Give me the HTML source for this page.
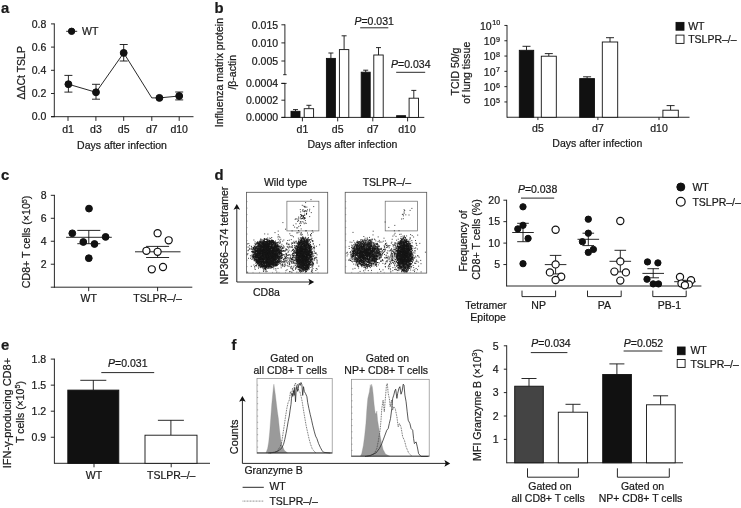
<!DOCTYPE html>
<html><head><meta charset="utf-8"><title>Figure</title>
<style>
html,body{margin:0;padding:0;background:#fff;}
body{width:741px;height:508px;overflow:hidden;}
svg{display:block;font-family:"Liberation Sans",sans-serif;fill:#1a1a1a;}
text{stroke:#1a1a1a;stroke-width:0.22px;}
</style></head><body>
<svg style="will-change:transform" width="741" height="508" viewBox="0 0 741 508">
<rect x="0" y="0" width="741" height="508" fill="#fff" stroke="none"/>
<text x="0.90" y="12.90" text-anchor="start" font-size="14.8" font-weight="bold" >a</text>
<line x1="54.30" y1="23.45" x2="54.30" y2="117.15" stroke="#111" stroke-width="0.9" />
<line x1="51.00" y1="116.70" x2="193.50" y2="116.70" stroke="#111" stroke-width="0.9" />
<line x1="51.00" y1="116.70" x2="54.30" y2="116.70" stroke="#111" stroke-width="0.9" />
<text x="46.30" y="120.30" text-anchor="end" font-size="10.5" >0.0</text>
<line x1="51.00" y1="93.50" x2="54.30" y2="93.50" stroke="#111" stroke-width="0.9" />
<text x="46.30" y="97.10" text-anchor="end" font-size="10.5" >0.2</text>
<line x1="51.00" y1="70.30" x2="54.30" y2="70.30" stroke="#111" stroke-width="0.9" />
<text x="46.30" y="73.90" text-anchor="end" font-size="10.5" >0.4</text>
<line x1="51.00" y1="47.10" x2="54.30" y2="47.10" stroke="#111" stroke-width="0.9" />
<text x="46.30" y="50.70" text-anchor="end" font-size="10.5" >0.6</text>
<line x1="51.00" y1="23.90" x2="54.30" y2="23.90" stroke="#111" stroke-width="0.9" />
<text x="46.30" y="27.50" text-anchor="end" font-size="10.5" >0.8</text>
<line x1="68.00" y1="116.70" x2="68.00" y2="120.90" stroke="#111" stroke-width="0.9" />
<text x="68.00" y="132.50" text-anchor="middle" font-size="10.5" >d1</text>
<line x1="95.90" y1="116.70" x2="95.90" y2="120.90" stroke="#111" stroke-width="0.9" />
<text x="95.90" y="132.50" text-anchor="middle" font-size="10.5" >d3</text>
<line x1="123.70" y1="116.70" x2="123.70" y2="120.90" stroke="#111" stroke-width="0.9" />
<text x="123.70" y="132.50" text-anchor="middle" font-size="10.5" >d5</text>
<line x1="151.80" y1="116.70" x2="151.80" y2="120.90" stroke="#111" stroke-width="0.9" />
<text x="151.80" y="132.50" text-anchor="middle" font-size="10.5" >d7</text>
<line x1="179.20" y1="116.70" x2="179.20" y2="120.90" stroke="#111" stroke-width="0.9" />
<text x="179.20" y="132.50" text-anchor="middle" font-size="10.5" >d10</text>
<polyline fill="none" stroke="#111" stroke-width="0.9" points="68.4,84.2 96.0,92.3 123.7,52.9 151.8,97.9 159.4,97.9 179.2,96.0"/>
<line x1="68.40" y1="75.40" x2="68.40" y2="92.10" stroke="#111" stroke-width="0.9" />
<line x1="64.40" y1="75.40" x2="72.40" y2="75.40" stroke="#111" stroke-width="0.9" />
<line x1="64.40" y1="92.10" x2="72.40" y2="92.10" stroke="#111" stroke-width="0.9" />
<circle cx="68.40" cy="84.20" r="3.45" fill="#111" stroke="#111" stroke-width="1.0"/>
<line x1="96.00" y1="84.30" x2="96.00" y2="99.20" stroke="#111" stroke-width="0.9" />
<line x1="92.00" y1="84.30" x2="100.00" y2="84.30" stroke="#111" stroke-width="0.9" />
<line x1="92.00" y1="99.20" x2="100.00" y2="99.20" stroke="#111" stroke-width="0.9" />
<circle cx="96.00" cy="92.30" r="3.45" fill="#111" stroke="#111" stroke-width="1.0"/>
<line x1="123.70" y1="44.50" x2="123.70" y2="61.00" stroke="#111" stroke-width="0.9" />
<line x1="119.70" y1="44.50" x2="127.70" y2="44.50" stroke="#111" stroke-width="0.9" />
<line x1="119.70" y1="61.00" x2="127.70" y2="61.00" stroke="#111" stroke-width="0.9" />
<circle cx="123.70" cy="52.90" r="3.45" fill="#111" stroke="#111" stroke-width="1.0"/>
<circle cx="159.40" cy="97.90" r="3.45" fill="#111" stroke="#111" stroke-width="1.0"/>
<line x1="179.20" y1="92.00" x2="179.20" y2="99.90" stroke="#111" stroke-width="0.9" />
<line x1="175.20" y1="92.00" x2="183.20" y2="92.00" stroke="#111" stroke-width="0.9" />
<line x1="175.20" y1="99.90" x2="183.20" y2="99.90" stroke="#111" stroke-width="0.9" />
<circle cx="179.20" cy="96.00" r="3.45" fill="#111" stroke="#111" stroke-width="1.0"/>
<line x1="66.20" y1="31.30" x2="77.20" y2="31.30" stroke="#111" stroke-width="0.9" />
<circle cx="71.60" cy="31.30" r="3.20" fill="#111" stroke="#111" stroke-width="1.0"/>
<text x="82.00" y="35.20" text-anchor="start" font-size="10.5" >WT</text>
<text transform="translate(25.40,72.80) rotate(-90)" text-anchor="middle" font-size="10.5">ΔΔCt TSLP</text>
<text x="122.00" y="148.80" text-anchor="middle" font-size="10.5" >Days after infection</text>
<text x="214.60" y="12.80" text-anchor="start" font-size="14.8" font-weight="bold" >b</text>
<line x1="284.90" y1="24.35" x2="284.90" y2="74.70" stroke="#111" stroke-width="0.9" />
<line x1="284.90" y1="83.40" x2="284.90" y2="117.85" stroke="#111" stroke-width="0.9" />
<line x1="281.40" y1="117.40" x2="424.30" y2="117.40" stroke="#111" stroke-width="0.9" />
<line x1="283.20" y1="74.70" x2="286.60" y2="74.70" stroke="#111" stroke-width="0.9" />
<line x1="281.40" y1="83.40" x2="286.60" y2="83.40" stroke="#111" stroke-width="0.9" />
<line x1="281.40" y1="24.80" x2="284.90" y2="24.80" stroke="#111" stroke-width="0.9" />
<text x="278.10" y="28.50" text-anchor="end" font-size="10.5" >0.015</text>
<line x1="281.40" y1="42.90" x2="284.90" y2="42.90" stroke="#111" stroke-width="0.9" />
<text x="278.10" y="46.60" text-anchor="end" font-size="10.5" >0.010</text>
<line x1="281.40" y1="61.00" x2="284.90" y2="61.00" stroke="#111" stroke-width="0.9" />
<text x="278.10" y="64.70" text-anchor="end" font-size="10.5" >0.005</text>
<line x1="281.40" y1="83.40" x2="284.90" y2="83.40" stroke="#111" stroke-width="0.9" />
<text x="278.10" y="87.10" text-anchor="end" font-size="10.5" >0.0004</text>
<line x1="281.40" y1="100.20" x2="284.90" y2="100.20" stroke="#111" stroke-width="0.9" />
<text x="278.10" y="103.90" text-anchor="end" font-size="10.5" >0.0002</text>
<line x1="281.40" y1="117.40" x2="284.90" y2="117.40" stroke="#111" stroke-width="0.9" />
<text x="278.10" y="121.10" text-anchor="end" font-size="10.5" >0.0000</text>
<line x1="295.50" y1="109.60" x2="295.50" y2="111.30" stroke="#111" stroke-width="0.9" />
<line x1="293.00" y1="109.60" x2="298.00" y2="109.60" stroke="#111" stroke-width="0.9" />
<rect x="291.00" y="111.30" width="9.00" height="6.10" fill="#111" stroke="#111" stroke-width="0.9"/>
<line x1="308.90" y1="105.30" x2="308.90" y2="108.70" stroke="#111" stroke-width="0.9" />
<line x1="306.40" y1="105.30" x2="311.40" y2="105.30" stroke="#111" stroke-width="0.9" />
<rect x="304.20" y="108.70" width="9.40" height="8.70" fill="#fff" stroke="#111" stroke-width="0.9"/>
<line x1="302.40" y1="117.40" x2="302.40" y2="121.40" stroke="#111" stroke-width="0.9" />
<text x="302.40" y="132.60" text-anchor="middle" font-size="10.5" >d1</text>
<line x1="330.90" y1="53.00" x2="330.90" y2="58.40" stroke="#111" stroke-width="0.9" />
<line x1="328.40" y1="53.00" x2="333.40" y2="53.00" stroke="#111" stroke-width="0.9" />
<rect x="326.40" y="58.40" width="9.00" height="59.00" fill="#111" stroke="#111" stroke-width="0.9"/>
<line x1="344.10" y1="35.80" x2="344.10" y2="49.60" stroke="#111" stroke-width="0.9" />
<line x1="341.60" y1="35.80" x2="346.60" y2="35.80" stroke="#111" stroke-width="0.9" />
<rect x="339.40" y="49.60" width="9.40" height="67.80" fill="#fff" stroke="#111" stroke-width="0.9"/>
<line x1="337.70" y1="117.40" x2="337.70" y2="121.40" stroke="#111" stroke-width="0.9" />
<text x="337.70" y="132.60" text-anchor="middle" font-size="10.5" >d5</text>
<line x1="365.70" y1="70.20" x2="365.70" y2="72.20" stroke="#111" stroke-width="0.9" />
<line x1="363.20" y1="70.20" x2="368.20" y2="70.20" stroke="#111" stroke-width="0.9" />
<rect x="361.20" y="72.20" width="9.00" height="45.20" fill="#111" stroke="#111" stroke-width="0.9"/>
<line x1="378.50" y1="47.60" x2="378.50" y2="55.00" stroke="#111" stroke-width="0.9" />
<line x1="376.00" y1="47.60" x2="381.00" y2="47.60" stroke="#111" stroke-width="0.9" />
<rect x="373.80" y="55.00" width="9.40" height="62.40" fill="#fff" stroke="#111" stroke-width="0.9"/>
<line x1="372.80" y1="117.40" x2="372.80" y2="121.40" stroke="#111" stroke-width="0.9" />
<text x="372.80" y="132.60" text-anchor="middle" font-size="10.5" >d7</text>
<rect x="396.60" y="115.70" width="9.00" height="1.70" fill="#111" stroke="#111" stroke-width="0.9"/>
<line x1="413.80" y1="90.40" x2="413.80" y2="98.20" stroke="#111" stroke-width="0.9" />
<line x1="411.30" y1="90.40" x2="416.30" y2="90.40" stroke="#111" stroke-width="0.9" />
<rect x="409.10" y="98.20" width="9.40" height="19.20" fill="#fff" stroke="#111" stroke-width="0.9"/>
<line x1="407.60" y1="117.40" x2="407.60" y2="121.40" stroke="#111" stroke-width="0.9" />
<text x="407.00" y="132.60" text-anchor="middle" font-size="10.5" >d10</text>
<text x="374.20" y="25.40" text-anchor="middle" font-size="10.5"><tspan font-style="italic">P</tspan>=0.031</text>
<line x1="360.20" y1="27.80" x2="388.30" y2="27.80" stroke="#111" stroke-width="0.9" />
<text x="410.80" y="67.60" text-anchor="middle" font-size="10.5"><tspan font-style="italic">P</tspan>=0.034</text>
<line x1="396.20" y1="72.30" x2="425.20" y2="72.30" stroke="#111" stroke-width="0.9" />
<text transform="translate(223.00,72.60) rotate(-90)" text-anchor="middle" font-size="10.5">Influenza matrix protein</text>
<text transform="translate(235.80,72.30) rotate(-90)" text-anchor="middle" font-size="10.5">/β-actin</text>
<text x="352.40" y="147.80" text-anchor="middle" font-size="10.5" >Days after infection</text>
<line x1="507.00" y1="25.00" x2="507.00" y2="117.70" stroke="#111" stroke-width="0.9" />
<line x1="507.00" y1="117.25" x2="689.50" y2="117.25" stroke="#111" stroke-width="0.9" />
<line x1="504.40" y1="101.95" x2="507.00" y2="101.95" stroke="#111" stroke-width="0.9" />
<text x="495.50" y="106.25" text-anchor="end" font-size="10.5">10</text><text x="500.00" y="103.05" text-anchor="end" font-size="7.2">5</text>
<line x1="504.40" y1="86.65" x2="507.00" y2="86.65" stroke="#111" stroke-width="0.9" />
<text x="495.50" y="90.95" text-anchor="end" font-size="10.5">10</text><text x="500.00" y="87.75" text-anchor="end" font-size="7.2">6</text>
<line x1="504.40" y1="71.35" x2="507.00" y2="71.35" stroke="#111" stroke-width="0.9" />
<text x="495.50" y="75.65" text-anchor="end" font-size="10.5">10</text><text x="500.00" y="72.45" text-anchor="end" font-size="7.2">7</text>
<line x1="504.40" y1="56.05" x2="507.00" y2="56.05" stroke="#111" stroke-width="0.9" />
<text x="495.50" y="60.35" text-anchor="end" font-size="10.5">10</text><text x="500.00" y="57.15" text-anchor="end" font-size="7.2">8</text>
<line x1="504.40" y1="40.75" x2="507.00" y2="40.75" stroke="#111" stroke-width="0.9" />
<text x="495.50" y="45.05" text-anchor="end" font-size="10.5">10</text><text x="500.00" y="41.85" text-anchor="end" font-size="7.2">9</text>
<line x1="504.40" y1="25.45" x2="507.00" y2="25.45" stroke="#111" stroke-width="0.9" />
<text x="491.70" y="29.75" text-anchor="end" font-size="10.5">10</text><text x="500.20" y="25.15" text-anchor="end" font-size="7.2">10</text>
<line x1="526.50" y1="46.30" x2="526.50" y2="50.30" stroke="#111" stroke-width="0.9" />
<line x1="522.50" y1="46.30" x2="530.50" y2="46.30" stroke="#111" stroke-width="0.9" />
<rect x="519.30" y="50.30" width="14.40" height="66.95" fill="#111" stroke="#111" stroke-width="0.9"/>
<line x1="548.80" y1="53.60" x2="548.80" y2="56.20" stroke="#111" stroke-width="0.9" />
<line x1="544.80" y1="53.60" x2="552.80" y2="53.60" stroke="#111" stroke-width="0.9" />
<rect x="541.30" y="56.20" width="15.00" height="61.05" fill="#fff" stroke="#111" stroke-width="0.9"/>
<line x1="587.10" y1="76.80" x2="587.10" y2="78.60" stroke="#111" stroke-width="0.9" />
<line x1="583.10" y1="76.80" x2="591.10" y2="76.80" stroke="#111" stroke-width="0.9" />
<rect x="579.70" y="78.60" width="14.80" height="38.65" fill="#111" stroke="#111" stroke-width="0.9"/>
<line x1="610.00" y1="37.70" x2="610.00" y2="42.00" stroke="#111" stroke-width="0.9" />
<line x1="606.00" y1="37.70" x2="614.00" y2="37.70" stroke="#111" stroke-width="0.9" />
<rect x="602.30" y="42.00" width="15.40" height="75.25" fill="#fff" stroke="#111" stroke-width="0.9"/>
<line x1="670.60" y1="105.60" x2="670.60" y2="110.20" stroke="#111" stroke-width="0.9" />
<line x1="666.60" y1="105.60" x2="674.60" y2="105.60" stroke="#111" stroke-width="0.9" />
<rect x="662.90" y="110.20" width="15.40" height="7.05" fill="#fff" stroke="#111" stroke-width="0.9"/>
<line x1="537.90" y1="117.25" x2="537.90" y2="120.05" stroke="#111" stroke-width="0.9" />
<text x="537.90" y="132.30" text-anchor="middle" font-size="10.5" >d5</text>
<line x1="597.90" y1="117.25" x2="597.90" y2="120.05" stroke="#111" stroke-width="0.9" />
<text x="597.90" y="132.30" text-anchor="middle" font-size="10.5" >d7</text>
<line x1="659.00" y1="117.25" x2="659.00" y2="120.05" stroke="#111" stroke-width="0.9" />
<text x="659.00" y="132.30" text-anchor="middle" font-size="10.5" >d10</text>
<text x="597.30" y="147.30" text-anchor="middle" font-size="10.5" >Days after infection</text>
<text transform="translate(459.20,71.60) rotate(-90)" text-anchor="middle" font-size="10.5">TCID 50/g</text>
<text transform="translate(470.40,72.70) rotate(-90)" text-anchor="middle" font-size="10.5">of lung tissue</text>
<rect x="676.00" y="22.40" width="8.00" height="7.80" fill="#111" stroke="#111" stroke-width="0.9"/>
<text x="688.20" y="30.40" text-anchor="start" font-size="10.5" >WT</text>
<rect x="676.00" y="35.10" width="8.00" height="8.30" fill="#fff" stroke="#111" stroke-width="0.9"/>
<text x="688.20" y="43.40" text-anchor="start" font-size="10.5" >TSLPR–/–</text>
<text x="0.90" y="180.00" text-anchor="start" font-size="14.8" font-weight="bold" >c</text>
<line x1="54.40" y1="194.87" x2="54.40" y2="287.65" stroke="#111" stroke-width="0.9" />
<line x1="50.80" y1="287.20" x2="192.30" y2="287.20" stroke="#111" stroke-width="0.9" />
<line x1="50.80" y1="264.23" x2="54.40" y2="264.23" stroke="#111" stroke-width="0.9" />
<text x="46.60" y="267.93" text-anchor="end" font-size="10.5" >2</text>
<line x1="50.80" y1="241.26" x2="54.40" y2="241.26" stroke="#111" stroke-width="0.9" />
<text x="46.60" y="244.96" text-anchor="end" font-size="10.5" >4</text>
<line x1="50.80" y1="218.29" x2="54.40" y2="218.29" stroke="#111" stroke-width="0.9" />
<text x="46.60" y="221.99" text-anchor="end" font-size="10.5" >6</text>
<line x1="50.80" y1="195.32" x2="54.40" y2="195.32" stroke="#111" stroke-width="0.9" />
<text x="46.60" y="199.02" text-anchor="end" font-size="10.5" >8</text>
<line x1="88.70" y1="287.20" x2="88.70" y2="291.20" stroke="#111" stroke-width="0.9" />
<text x="88.70" y="302.10" text-anchor="middle" font-size="10.5" >WT</text>
<line x1="157.60" y1="287.20" x2="157.60" y2="291.20" stroke="#111" stroke-width="0.9" />
<text x="157.60" y="302.10" text-anchor="middle" font-size="10.5" >TSLPR–/–</text>
<line x1="66.10" y1="237.30" x2="111.80" y2="237.30" stroke="#111" stroke-width="0.9" />
<line x1="88.80" y1="230.40" x2="88.80" y2="243.70" stroke="#111" stroke-width="0.9" />
<line x1="77.30" y1="230.40" x2="100.30" y2="230.40" stroke="#111" stroke-width="0.9" />
<line x1="77.30" y1="243.70" x2="100.30" y2="243.70" stroke="#111" stroke-width="0.9" />
<circle cx="89.00" cy="208.60" r="3.40" fill="#111" stroke="#111" stroke-width="1.0"/>
<circle cx="72.30" cy="233.30" r="3.40" fill="#111" stroke="#111" stroke-width="1.0"/>
<circle cx="105.60" cy="236.90" r="3.40" fill="#111" stroke="#111" stroke-width="1.0"/>
<circle cx="83.30" cy="242.00" r="3.40" fill="#111" stroke="#111" stroke-width="1.0"/>
<circle cx="94.50" cy="244.00" r="3.40" fill="#111" stroke="#111" stroke-width="1.0"/>
<circle cx="88.80" cy="258.20" r="3.40" fill="#111" stroke="#111" stroke-width="1.0"/>
<line x1="135.00" y1="251.80" x2="180.50" y2="251.80" stroke="#111" stroke-width="0.9" />
<line x1="157.60" y1="246.40" x2="157.60" y2="257.50" stroke="#111" stroke-width="0.9" />
<line x1="146.10" y1="246.40" x2="169.10" y2="246.40" stroke="#111" stroke-width="0.9" />
<line x1="146.10" y1="257.50" x2="169.10" y2="257.50" stroke="#111" stroke-width="0.9" />
<circle cx="157.60" cy="233.20" r="3.55" fill="#fff" stroke="#111" stroke-width="1.2"/>
<circle cx="168.70" cy="240.30" r="3.55" fill="#fff" stroke="#111" stroke-width="1.2"/>
<circle cx="146.40" cy="250.80" r="3.55" fill="#fff" stroke="#111" stroke-width="1.2"/>
<circle cx="157.60" cy="251.80" r="3.55" fill="#fff" stroke="#111" stroke-width="1.2"/>
<circle cx="163.00" cy="267.00" r="3.55" fill="#fff" stroke="#111" stroke-width="1.2"/>
<circle cx="151.80" cy="269.30" r="3.55" fill="#fff" stroke="#111" stroke-width="1.2"/>
<text transform="translate(30.4,241.9) rotate(-90)" text-anchor="middle" font-size="10.6">CD8+ T cells (×10<tspan font-size="7.2" dy="-3.6">5</tspan><tspan dy="3.6">)</tspan></text>
<text x="214.60" y="179.50" text-anchor="start" font-size="14.8" font-weight="bold" >d</text>
<text x="285.50" y="186.40" text-anchor="middle" font-size="10.5" >Wild type</text>
<text x="386.90" y="186.40" text-anchor="middle" font-size="10.5" >TSLPR–/–</text>
<text transform="translate(227.60,235.40) rotate(-90)" text-anchor="middle" font-size="10.5">NP366–374 tetramer</text>
<line x1="236.80" y1="282.00" x2="236.80" y2="208.00" stroke="#111" stroke-width="0.9" />
<path d="M233.5,209.8L236.8,204.0L240.1,209.8L236.8,208.5Z" fill="#111"/>
<line x1="236.80" y1="282.00" x2="310.20" y2="282.00" stroke="#111" stroke-width="0.9" />
<path d="M308.4,278.7L314.2,282.0L308.4,285.3L309.7,282.0Z" fill="#111"/>
<text x="253.00" y="295.60" text-anchor="start" font-size="10.5" >CD8a</text>
<rect x="246.50" y="192.30" width="81.20" height="80.80" fill="#fff" stroke="#555" stroke-width="0.8"/>
<clipPath id="cp246"><rect x="246.9" y="192.70000000000002" width="80.4" height="80.0"/></clipPath>
<g clip-path="url(#cp246)">
</g>
<rect x="286.90" y="201.20" width="32.00" height="29.70" fill="none" stroke="#666" stroke-width="0.7"/>
<path d="M274.7 257.6h0M259.4 262.3h0M263.9 255.2h0M270.2 255.9h0M268.6 263.1h0M277.3 250.5h0M275.5 256.4h0M263.3 268.1h0M269.3 248.8h0M261.5 250.8h0M276.7 257.9h0M268.0 257.4h0M257.6 248.4h0M264.0 263.1h0M255.9 248.4h0M273.9 247.1h0M275.5 261.6h0M267.5 242.9h0M264.3 249.3h0M255.9 248.5h0M256.5 246.9h0M255.4 257.1h0M259.7 242.0h0M266.0 250.7h0M264.2 266.5h0M262.7 246.4h0M268.5 255.2h0M267.4 250.5h0M270.5 250.3h0M262.9 255.2h0M274.7 245.2h0M261.2 257.3h0M272.7 261.7h0M267.6 259.0h0M266.5 259.9h0M266.2 254.3h0M264.4 247.4h0M260.1 247.7h0M269.5 240.8h0M271.2 240.7h0M261.3 247.5h0M270.3 255.4h0M273.4 256.1h0M267.1 254.1h0M270.1 250.8h0M273.7 262.8h0M271.9 258.6h0M280.9 253.3h0M274.5 259.4h0M266.2 262.1h0M279.4 250.0h0M273.3 262.1h0M278.4 252.4h0M262.6 241.4h0M268.0 247.0h0M268.9 243.5h0M275.3 253.1h0M272.2 240.0h0M254.3 252.5h0M274.9 255.3h0M266.2 251.7h0M253.1 258.6h0M256.1 266.1h0M268.0 260.3h0M272.3 250.1h0M252.7 255.7h0M260.8 244.2h0M269.6 241.2h0M269.8 242.7h0M269.6 246.2h0M279.4 249.7h0M273.1 264.9h0M268.9 248.7h0M269.9 248.5h0M254.1 249.9h0M271.8 254.3h0M279.1 248.6h0M273.0 247.8h0M263.5 266.3h0M260.7 250.1h0M272.9 250.2h0M258.7 256.1h0M277.1 248.3h0M257.6 252.0h0M271.6 263.9h0M267.3 253.1h0M262.2 252.1h0M258.8 253.0h0M257.1 250.0h0M265.9 260.5h0M267.7 242.9h0M254.4 258.5h0M263.5 244.6h0M257.7 252.0h0M274.8 246.3h0M266.2 266.9h0M274.9 263.0h0M262.6 255.5h0M265.1 250.6h0M277.3 246.2h0M270.4 258.1h0M278.6 251.5h0M259.9 254.5h0M273.8 242.1h0M264.2 258.2h0M264.3 259.8h0M254.6 258.7h0M266.1 255.6h0M277.8 252.9h0M279.4 251.7h0M267.8 249.5h0M272.2 259.3h0M266.4 264.1h0M271.4 251.5h0M276.9 257.6h0M256.8 259.0h0M268.3 250.0h0M269.4 250.9h0M264.9 257.1h0M275.8 249.6h0M267.6 261.6h0M269.7 258.1h0M265.9 256.9h0M263.7 266.5h0M277.3 255.1h0M274.5 254.6h0M255.6 255.7h0M277.6 262.1h0M273.0 243.9h0M257.8 253.5h0M273.2 243.1h0M259.2 245.1h0M273.1 260.3h0M266.8 250.1h0M271.0 247.9h0M260.5 242.1h0M259.7 255.8h0M261.3 255.9h0M258.6 251.4h0M273.5 252.5h0M261.2 259.2h0M257.2 253.7h0M266.4 260.1h0M263.6 256.4h0M267.3 256.9h0M256.2 251.9h0M275.3 246.1h0M263.4 260.8h0M257.6 242.2h0M268.7 251.1h0M271.6 242.8h0M262.2 253.2h0M272.0 244.4h0M274.4 248.1h0M278.3 256.1h0M263.9 257.6h0M263.6 250.5h0M262.7 244.7h0M266.9 242.7h0M257.1 251.7h0M266.8 266.6h0M266.6 257.9h0M279.4 252.0h0M258.7 261.4h0M260.1 247.8h0M275.8 258.5h0M265.2 258.9h0M279.1 254.8h0M265.8 250.7h0M263.7 266.4h0M273.8 260.1h0M271.3 266.7h0M253.2 257.5h0M279.5 251.4h0M275.9 250.8h0M261.0 250.6h0M269.9 257.0h0M254.5 253.2h0M277.5 246.1h0M276.2 255.3h0M266.8 254.6h0M264.0 258.3h0M267.0 246.0h0M276.4 262.6h0M263.7 266.4h0M261.4 258.3h0M255.1 259.6h0M273.8 256.0h0M271.3 252.1h0M266.3 260.5h0M277.0 251.1h0M272.4 240.8h0M254.5 250.0h0M277.3 257.2h0M260.5 245.7h0M274.5 256.3h0M258.9 265.8h0M266.4 245.8h0M262.6 266.9h0M257.7 261.1h0M272.0 250.6h0M269.0 264.0h0M276.4 265.0h0M272.2 257.2h0M266.5 262.5h0M275.4 246.8h0M255.7 252.2h0M262.2 261.5h0M269.4 256.3h0M258.7 245.2h0M267.1 267.1h0M258.0 257.0h0M282.0 255.9h0M266.4 251.8h0M279.0 253.9h0M275.1 249.9h0M267.1 268.3h0M269.2 257.1h0M265.3 244.7h0M267.9 244.6h0M268.9 244.8h0M273.0 250.7h0M266.9 265.0h0M263.3 242.9h0M262.5 251.4h0M268.5 262.9h0M255.6 256.7h0M258.4 243.0h0M267.2 266.3h0M263.1 240.6h0M263.1 246.4h0M266.6 263.1h0M278.9 256.5h0M259.9 257.7h0M266.2 241.8h0M270.2 264.7h0M268.6 266.8h0M267.5 246.4h0M270.2 261.5h0M261.3 257.1h0M257.5 261.3h0M273.4 252.9h0M262.7 257.3h0M277.1 245.0h0M260.1 266.4h0M272.6 251.5h0M257.1 263.2h0M262.6 261.5h0M263.3 258.8h0M276.9 263.5h0M273.2 241.3h0M254.4 259.5h0M269.5 252.5h0M262.8 258.6h0M272.5 240.6h0M279.2 257.0h0M266.9 256.9h0M277.5 246.2h0M261.0 248.6h0M265.2 245.5h0M267.3 246.0h0M257.9 243.8h0M252.6 256.1h0M280.4 250.0h0M258.2 254.3h0M273.1 267.3h0M268.8 241.6h0M262.6 262.1h0M273.4 257.3h0M267.1 247.0h0M260.2 251.6h0M275.1 252.9h0M279.2 260.9h0M262.6 253.9h0M257.2 259.5h0M261.8 243.9h0M276.5 262.8h0M263.8 265.1h0M270.0 263.0h0M267.2 261.5h0M264.2 259.1h0M275.3 253.5h0M261.1 245.6h0M279.9 263.5h0M275.9 248.6h0M266.3 256.2h0M262.4 251.3h0M255.6 265.6h0M269.2 241.8h0M278.1 262.5h0M259.9 261.5h0M268.5 258.8h0M268.9 260.0h0M266.3 255.1h0M270.5 265.2h0M254.1 250.0h0M263.4 252.7h0M277.0 260.3h0M265.8 259.3h0M274.0 251.8h0M260.6 257.6h0M279.8 253.6h0M269.6 262.3h0M268.0 253.2h0M274.1 247.6h0M271.7 261.4h0M268.3 253.1h0M264.1 251.1h0M265.3 261.9h0M276.1 249.3h0M270.9 253.1h0M271.5 258.4h0M281.2 258.8h0M256.7 262.5h0M273.4 263.9h0M269.0 264.9h0M271.0 262.7h0M262.3 257.3h0M267.2 263.7h0M276.9 246.5h0M269.4 254.5h0M276.1 262.1h0M263.6 263.0h0M259.3 249.6h0M258.8 257.2h0M265.5 252.6h0M268.9 244.2h0M271.7 263.6h0M257.9 258.1h0M262.9 255.5h0M276.8 259.4h0M269.2 241.7h0M259.0 261.5h0M276.4 264.5h0M272.9 240.5h0M273.2 253.2h0M272.9 263.8h0M277.9 248.9h0M268.8 256.7h0M264.7 268.4h0M278.9 247.4h0M266.4 260.7h0M271.1 262.9h0M272.4 251.7h0M269.6 242.2h0M262.4 253.0h0M257.4 250.5h0M276.0 245.8h0M263.0 257.0h0M265.8 266.3h0M268.2 241.0h0M271.0 261.9h0M266.7 267.7h0M278.8 252.7h0M277.5 254.0h0M268.5 255.9h0M275.1 247.8h0M267.8 259.1h0M259.9 262.9h0M264.1 257.5h0M268.7 259.7h0M256.5 255.5h0M270.3 258.3h0M264.2 250.7h0M265.8 267.1h0M266.1 252.8h0M257.7 257.3h0M265.4 239.2h0M259.9 252.5h0M267.7 262.7h0M263.7 252.8h0M275.5 264.4h0M263.3 249.4h0M272.5 264.5h0M273.0 249.0h0M264.2 241.5h0M265.8 254.2h0M256.6 257.1h0M273.9 255.6h0M267.0 245.5h0M265.7 266.3h0M258.3 257.5h0M259.6 244.8h0M269.8 267.2h0M268.2 267.8h0M278.6 249.8h0M261.6 263.7h0M273.7 249.6h0M277.7 252.5h0M271.6 246.7h0M265.0 241.7h0M263.4 263.1h0M272.4 250.6h0M272.2 254.8h0M270.1 257.7h0M269.3 254.5h0M266.1 243.2h0M264.2 252.1h0M274.0 248.2h0M269.1 251.6h0M270.9 267.2h0M271.6 254.9h0M273.2 241.9h0M264.7 263.6h0M268.4 258.6h0M259.3 257.8h0M266.6 251.9h0M263.1 262.1h0M258.3 246.1h0M264.9 255.2h0M264.3 244.9h0M269.0 263.2h0M274.1 266.7h0M267.2 254.4h0M254.5 254.6h0M269.9 244.5h0M269.8 249.1h0M273.8 251.4h0M259.2 254.0h0M263.5 250.0h0M268.0 249.9h0M260.9 261.6h0M273.7 257.9h0M281.6 256.2h0M260.6 253.9h0M274.6 247.2h0M267.2 247.8h0M259.3 244.0h0M271.5 247.2h0M266.4 242.1h0M262.5 251.5h0M261.8 255.1h0M262.7 266.4h0M274.0 243.6h0M264.3 258.9h0M272.7 262.9h0M265.8 245.3h0M272.3 252.6h0M268.0 250.3h0M254.1 259.4h0M268.7 259.7h0M275.4 255.7h0M257.7 253.9h0M257.3 256.1h0M266.7 249.0h0M255.4 259.3h0M268.4 264.4h0M275.1 246.4h0M261.9 243.3h0M257.7 256.6h0M260.2 257.6h0M264.2 242.2h0M256.2 257.0h0M256.8 260.4h0M260.1 244.0h0M257.6 261.7h0M257.2 251.2h0M268.1 248.4h0M255.2 248.0h0M264.9 243.9h0M257.9 252.7h0M274.6 251.4h0M267.5 247.7h0M271.6 253.5h0M259.7 259.1h0M265.5 254.7h0M266.1 262.7h0M266.7 247.7h0M271.1 241.7h0M269.1 262.3h0M263.5 250.0h0M259.3 250.8h0M262.3 248.4h0M272.1 242.5h0M273.7 260.5h0M258.3 265.0h0M266.7 266.7h0M270.9 263.0h0M267.0 254.6h0M259.8 254.8h0M261.4 260.3h0M274.6 244.2h0M267.8 250.4h0M269.2 250.0h0M277.9 250.5h0M267.0 265.3h0M267.8 249.3h0M272.0 261.0h0M277.6 245.4h0M269.1 243.7h0M273.8 243.1h0M265.0 248.6h0M274.6 247.1h0M266.1 263.4h0M273.8 256.5h0M273.4 262.0h0M272.8 247.2h0M267.6 252.9h0M271.7 246.7h0M259.8 257.9h0M256.9 242.5h0M265.1 252.3h0M279.4 252.5h0M257.2 254.8h0M256.3 243.3h0M272.5 247.5h0M268.0 246.3h0M260.9 256.5h0M264.9 261.4h0M256.9 260.8h0M276.8 252.4h0M270.3 241.9h0M260.2 249.9h0M269.6 242.3h0M264.4 253.1h0M266.2 256.4h0M266.1 253.2h0M270.3 241.0h0M258.3 245.2h0M258.0 247.7h0M255.4 257.0h0M278.1 262.0h0M272.9 250.4h0M258.9 262.5h0M266.3 266.9h0M260.8 257.2h0M273.6 251.0h0M263.8 252.5h0M264.2 252.5h0M252.9 258.8h0M268.4 253.3h0M252.1 256.2h0M269.3 263.4h0M272.9 254.5h0M267.9 253.7h0M269.8 251.0h0M267.3 259.6h0M271.7 265.1h0M269.0 251.4h0M276.2 259.2h0M277.0 249.4h0M273.4 252.5h0M259.9 244.1h0M278.3 260.0h0M272.1 248.0h0M275.8 257.3h0M263.5 246.9h0M268.5 249.0h0M260.1 257.8h0M268.8 246.2h0M263.3 267.3h0M270.1 253.4h0M257.3 246.4h0M273.4 242.6h0M275.1 247.1h0M263.3 245.4h0M264.4 265.7h0M267.0 254.4h0M273.1 248.7h0M268.3 251.6h0M265.0 267.2h0M271.2 242.7h0M277.8 260.2h0M270.0 244.3h0M267.6 260.1h0M263.0 245.9h0M267.1 244.2h0M254.0 257.2h0M267.5 258.2h0M274.5 248.3h0M256.7 247.5h0M269.2 259.5h0M261.6 251.6h0M258.7 253.0h0M262.1 258.8h0M263.7 250.3h0M259.5 264.8h0M278.1 255.3h0M264.0 254.2h0M266.2 264.3h0M268.1 243.7h0M280.6 250.8h0M270.2 260.6h0M270.9 255.2h0M277.6 250.3h0M278.7 258.8h0M277.3 251.2h0M260.2 251.0h0M257.1 261.7h0M271.9 261.6h0M281.3 257.4h0M262.7 259.6h0M281.5 258.3h0M264.1 242.9h0M274.2 263.0h0M278.4 249.4h0M267.6 242.8h0M264.7 258.4h0M270.8 260.5h0M271.6 259.6h0M271.5 266.1h0M269.4 252.7h0M272.9 249.0h0M262.3 255.5h0M263.5 250.3h0M262.2 261.3h0M274.1 262.7h0M273.4 256.2h0M274.9 245.7h0M260.9 257.6h0M264.2 258.6h0M260.3 254.3h0M275.2 252.8h0M269.6 251.9h0M264.3 265.3h0M269.3 261.3h0M276.8 249.0h0M265.9 258.1h0M262.9 268.2h0M281.6 255.4h0M279.5 254.0h0M253.8 251.7h0M268.0 258.9h0M274.4 262.5h0M269.0 259.6h0M270.0 255.7h0M269.8 263.7h0M264.1 243.3h0M278.2 258.7h0M257.1 260.3h0M260.0 265.5h0M276.0 243.8h0M255.4 255.6h0M265.6 267.1h0M270.3 259.3h0M260.3 249.4h0M266.1 253.8h0M265.9 249.2h0M263.8 241.1h0M267.1 245.7h0M263.0 254.0h0M258.4 252.3h0M269.1 266.1h0M272.0 257.6h0M272.9 257.9h0M270.9 264.7h0M265.3 253.7h0M275.9 260.5h0M276.4 263.0h0M257.3 253.9h0M272.2 259.8h0M274.4 245.2h0M269.5 258.0h0M278.2 249.3h0M259.4 252.7h0M275.9 250.5h0M260.8 264.2h0M276.8 252.8h0M275.3 242.3h0M264.0 253.6h0M254.1 260.7h0M259.7 262.1h0M255.9 253.6h0M268.4 255.5h0M257.3 243.3h0M274.8 247.1h0M265.5 268.5h0M265.2 265.6h0M267.0 265.2h0M258.1 257.8h0M258.8 243.2h0M262.6 251.0h0M254.3 256.6h0M273.1 262.1h0M262.7 256.8h0M267.3 261.8h0M264.2 251.6h0M261.0 245.7h0M261.1 252.1h0M257.0 255.8h0M259.1 253.3h0M259.0 249.2h0M267.1 255.3h0M255.1 254.5h0M268.1 246.0h0M272.1 256.2h0M257.2 262.1h0M266.1 244.6h0M266.7 249.1h0M263.5 259.5h0M271.7 247.5h0M255.5 252.6h0M255.0 255.8h0M264.2 243.5h0M282.1 254.3h0M255.1 246.9h0M257.4 259.3h0M275.6 245.2h0M257.0 256.6h0M263.6 266.1h0M263.4 261.2h0M274.2 244.1h0M263.8 262.8h0M262.1 251.4h0M261.4 264.9h0M274.5 241.9h0M279.0 246.4h0M268.5 254.4h0M268.3 245.4h0M277.5 253.8h0M260.1 259.6h0M260.1 249.3h0M257.7 252.4h0M264.0 256.9h0M272.9 248.4h0M253.6 255.0h0M262.8 260.2h0M270.4 246.3h0M269.4 249.2h0M276.4 261.6h0M279.7 253.1h0M256.9 259.3h0M261.5 253.7h0M269.8 259.9h0M277.6 253.5h0M277.4 256.7h0M263.6 245.4h0M266.7 254.7h0M270.9 264.8h0M258.1 250.9h0M273.9 253.8h0M258.6 259.1h0M271.2 257.2h0M269.4 258.2h0M270.7 243.9h0M270.2 254.1h0M259.9 263.1h0M266.3 260.3h0M264.2 257.8h0M260.3 259.7h0M270.5 253.0h0M260.6 248.0h0M272.1 247.4h0M273.7 249.0h0M279.0 250.9h0M277.5 250.5h0M268.1 260.0h0M273.0 248.0h0M271.6 262.7h0M270.1 261.2h0M277.2 262.8h0M258.4 261.3h0M271.3 245.7h0M267.3 262.3h0M273.0 255.2h0M260.3 264.0h0M266.3 259.3h0M275.7 262.8h0M272.5 262.3h0M265.7 246.7h0M275.7 251.2h0M268.4 263.6h0M266.3 264.1h0M254.5 246.3h0M269.0 262.2h0M277.5 264.0h0M268.3 244.6h0M262.2 246.8h0M275.9 259.2h0M270.8 248.8h0M259.7 250.9h0M258.7 253.9h0M268.2 261.9h0M265.9 248.9h0M268.0 247.6h0M276.4 242.8h0M264.8 249.3h0M260.0 263.2h0M267.1 262.3h0M260.0 263.1h0M276.8 248.0h0M264.1 241.8h0M268.0 256.7h0M261.2 259.2h0M268.2 256.3h0M254.0 247.8h0M262.2 243.1h0M276.1 254.0h0M279.6 257.3h0M257.4 246.3h0M267.8 251.0h0M272.8 250.5h0M256.3 262.2h0M273.2 242.6h0M259.2 257.9h0M261.6 240.0h0M254.7 257.6h0M266.0 251.1h0M272.3 259.3h0M278.8 257.2h0M255.4 250.5h0M258.5 244.0h0M260.4 261.9h0M269.8 262.7h0M262.9 246.5h0M267.4 261.4h0M262.0 260.6h0M273.2 248.5h0M269.0 249.4h0M267.7 243.8h0M261.6 255.2h0M272.5 244.2h0M268.3 258.4h0M266.3 257.5h0M271.7 257.8h0M259.7 255.3h0M275.7 254.5h0M267.0 239.6h0M263.4 252.4h0M263.4 254.2h0M276.7 254.4h0M257.8 242.3h0M266.9 266.2h0M271.3 259.0h0M266.3 256.2h0M263.6 250.0h0M269.9 240.8h0M266.4 241.4h0M263.3 261.6h0M257.7 250.8h0M275.6 256.1h0M260.0 246.7h0M278.5 249.8h0M258.7 253.9h0M271.8 256.5h0M273.7 264.8h0M276.5 256.3h0M270.4 262.5h0M275.6 243.1h0M255.7 259.5h0M260.7 257.3h0M260.0 256.7h0M273.4 264.5h0M260.9 256.2h0M275.9 259.1h0M258.8 255.9h0M282.7 251.4h0M257.7 245.3h0M256.0 245.0h0M259.7 250.5h0M263.3 265.4h0M273.3 248.4h0M264.7 254.7h0M264.5 250.1h0M259.1 252.4h0M258.9 260.0h0M262.1 252.4h0M270.6 249.8h0M266.9 261.5h0M257.1 250.5h0M260.5 253.4h0M276.4 259.0h0M273.4 246.6h0M264.6 243.4h0M264.4 239.7h0M269.5 249.4h0M258.0 250.2h0M276.6 264.9h0M257.8 263.3h0M265.5 252.9h0M261.4 256.7h0M256.2 243.7h0M274.6 246.0h0M266.8 248.6h0M270.8 246.6h0M263.9 257.0h0M280.2 257.5h0M275.6 260.0h0M276.5 249.2h0M266.7 265.0h0M262.3 251.3h0M272.0 254.6h0M262.5 252.3h0M264.2 247.3h0M257.6 251.6h0M271.8 241.6h0M275.7 265.8h0M274.1 246.8h0M272.5 241.9h0M257.8 261.2h0M258.7 260.4h0M255.5 244.4h0M270.0 251.6h0M278.0 257.0h0M262.1 251.4h0M261.3 261.3h0M268.0 254.0h0M276.3 253.1h0M266.5 257.1h0M258.9 253.9h0M273.4 252.2h0M280.3 256.7h0M268.7 243.3h0M260.7 246.9h0M272.8 248.0h0M260.4 239.9h0M259.1 253.5h0M261.2 261.7h0M261.6 262.6h0M275.2 253.3h0M267.9 263.2h0M272.8 260.4h0M265.8 254.3h0M263.8 263.3h0M264.8 259.6h0M255.2 250.0h0M256.2 247.8h0M269.0 258.0h0M268.8 242.6h0M273.3 247.2h0M266.5 256.9h0M274.2 254.9h0M268.1 259.4h0M270.1 263.4h0M270.9 264.9h0M277.8 251.4h0M275.8 245.3h0M272.8 260.5h0M263.7 250.0h0M270.1 266.5h0M260.3 258.4h0M261.6 262.6h0M264.7 251.6h0M258.7 254.2h0M277.9 254.8h0M253.3 248.1h0M264.5 238.7h0M274.0 258.5h0M272.1 257.1h0M254.4 260.4h0M261.8 246.1h0M261.9 262.9h0M268.0 242.0h0M261.9 266.8h0M264.6 267.1h0M276.5 250.3h0M263.8 249.3h0M258.8 263.3h0M279.2 261.5h0M268.8 255.9h0M268.3 256.7h0M257.9 264.0h0M272.1 251.2h0M273.3 255.0h0M254.3 254.0h0M259.2 265.3h0M276.7 247.3h0M266.5 249.2h0M269.3 251.3h0M264.0 252.6h0M259.6 246.4h0M266.9 259.9h0M269.0 260.4h0M259.1 244.1h0M259.6 250.5h0M270.7 249.7h0M272.8 242.4h0M262.8 261.2h0M262.8 244.7h0M256.8 257.0h0M275.4 246.5h0M268.5 245.9h0M281.1 253.4h0M275.8 255.2h0M271.1 251.4h0M266.5 248.5h0M271.0 256.4h0M275.0 249.5h0M280.7 256.7h0M268.5 248.3h0M268.5 266.5h0M274.5 259.6h0M268.6 252.4h0M262.1 254.3h0M265.0 249.4h0M266.6 248.4h0M256.4 254.1h0M258.7 265.3h0M266.1 246.4h0M270.2 260.2h0M259.5 253.5h0M258.4 250.8h0M261.5 246.1h0M256.9 250.8h0M264.2 240.7h0M263.3 261.8h0M259.5 260.3h0M272.6 260.8h0M281.1 247.0h0M261.5 249.3h0M273.5 259.6h0M269.9 240.7h0M260.2 267.2h0M255.7 250.4h0M266.8 246.0h0M253.9 253.1h0M259.1 245.6h0M258.2 262.2h0M258.6 246.8h0M261.6 264.9h0M258.9 247.1h0M273.0 250.1h0M257.5 255.3h0M270.8 258.5h0M254.8 251.8h0M267.9 266.3h0M263.1 249.2h0M276.3 246.7h0M274.0 241.7h0M276.4 262.9h0M263.5 258.2h0M253.9 252.2h0M277.2 253.7h0M255.3 257.7h0M273.0 262.0h0M260.2 261.4h0M261.5 262.5h0M276.4 254.9h0M269.7 259.4h0M265.2 265.5h0M273.8 258.3h0M275.2 243.9h0M262.9 250.2h0M275.9 256.4h0M264.6 262.1h0M261.1 246.1h0M256.3 248.2h0M272.2 267.3h0M260.1 242.2h0M273.8 257.1h0M255.5 254.1h0M267.6 239.7h0M265.0 254.4h0M256.4 260.1h0M256.6 254.5h0M271.3 245.5h0M278.2 256.8h0M256.8 250.4h0M269.3 266.0h0M268.6 250.5h0M262.4 251.9h0M265.5 250.7h0M262.8 243.2h0M259.0 249.3h0M276.2 265.7h0M260.1 253.1h0M266.9 255.1h0M266.8 261.7h0M256.5 259.6h0M266.0 256.8h0M266.4 267.6h0M272.1 255.6h0M257.3 254.6h0M259.3 262.4h0M254.4 249.3h0M265.5 257.3h0M262.8 262.3h0M269.2 246.5h0M260.8 249.9h0M274.6 250.7h0M258.2 257.8h0M277.6 257.2h0M273.1 266.8h0M253.8 248.6h0M261.9 244.1h0M268.9 261.3h0M270.9 267.6h0M271.3 256.8h0M259.6 242.7h0M272.8 250.0h0M263.0 242.8h0M268.5 251.4h0M263.7 260.9h0M273.7 263.4h0M274.3 264.1h0M281.3 252.1h0M260.9 246.6h0M260.5 252.0h0M263.6 255.5h0M276.1 261.7h0M281.6 253.5h0M251.7 251.4h0M259.9 254.1h0M279.7 262.2h0M256.8 251.3h0M269.5 256.8h0M268.2 262.0h0M279.1 256.4h0M278.1 249.9h0M277.8 257.4h0M266.6 246.3h0M268.4 248.0h0M274.0 258.6h0M269.6 243.4h0M256.3 253.0h0M264.3 250.4h0M263.6 257.3h0M272.7 263.3h0M270.4 248.8h0M254.2 255.5h0M271.6 258.0h0M256.4 251.5h0M262.5 252.9h0M260.2 261.4h0M271.2 258.2h0M272.0 248.8h0M276.5 250.4h0M269.5 244.5h0M267.0 243.6h0M266.5 259.1h0M266.4 256.1h0M279.3 261.0h0M269.3 243.4h0M279.3 258.9h0M272.5 255.3h0M263.5 245.0h0M255.5 256.7h0M282.3 254.9h0M277.9 260.5h0M266.3 246.7h0M274.8 263.2h0M268.3 260.4h0M269.7 244.0h0M257.6 254.1h0M257.9 243.5h0M262.9 249.8h0M264.3 241.2h0M271.2 260.7h0M275.7 263.6h0M277.5 249.6h0M271.3 241.4h0M258.5 257.5h0M263.0 266.4h0M255.5 251.6h0M270.7 238.6h0M271.3 247.1h0M267.6 260.8h0M276.1 248.1h0M269.4 242.8h0M262.2 243.4h0M279.2 261.2h0M272.5 244.9h0M268.9 247.0h0M266.1 254.0h0M265.2 254.9h0M255.4 257.0h0M271.7 247.1h0M263.9 265.3h0M263.1 255.4h0M271.6 241.9h0M269.2 249.6h0M266.2 259.7h0M277.3 245.5h0M276.1 246.8h0M259.9 253.6h0M272.2 266.8h0M280.6 253.9h0M273.1 251.7h0M261.1 261.6h0M263.0 252.5h0M278.0 248.7h0M260.3 242.5h0M270.5 253.0h0M262.8 247.2h0M262.3 244.6h0M252.6 254.1h0M271.5 246.4h0M256.1 249.8h0M265.7 244.6h0M277.0 256.1h0M274.1 248.2h0M261.7 250.7h0M266.8 242.5h0M264.8 265.2h0M256.4 259.6h0M257.9 241.7h0M279.0 251.1h0M263.0 243.7h0M270.6 247.0h0M259.1 265.0h0M269.3 257.6h0M272.7 264.3h0M260.7 259.5h0M280.9 250.6h0M268.9 259.2h0M258.2 257.4h0M263.5 256.9h0M265.4 268.7h0M270.6 248.1h0M268.9 243.4h0M258.6 255.5h0M261.4 243.7h0M277.6 248.0h0M264.3 264.5h0M277.8 256.7h0M253.6 248.0h0M267.4 262.7h0M263.5 252.8h0M271.2 242.9h0M265.5 257.9h0M262.5 242.2h0M257.4 261.3h0M256.3 262.4h0M260.1 263.3h0M260.5 253.0h0M275.8 247.7h0M262.6 256.5h0M273.2 245.7h0M257.4 249.2h0M271.0 248.1h0M260.9 242.7h0M255.1 253.9h0M273.4 240.7h0M274.6 246.7h0M263.2 250.7h0M273.0 256.6h0M269.6 264.8h0M272.3 257.4h0M258.5 264.0h0M277.4 258.9h0M258.1 244.6h0M266.2 259.1h0M268.1 251.0h0M268.4 251.4h0M264.4 257.9h0M258.7 250.2h0M270.6 248.3h0M255.2 251.1h0M264.5 253.8h0M275.4 257.4h0M258.0 260.3h0M259.3 249.2h0M269.7 246.5h0M261.6 263.6h0M277.2 265.1h0M262.9 245.0h0M271.1 264.1h0M265.1 262.8h0M261.3 256.2h0M265.4 248.5h0M265.1 248.0h0M266.8 238.7h0M264.1 239.0h0M267.9 257.1h0M265.8 252.6h0M263.0 259.0h0M265.4 258.3h0M268.1 256.0h0M257.9 256.5h0M270.3 256.4h0M272.6 253.6h0M270.4 242.2h0M274.7 260.1h0M256.8 253.4h0M272.5 250.4h0M278.5 249.9h0M257.8 262.0h0M274.3 242.8h0M262.3 251.1h0M275.8 254.4h0M279.7 257.4h0M255.1 251.3h0M269.7 251.6h0M260.0 245.7h0M262.2 258.2h0M262.5 251.0h0M262.5 251.3h0M263.7 242.2h0M276.9 257.3h0M258.7 259.8h0M260.2 244.8h0M256.0 255.8h0M272.4 256.1h0M273.5 253.4h0M269.7 248.6h0M266.4 241.8h0M268.1 250.8h0M270.0 254.8h0M263.6 247.5h0M258.4 243.8h0M280.5 255.4h0M277.3 261.6h0M271.9 241.1h0M261.6 253.5h0M271.1 251.5h0M267.3 253.5h0M259.0 246.5h0M270.1 244.5h0M265.9 258.0h0M276.2 254.3h0M272.3 241.0h0M274.1 260.6h0M276.0 261.3h0M252.5 249.6h0M272.5 246.4h0M278.3 262.1h0M271.9 260.4h0M279.4 252.2h0M276.7 262.2h0M257.4 247.1h0M259.8 247.9h0M277.1 248.1h0M273.7 243.1h0M276.8 255.8h0M275.9 245.5h0M272.2 252.0h0M264.1 262.6h0M263.4 260.8h0M265.0 251.1h0M268.1 239.4h0M264.8 268.3h0M261.0 257.5h0M268.8 252.9h0M268.2 244.6h0M253.4 251.2h0M268.9 250.2h0M259.7 252.2h0M274.0 264.9h0M276.0 250.2h0M274.1 249.7h0M269.9 265.6h0M273.3 249.8h0M268.6 253.8h0M260.8 256.4h0M267.2 242.9h0M266.7 260.0h0M266.9 256.2h0M258.8 243.7h0M263.5 244.4h0M273.6 256.6h0M269.5 256.9h0M262.2 254.1h0M268.7 240.6h0M271.6 257.2h0M260.4 256.2h0M277.7 261.1h0M279.3 256.3h0M269.2 268.1h0M264.6 267.1h0M267.5 255.0h0M254.7 246.5h0M272.4 265.2h0M262.3 258.1h0M255.3 248.5h0M271.1 248.5h0M272.0 252.7h0M269.0 245.8h0M262.5 258.9h0M270.1 243.7h0M261.2 259.2h0M269.4 266.0h0M260.9 260.7h0M276.1 256.8h0M273.1 243.9h0M272.6 258.8h0M264.7 244.5h0M269.1 258.0h0M260.3 256.5h0M261.9 254.9h0M253.7 249.2h0M263.4 252.4h0M281.6 250.5h0M252.1 251.6h0M270.7 260.7h0M265.7 267.0h0M253.3 257.3h0M261.6 265.7h0M263.5 248.3h0M257.1 255.0h0M274.0 254.4h0M255.9 256.0h0M255.1 251.1h0M263.4 249.0h0M268.8 248.9h0M257.8 263.9h0M271.7 264.1h0M272.1 256.7h0M272.8 255.2h0M266.9 244.3h0M277.5 249.8h0M275.5 251.1h0M260.3 254.9h0M278.0 253.3h0M269.3 264.4h0M253.3 257.7h0M275.5 251.8h0M263.3 247.4h0M265.4 255.5h0M262.5 250.4h0M260.1 255.9h0M267.6 264.3h0M271.6 252.7h0M261.9 251.1h0M280.4 258.9h0M260.1 256.0h0M274.6 247.6h0M265.5 266.7h0M257.2 260.2h0M270.3 254.3h0M265.2 261.1h0M252.5 251.2h0M271.3 242.6h0M267.4 264.8h0M257.2 248.1h0M272.2 267.6h0M269.8 251.9h0M266.6 265.0h0M261.9 259.5h0M266.4 243.9h0M256.3 255.8h0M255.5 255.7h0M264.1 242.9h0M269.8 242.0h0M259.7 257.3h0M280.8 250.6h0M268.6 268.1h0M268.2 242.9h0M267.9 259.3h0M271.3 258.8h0M258.9 258.3h0M264.1 252.4h0M264.8 246.6h0M276.7 255.0h0M273.7 264.5h0M272.0 245.6h0M259.7 245.8h0M268.3 241.6h0M266.7 261.5h0M275.0 246.1h0M270.2 263.1h0M266.8 255.4h0M270.7 254.0h0M267.7 259.7h0M265.2 247.0h0M280.4 248.1h0M275.4 265.0h0M260.4 257.6h0M266.5 263.5h0M269.9 255.8h0M263.2 243.2h0M262.9 260.1h0M270.3 261.9h0M274.6 264.7h0M258.2 261.5h0M270.9 242.5h0M262.7 251.4h0M268.5 248.2h0M271.9 257.1h0M270.9 264.1h0M275.3 260.5h0M256.9 259.1h0M265.2 243.2h0M266.4 256.3h0M263.1 244.0h0M262.6 264.5h0M266.2 264.9h0M269.7 248.9h0M280.2 250.4h0M264.8 241.9h0M264.2 251.7h0M269.7 257.6h0M277.1 244.2h0M257.2 253.5h0M260.1 261.9h0M275.2 260.2h0M264.2 256.3h0M268.7 263.5h0M258.1 255.2h0M255.6 257.8h0M278.6 248.9h0M259.2 245.0h0M274.7 255.7h0M252.8 257.0h0M263.6 264.1h0M263.6 255.3h0M264.2 256.1h0M265.9 258.2h0M275.2 263.1h0M262.3 253.0h0M273.4 265.3h0M263.9 258.9h0M267.2 258.4h0M266.1 239.5h0M278.5 246.1h0M264.4 264.2h0M265.0 244.8h0M279.2 250.7h0M268.9 249.5h0M258.9 255.5h0M275.9 265.8h0M266.6 241.2h0M270.3 261.8h0M258.2 249.5h0M267.1 252.7h0M261.0 265.1h0M271.8 243.6h0M262.8 259.4h0M274.1 259.7h0M262.2 248.5h0M267.4 241.3h0M274.9 253.4h0M267.3 242.8h0M257.7 262.5h0M276.7 264.6h0M261.6 261.7h0M275.5 242.1h0M266.5 239.2h0M259.3 243.1h0M263.8 254.8h0M268.6 246.5h0M260.0 264.7h0M272.5 257.9h0M268.3 262.9h0M270.5 255.5h0M256.7 261.1h0M280.2 250.0h0M260.1 255.2h0M265.8 242.3h0M273.7 259.1h0M271.8 245.2h0M273.9 247.6h0M270.1 265.0h0M264.5 247.0h0M272.0 251.0h0M266.5 251.5h0M274.4 258.7h0M260.2 262.3h0M266.8 248.1h0M280.1 253.3h0M259.0 261.2h0M263.0 265.6h0M266.1 246.1h0M264.3 249.1h0M272.0 252.5h0M272.0 265.0h0M254.8 249.9h0M278.6 248.0h0M273.0 254.8h0M278.0 250.7h0M275.3 250.2h0M270.7 243.3h0M258.9 248.0h0M259.9 253.3h0M275.8 259.6h0M267.0 252.9h0M266.7 261.4h0M275.8 247.9h0M261.0 250.4h0M264.0 242.4h0M270.4 248.5h0M251.9 259.5h0M271.0 255.8h0M255.0 256.9h0M277.9 253.7h0M269.6 261.6h0M262.5 256.7h0M269.2 264.5h0M268.5 257.9h0M259.5 254.8h0M276.3 252.3h0M270.5 263.9h0M273.5 262.1h0M273.4 252.6h0M261.2 261.3h0M260.3 259.2h0M271.0 249.4h0M265.3 241.8h0M261.2 247.8h0M263.2 265.8h0M261.2 244.6h0M258.6 263.2h0M270.3 241.6h0M276.9 250.4h0M259.0 259.5h0M269.1 247.5h0M265.9 256.2h0M274.2 248.4h0M258.8 252.2h0M260.6 264.9h0M260.6 248.8h0M257.5 261.9h0M274.9 249.2h0M271.5 244.7h0M264.8 248.3h0M267.7 251.9h0M267.8 259.4h0M266.4 250.6h0M281.5 249.0h0M276.7 249.0h0M270.2 262.4h0M277.7 260.9h0M267.3 241.6h0M277.5 257.7h0M271.9 254.6h0M273.1 263.7h0M262.5 250.2h0M279.4 252.3h0M259.9 259.7h0M274.3 253.7h0M273.6 266.6h0M266.5 247.7h0M263.4 253.2h0M270.2 241.8h0M256.5 257.1h0M257.0 261.4h0M275.4 243.8h0M272.9 265.3h0M263.9 246.0h0M266.0 253.8h0M267.3 253.0h0M265.8 245.4h0M275.0 251.9h0M260.8 267.7h0M266.0 262.0h0M273.1 241.5h0M262.4 242.8h0M260.8 248.8h0M270.3 249.8h0M275.4 258.6h0M267.7 238.0h0M271.6 250.9h0M258.3 258.1h0M279.2 263.0h0M273.1 259.1h0M266.5 265.4h0M259.5 243.8h0M267.9 257.6h0M265.0 265.1h0M277.1 253.8h0M259.4 250.3h0M275.4 244.3h0M274.8 251.4h0M273.6 262.2h0M279.0 258.1h0M275.4 262.8h0M259.2 261.5h0M259.9 254.9h0M269.4 250.6h0M252.7 256.7h0M265.4 241.9h0M272.7 260.4h0M276.1 262.4h0M269.9 258.7h0M253.5 256.1h0M269.3 266.1h0M254.9 243.7h0M253.1 251.0h0M256.1 257.9h0M264.9 249.4h0M268.3 265.0h0M276.3 249.1h0M265.1 249.7h0M273.6 261.5h0M257.0 254.3h0M267.5 247.2h0M273.1 263.7h0M278.5 252.6h0M261.7 250.9h0M262.0 265.6h0M267.7 256.3h0M262.5 252.0h0M260.9 240.0h0M257.9 251.4h0M260.9 242.9h0M274.9 252.4h0M273.6 252.8h0M268.1 257.7h0M274.5 260.7h0M277.9 248.5h0M261.5 242.7h0M256.0 259.3h0M261.6 266.6h0M276.5 247.3h0M271.9 244.3h0M267.8 252.5h0M271.3 252.0h0M263.5 260.8h0M256.2 261.1h0M280.4 252.3h0M266.9 249.0h0M262.9 247.4h0M281.7 253.3h0M273.9 264.8h0M256.5 250.4h0M272.6 260.7h0M270.2 258.2h0M255.9 253.7h0M257.5 250.1h0M275.4 257.1h0M267.8 262.9h0M267.7 266.2h0M262.1 254.6h0M268.4 261.9h0M273.6 242.9h0M260.8 249.2h0M272.5 256.4h0M264.6 250.7h0M263.6 262.7h0M273.0 262.6h0M263.6 260.6h0M273.7 265.2h0M269.0 255.8h0M258.0 245.0h0M263.7 253.8h0M265.1 245.1h0M272.4 263.3h0M275.7 259.5h0M281.1 254.2h0M272.5 257.2h0M279.1 253.4h0M268.4 261.8h0M263.2 244.7h0M257.9 251.4h0M279.7 247.0h0M268.4 257.7h0M255.4 254.2h0M271.8 242.9h0M274.3 262.7h0M263.5 243.9h0M278.6 252.2h0M269.2 255.8h0M273.5 256.2h0M263.4 244.0h0M265.1 246.3h0M275.1 254.1h0M266.4 249.8h0M275.9 244.8h0M275.7 261.5h0M275.4 256.2h0M272.9 248.0h0M270.0 241.3h0M254.0 246.0h0M255.7 249.0h0M261.7 253.3h0M257.6 253.3h0M269.0 265.2h0M261.1 257.2h0M271.6 264.4h0M264.1 244.3h0M252.8 252.4h0M261.6 259.3h0M261.0 258.1h0M265.5 241.7h0M261.3 255.7h0M267.2 245.7h0M270.4 266.3h0M263.9 247.7h0M263.5 244.6h0M274.8 255.5h0M252.9 251.7h0M268.7 266.9h0M273.2 258.9h0M258.4 263.0h0M260.3 254.4h0M276.1 244.1h0M259.5 257.9h0M271.6 260.8h0M273.6 250.4h0M276.4 246.3h0M270.7 263.6h0M276.9 247.0h0M259.3 259.6h0M258.6 260.8h0M275.9 254.5h0M263.3 246.1h0M270.9 263.4h0M266.5 255.7h0M270.5 249.4h0M254.8 247.8h0M275.7 255.9h0M259.5 253.4h0M268.1 258.3h0M273.1 249.7h0M272.0 253.5h0M260.8 250.2h0M275.1 255.8h0M269.1 241.3h0M276.2 253.2h0M264.8 251.7h0M274.1 243.2h0M274.4 259.5h0M267.1 246.1h0M257.5 256.2h0M273.5 254.0h0M262.8 255.8h0M264.4 264.0h0M271.5 261.8h0M257.1 254.3h0M273.4 247.8h0M262.8 260.8h0M276.0 259.1h0M257.8 263.7h0M264.9 257.9h0M271.2 247.8h0M262.6 259.1h0M272.2 262.2h0M257.8 260.0h0M268.6 247.8h0M266.0 244.1h0M267.4 256.1h0M253.8 254.1h0M269.8 262.0h0M266.7 259.3h0M273.7 261.6h0M262.5 264.4h0M274.6 262.3h0M263.6 262.7h0M256.1 250.7h0M269.0 264.9h0M271.1 246.6h0M256.9 257.3h0M272.7 242.4h0M279.2 256.4h0M281.4 251.4h0M272.3 264.4h0M252.2 252.0h0M267.9 252.3h0M256.1 251.7h0M259.7 265.5h0M265.6 256.1h0M269.9 256.6h0M265.4 259.6h0M272.9 247.7h0M255.0 258.6h0M271.5 242.7h0M269.0 267.9h0M263.4 250.9h0M274.8 263.6h0M257.1 256.7h0M273.3 252.2h0M267.1 261.3h0M259.0 259.9h0M262.3 259.0h0M254.9 253.8h0M268.7 252.3h0M268.8 260.9h0M260.1 258.4h0M272.2 261.3h0M269.8 242.1h0M265.9 247.7h0M265.6 262.2h0M256.1 255.1h0M259.3 257.0h0M267.2 253.3h0M261.0 249.5h0M274.2 261.1h0M269.7 242.4h0M272.4 241.7h0M270.2 261.7h0M263.8 255.8h0M274.0 246.2h0M272.5 261.2h0M261.3 254.8h0M257.6 257.6h0M276.2 249.6h0M273.1 255.4h0M269.3 264.8h0M262.8 265.0h0M259.7 244.2h0M257.5 255.1h0M268.9 256.6h0M266.0 244.6h0M271.7 255.4h0M272.3 256.9h0M267.0 261.5h0M259.1 255.8h0M273.7 259.7h0M272.9 254.2h0M268.7 245.3h0M270.9 268.5h0M269.5 252.8h0M263.9 261.3h0M263.1 255.4h0M268.1 245.0h0M256.8 260.6h0M255.7 261.2h0M257.6 249.2h0M260.6 251.5h0M277.3 244.4h0M281.5 255.1h0M257.1 255.8h0M265.6 258.2h0M259.6 244.7h0M261.0 244.9h0M265.4 252.8h0M272.9 259.9h0M263.1 264.3h0M271.3 242.9h0M271.4 252.1h0M266.6 251.8h0M258.1 253.8h0M274.1 260.6h0M259.9 260.2h0M268.5 264.9h0M273.6 242.5h0M267.3 244.2h0M259.8 256.3h0M270.9 266.6h0M272.4 261.5h0M258.5 258.2h0M253.6 248.6h0M275.6 255.7h0M258.4 248.8h0M277.7 258.3h0M263.9 240.1h0M265.5 255.3h0M269.9 257.9h0M272.9 257.1h0M269.9 257.2h0M254.8 260.8h0M273.9 256.0h0M278.5 261.9h0M275.2 244.5h0M271.4 255.7h0M265.2 264.1h0M270.6 262.4h0M264.2 262.5h0M261.9 247.6h0M267.6 258.1h0M262.6 253.7h0M258.5 259.0h0M265.2 266.0h0M282.7 248.1h0M269.4 248.4h0M259.8 244.4h0M251.9 248.2h0M266.8 258.0h0M270.7 263.8h0M261.9 245.9h0M262.6 254.6h0M271.1 264.3h0M256.5 262.4h0M266.5 245.6h0M256.8 261.0h0M276.7 250.8h0M269.4 240.4h0M267.7 265.7h0M264.2 241.7h0M265.4 268.5h0M256.3 255.5h0M270.9 248.0h0M260.0 241.5h0M268.5 259.8h0M274.2 259.2h0M270.2 249.5h0M271.5 247.7h0M274.7 254.5h0M259.6 260.7h0M268.7 253.9h0M268.8 266.7h0M265.1 246.8h0M256.1 253.6h0M262.3 258.7h0M279.9 242.9h0M265.8 249.1h0M262.8 242.2h0M256.6 251.3h0M261.4 258.0h0M268.1 248.0h0M258.8 248.1h0M260.5 266.3h0M258.5 262.7h0M270.9 252.1h0M260.4 243.3h0M253.4 257.2h0M262.3 264.1h0M267.0 258.0h0M275.3 247.4h0M264.3 258.5h0M281.8 253.6h0M271.5 262.4h0M272.7 264.8h0M263.2 254.4h0M275.8 251.3h0M258.5 248.9h0M264.9 259.6h0M258.0 253.6h0M260.2 248.6h0M281.4 255.0h0M271.4 255.5h0M276.6 251.9h0M257.0 248.0h0M266.1 265.4h0M277.3 258.3h0M258.9 259.3h0M266.4 249.2h0M257.0 246.8h0M279.9 252.8h0M259.7 241.8h0M273.9 250.2h0M255.0 247.7h0M264.6 261.9h0M255.7 250.8h0M255.1 248.7h0M277.3 255.8h0M258.8 251.1h0M253.7 255.7h0M256.2 251.6h0M261.8 264.7h0M279.3 258.7h0M271.4 240.7h0M261.8 258.6h0M261.8 249.9h0M260.7 250.2h0M267.3 268.1h0M260.8 259.2h0M259.1 250.9h0M277.9 249.3h0M268.8 253.2h0M270.4 248.7h0M273.8 256.8h0M271.3 260.2h0M262.6 251.5h0M268.8 248.7h0M271.8 244.1h0M273.9 251.2h0M275.6 244.6h0M277.6 261.2h0M273.3 243.1h0M261.1 264.8h0M261.4 241.5h0M273.6 244.8h0M256.8 251.1h0M270.5 249.7h0M260.7 242.1h0M268.0 248.5h0M264.6 265.8h0M254.4 256.5h0M259.4 264.4h0M274.2 265.4h0M265.1 250.6h0M267.1 257.8h0M255.4 257.7h0M265.7 255.9h0M268.5 247.0h0M264.2 245.4h0M266.0 258.5h0M269.8 266.1h0M261.9 248.0h0M258.7 261.6h0M253.5 248.0h0M266.5 266.5h0M267.9 246.3h0M261.6 256.3h0M273.9 243.0h0M257.4 263.3h0M271.0 251.8h0M263.3 263.5h0M257.2 255.9h0M279.2 245.8h0M274.0 262.1h0M258.1 243.2h0M277.4 255.5h0M273.2 240.7h0M267.1 245.1h0M259.2 258.7h0M272.6 257.3h0M269.2 265.8h0M273.1 248.9h0M257.3 243.3h0M258.3 252.9h0M256.6 257.4h0M255.5 260.3h0M272.7 251.7h0M267.0 263.8h0M259.2 254.2h0M269.8 263.8h0M268.8 256.6h0M267.7 262.4h0M257.2 257.6h0M276.3 258.0h0M262.7 243.3h0M263.8 263.1h0M263.8 252.8h0M255.5 254.8h0M266.8 251.3h0M268.2 264.7h0M269.8 259.9h0M260.5 263.0h0M256.1 246.5h0M270.8 263.6h0M260.0 240.9h0M261.9 262.5h0M270.7 248.5h0M267.3 252.6h0M263.0 265.8h0M265.9 247.4h0M267.5 246.2h0M258.5 261.9h0M278.1 254.6h0M255.8 263.2h0M262.0 265.4h0M267.2 247.4h0M275.7 255.9h0M279.7 253.9h0M263.0 247.2h0M265.7 242.4h0M270.0 264.2h0M270.0 262.6h0M263.0 259.9h0M263.4 252.0h0M266.2 247.5h0M271.0 256.6h0M260.2 253.3h0M265.2 262.0h0M263.4 243.9h0M277.2 251.1h0M266.1 255.6h0M273.6 249.0h0M268.2 251.9h0M265.7 262.9h0M271.9 258.3h0M267.0 262.7h0M256.5 257.6h0M265.9 247.3h0M274.1 249.9h0M261.5 263.9h0M270.8 250.6h0M276.7 245.7h0M266.1 251.2h0M263.5 258.6h0M262.1 245.7h0M272.8 253.3h0M265.6 248.4h0M268.7 256.2h0M271.9 263.3h0M275.9 243.5h0M268.1 259.1h0M261.7 262.4h0M275.9 251.5h0M270.0 263.0h0M276.4 250.3h0M267.0 248.7h0M274.9 259.6h0M264.4 238.9h0M263.5 246.1h0M275.3 250.3h0M269.8 245.9h0M257.4 251.1h0M264.9 254.0h0M263.2 255.8h0M279.0 249.8h0M264.8 238.9h0M278.7 255.0h0M271.9 242.8h0M274.6 255.3h0M275.9 264.1h0M266.1 239.6h0M263.3 247.8h0M275.4 262.8h0M259.0 258.3h0M270.4 253.9h0M266.4 248.7h0M266.1 251.3h0M257.5 253.2h0M275.6 263.1h0M267.9 266.3h0M261.0 246.1h0M255.5 253.0h0M269.9 266.7h0M268.3 255.1h0M276.5 256.0h0M263.3 243.3h0M267.7 241.8h0M259.7 251.3h0M268.7 243.8h0M268.8 248.9h0M278.6 264.4h0M266.8 246.8h0M269.3 241.9h0M261.9 247.2h0M257.9 248.3h0M273.9 261.1h0M259.7 257.8h0M260.3 259.3h0M260.8 260.3h0M264.5 240.1h0M258.5 256.7h0M277.4 254.9h0M279.9 248.8h0M273.6 256.4h0M274.0 242.4h0M269.0 247.3h0M258.7 260.9h0M271.5 248.4h0M263.6 251.7h0M275.5 264.7h0M266.6 250.8h0M263.2 254.5h0M277.9 249.1h0M256.4 259.6h0M273.8 250.7h0M260.1 264.3h0M261.9 263.7h0M265.2 244.6h0M274.3 251.3h0M277.1 262.2h0M259.9 247.0h0M275.0 261.7h0M272.1 263.3h0M260.2 253.3h0M261.6 250.7h0M266.4 261.3h0M274.5 249.1h0M268.3 259.5h0M260.3 259.0h0M257.9 260.7h0M277.8 246.5h0M276.7 252.6h0M262.9 244.9h0M273.6 248.2h0M264.2 245.6h0M271.0 262.0h0M263.6 246.6h0M256.2 258.6h0M266.8 257.6h0M263.8 259.9h0M265.4 260.0h0M268.7 247.3h0M276.9 245.3h0M273.0 263.8h0M259.8 252.6h0M267.6 265.7h0M267.3 240.6h0M266.6 263.8h0M277.3 263.1h0M264.0 263.6h0M268.6 258.7h0M261.1 241.2h0M266.0 261.1h0M263.7 251.2h0M270.2 261.5h0M272.1 262.3h0M260.9 244.9h0M275.3 260.8h0M267.4 260.6h0M265.7 245.0h0M253.6 256.6h0M265.8 256.5h0M262.8 250.8h0M267.8 250.3h0M262.9 267.0h0M265.6 250.8h0M261.7 242.4h0M263.3 256.1h0M263.4 248.7h0M270.0 257.0h0M263.8 256.0h0M259.8 259.8h0M259.7 251.6h0M268.0 251.0h0M258.5 268.2h0M278.3 242.0h0M267.9 245.3h0M269.3 245.0h0M271.3 257.5h0M279.7 262.1h0M263.6 260.3h0M263.6 253.1h0M263.3 241.9h0M271.5 240.1h0M265.3 257.5h0M267.8 243.2h0M262.2 258.5h0M275.2 264.8h0M253.5 257.0h0M263.4 259.1h0M254.5 252.9h0M272.3 249.5h0M264.3 247.2h0M275.3 244.9h0M260.2 251.6h0M264.6 268.3h0M269.0 248.2h0M271.3 256.2h0M269.1 253.5h0M270.4 245.9h0M258.1 251.0h0M258.8 258.7h0M281.4 262.3h0M270.3 256.2h0M261.9 245.0h0M271.1 243.8h0M269.2 252.9h0M272.6 254.2h0M267.8 249.9h0M254.2 251.6h0M272.2 261.0h0M277.2 247.1h0M260.0 258.7h0M263.6 271.4h0M269.3 243.5h0M262.9 264.6h0M253.4 254.9h0M256.7 264.8h0M263.7 246.9h0M254.3 249.0h0M248.0 250.7h0M283.2 254.6h0M265.0 246.0h0M269.5 250.7h0M260.7 263.3h0M270.3 247.8h0M278.0 253.5h0M270.7 254.9h0M275.8 258.1h0M264.4 258.8h0M264.1 254.8h0M279.2 246.7h0M259.3 251.2h0M263.3 262.8h0M255.2 269.5h0M278.8 250.8h0M268.4 251.4h0M272.0 258.4h0M272.6 259.1h0M281.4 252.7h0M272.2 252.6h0M267.3 255.4h0M266.6 256.3h0M260.7 252.9h0M262.5 245.9h0M261.7 250.5h0M265.9 243.2h0M265.1 246.2h0M260.9 255.2h0M275.2 255.9h0M263.4 250.9h0M277.0 242.8h0M275.5 243.7h0M262.3 254.2h0M265.4 265.3h0M270.7 253.6h0M274.1 254.2h0M261.0 261.6h0M278.1 262.6h0M258.3 266.9h0M263.9 259.1h0M275.9 270.1h0M255.0 246.9h0M275.8 257.3h0M264.7 233.9h0M270.3 252.6h0M247.6 272.2h0M248.4 250.1h0M267.0 255.5h0M272.6 252.1h0M260.3 251.4h0M251.4 246.3h0M281.7 249.2h0M266.4 266.9h0M274.8 254.7h0M272.5 252.1h0M260.3 260.7h0M268.0 264.9h0M265.0 251.3h0M269.6 252.6h0M264.7 247.8h0M268.9 256.1h0M280.6 253.7h0M253.9 257.1h0M284.0 250.9h0M261.0 252.8h0M265.6 243.6h0M271.3 247.9h0M253.2 249.0h0M271.7 267.1h0M276.3 255.2h0M263.2 252.1h0M274.2 250.4h0M270.1 260.5h0M260.2 249.9h0M270.3 254.0h0M266.1 250.3h0M266.5 266.6h0M277.1 242.9h0M267.4 254.5h0M267.3 244.4h0M266.0 254.9h0M261.9 256.0h0M248.8 243.6h0M267.8 256.6h0M265.8 250.8h0M268.4 261.3h0M273.7 253.4h0M263.5 261.2h0M271.0 260.0h0M264.9 248.0h0M268.4 249.6h0M275.6 259.8h0M250.7 258.5h0M276.9 261.0h0M263.5 248.0h0M274.2 260.8h0M267.4 246.0h0M255.6 255.7h0M260.8 249.2h0M270.3 261.1h0M251.6 249.3h0M276.7 253.6h0M264.4 258.3h0M258.5 245.5h0M267.2 264.6h0M274.6 253.9h0M274.5 251.1h0M258.2 242.4h0M269.0 260.1h0M269.8 253.6h0M264.0 261.4h0M266.7 244.0h0M277.2 249.5h0M269.9 253.9h0M274.9 255.6h0M276.2 255.3h0M263.6 250.4h0M271.9 248.2h0M273.9 252.3h0M260.1 247.9h0M265.9 266.0h0M272.8 254.0h0M260.2 267.0h0M264.9 253.9h0M263.8 263.0h0M268.3 250.8h0M268.4 247.1h0M259.1 252.8h0M281.8 246.3h0M265.9 243.1h0M268.3 255.4h0M272.5 244.8h0M262.5 249.5h0M265.2 269.6h0M265.5 253.6h0M263.2 259.4h0M286.1 261.9h0M278.4 246.5h0M274.9 254.1h0M276.3 261.2h0M271.9 242.4h0M268.0 250.5h0M270.3 254.2h0M274.8 242.9h0M261.5 253.4h0M269.4 251.1h0M266.8 254.3h0M274.8 253.1h0M268.8 241.4h0M247.5 243.9h0M269.7 238.1h0M270.1 253.2h0M267.0 248.9h0M263.9 259.6h0M269.7 253.7h0M263.3 255.4h0M275.9 253.8h0M264.3 245.8h0M267.7 247.6h0M256.3 259.9h0M262.3 239.9h0M261.6 266.6h0M266.2 244.8h0M258.8 258.8h0M270.0 255.4h0M265.5 257.2h0M278.5 257.3h0M265.8 244.3h0M270.3 264.7h0M271.8 245.3h0M268.4 262.8h0M262.3 257.3h0M276.0 265.2h0M255.1 241.9h0M269.8 258.7h0M264.4 253.8h0M263.9 262.2h0M250.4 255.7h0M257.4 249.2h0M255.5 247.6h0M266.8 254.1h0M280.4 252.4h0M269.6 256.3h0M268.9 264.0h0M268.0 254.9h0M266.2 253.9h0M266.6 260.8h0M267.1 254.4h0M266.6 259.1h0M263.5 260.4h0M262.7 258.7h0M281.4 255.5h0M266.3 245.8h0M272.5 254.0h0M273.8 249.4h0M270.9 266.4h0M270.0 251.6h0M257.2 253.8h0M271.9 258.0h0M258.6 246.8h0M259.7 246.9h0M264.9 255.7h0M281.4 255.3h0M277.9 242.5h0M278.6 259.4h0M270.3 259.6h0M271.6 267.1h0M273.0 241.9h0M253.9 265.0h0M266.4 263.0h0M264.4 249.4h0M264.4 256.1h0M268.4 249.6h0M271.0 258.2h0M260.1 246.2h0M252.3 251.8h0M267.1 249.1h0M262.5 253.0h0M267.2 257.8h0M273.2 256.9h0M275.4 247.2h0M271.6 256.5h0M259.2 249.2h0M270.3 254.4h0M257.6 250.1h0M278.5 259.7h0M267.6 263.2h0M260.2 252.7h0M274.2 251.6h0M258.6 258.0h0M279.0 236.4h0M268.2 245.3h0M264.8 244.1h0M286.5 249.2h0M267.3 249.0h0M259.6 250.8h0M268.6 266.0h0M269.2 264.7h0M259.0 254.4h0M263.7 243.1h0M295.0 252.2h0M268.8 248.7h0M262.7 246.7h0M274.7 251.1h0M265.9 255.2h0M257.8 255.5h0M265.7 257.0h0M264.1 254.2h0M270.9 260.6h0M261.8 260.6h0M259.6 252.6h0M268.0 254.9h0M248.2 247.1h0M265.6 260.3h0M261.7 264.4h0M253.5 254.4h0M271.1 254.0h0M269.0 260.4h0M260.9 258.0h0M275.0 252.3h0M249.6 245.7h0M260.6 246.6h0M270.2 248.3h0M285.6 257.8h0M257.2 251.9h0M278.5 258.6h0M259.3 261.1h0M263.4 269.2h0M262.9 258.0h0M271.2 250.8h0M265.8 261.9h0M270.7 253.5h0M270.3 266.0h0M274.0 257.2h0M269.5 243.1h0M268.0 250.5h0M272.5 249.7h0M270.4 246.6h0M273.7 248.9h0M266.8 257.9h0M264.6 253.9h0M275.0 266.1h0M253.4 247.7h0M272.1 260.4h0M263.4 254.6h0M265.6 269.6h0M265.5 245.7h0M255.3 245.1h0M276.8 251.2h0M281.6 258.3h0M269.9 258.4h0M272.9 260.3h0M259.7 250.0h0M262.9 254.6h0M265.1 245.4h0M261.8 266.3h0M282.9 248.0h0M269.9 253.6h0M260.6 258.8h0M266.5 265.4h0M270.4 251.8h0M273.4 249.0h0M273.6 258.6h0M253.7 252.5h0M269.4 259.1h0M268.2 253.8h0M264.4 251.9h0M267.0 246.6h0M271.8 251.7h0M270.9 250.4h0M270.1 254.8h0M273.7 257.1h0M274.0 252.8h0M266.6 252.1h0M257.6 253.0h0M275.2 259.2h0M260.6 256.0h0M272.6 244.5h0M269.6 256.2h0M272.6 255.7h0M253.9 240.0h0M281.9 251.2h0M276.6 262.6h0M267.7 246.0h0M277.3 253.6h0M270.9 257.2h0M274.2 260.9h0M256.3 244.2h0M268.1 254.0h0M272.8 253.0h0M265.6 267.9h0M277.3 261.9h0M274.8 248.5h0M266.4 253.4h0M258.8 247.9h0M268.2 245.5h0M271.1 257.2h0M265.2 251.6h0M271.5 257.2h0M269.7 245.5h0M254.8 268.0h0M262.1 251.4h0M253.3 248.4h0M261.5 259.4h0M263.9 250.5h0M261.2 250.9h0M255.2 255.7h0M276.0 255.0h0M263.0 262.6h0M270.7 246.8h0M262.7 249.7h0M266.7 262.3h0M261.7 252.9h0M267.8 245.7h0M263.4 258.1h0M275.5 241.0h0M272.3 251.9h0M276.7 258.2h0M281.8 256.0h0M264.0 248.2h0M256.3 257.7h0M270.9 259.5h0M269.6 243.6h0M264.0 252.2h0M268.2 259.2h0M277.7 255.9h0M251.5 246.9h0M251.0 248.6h0M258.0 255.5h0M265.3 261.6h0M275.1 250.8h0M274.1 254.0h0M270.4 263.2h0M258.4 253.4h0M278.6 248.7h0M268.6 254.8h0M263.9 244.9h0M261.8 247.2h0M275.1 255.6h0M272.3 245.7h0M270.8 254.9h0M274.9 248.9h0M273.1 263.3h0M280.5 247.5h0M258.6 243.8h0M274.2 258.0h0M269.6 248.0h0M276.4 264.9h0M266.7 253.1h0M275.9 257.4h0M277.1 251.1h0M269.6 251.6h0M262.7 251.9h0M264.9 257.4h0M264.7 254.4h0M260.9 245.5h0M277.7 247.2h0M280.6 260.3h0M249.8 249.5h0M263.9 254.0h0M265.7 249.8h0M276.4 253.0h0M274.2 249.2h0M261.8 263.0h0M264.9 246.4h0M265.7 261.1h0M265.8 249.0h0M271.8 260.6h0M265.5 251.7h0M265.6 265.9h0M265.9 256.7h0M251.7 255.1h0M267.4 251.7h0M263.9 244.6h0M255.8 255.0h0M262.2 253.3h0M265.7 250.4h0M261.5 266.6h0M258.7 250.4h0M264.8 246.0h0M259.8 259.8h0M274.0 254.8h0M291.3 259.6h0M276.3 248.3h0M275.1 265.4h0M264.2 266.3h0M261.0 246.1h0M266.7 248.4h0M271.8 246.3h0M267.6 240.5h0M266.8 261.1h0M265.0 256.0h0M275.2 246.4h0M257.5 254.5h0M269.1 252.1h0M259.7 262.2h0M258.3 252.1h0M266.7 258.9h0M263.7 248.3h0M282.1 248.1h0M273.0 252.9h0M263.4 253.6h0M265.1 256.0h0M247.9 253.7h0M267.6 247.3h0M264.1 269.9h0M280.9 258.3h0M268.8 251.8h0M277.4 250.8h0M260.9 258.6h0M259.8 248.5h0M277.9 242.9h0M266.5 254.7h0M269.0 244.0h0M265.3 251.6h0M281.4 260.8h0M261.4 259.9h0M271.9 253.1h0M265.2 252.0h0M255.5 249.6h0M274.1 263.8h0M280.9 251.3h0M271.7 237.5h0M265.0 245.3h0M273.2 242.6h0M259.2 246.4h0M270.0 259.6h0M260.1 266.2h0M268.2 248.2h0M269.7 253.8h0M273.3 256.3h0M283.5 261.9h0M262.2 259.3h0M272.7 247.1h0M261.4 248.4h0M248.5 258.3h0M265.4 262.3h0M262.8 254.4h0M272.5 260.5h0M269.4 246.8h0M283.6 259.8h0M277.3 265.0h0M277.6 256.7h0M270.6 258.2h0M255.8 259.5h0M259.7 256.8h0M259.5 258.8h0M263.4 270.9h0M268.5 257.4h0M260.3 251.9h0M266.6 251.9h0M263.8 247.9h0M272.8 251.3h0M260.9 256.4h0M261.0 252.7h0M263.2 247.6h0M265.4 248.3h0M257.7 256.3h0M264.8 243.9h0M264.1 255.2h0M270.3 256.5h0M269.0 258.0h0M263.4 248.5h0M271.6 251.1h0M267.1 258.3h0M274.1 262.2h0M261.9 251.4h0M271.2 244.1h0M257.6 258.1h0M262.5 247.6h0M273.1 257.5h0M273.9 251.7h0M264.9 251.6h0M269.3 240.1h0M261.9 258.7h0M261.2 253.5h0M268.0 257.5h0M263.5 246.2h0M285.7 249.0h0M279.9 241.9h0M267.9 252.6h0M281.2 267.8h0M274.4 247.0h0M261.1 248.8h0M263.2 255.7h0M261.2 252.2h0M278.1 263.7h0M253.1 247.4h0M264.3 262.7h0M264.6 266.9h0M269.8 263.7h0M260.7 251.8h0M274.7 257.8h0M253.1 252.0h0M268.4 258.2h0M262.3 265.7h0M268.2 263.8h0M270.1 254.5h0M264.7 246.0h0M273.5 259.1h0M274.0 251.4h0M259.6 251.3h0M264.7 253.8h0M274.4 247.7h0M263.4 258.6h0M273.8 268.9h0M271.0 248.2h0M259.3 248.5h0M267.6 255.6h0M266.6 249.7h0M265.7 253.4h0M271.5 254.5h0M261.0 246.0h0M278.1 253.3h0M265.8 253.7h0M275.5 251.8h0M268.4 252.3h0M271.4 247.1h0M268.6 260.9h0M275.9 258.1h0M269.3 264.6h0M272.4 263.4h0M258.1 246.5h0M273.1 252.1h0M263.9 247.5h0M278.2 245.8h0M267.9 244.5h0M265.8 269.1h0M285.2 250.6h0M259.6 265.0h0M260.7 241.8h0M269.7 246.6h0M256.3 261.5h0M261.7 246.7h0M268.4 252.6h0M275.5 254.6h0M279.0 261.6h0M280.4 261.5h0M267.6 257.6h0M267.3 243.4h0M258.3 258.9h0M249.5 248.3h0M257.5 253.5h0M259.4 255.6h0M265.6 250.7h0M260.8 238.9h0M267.7 245.2h0M264.9 256.4h0M274.9 258.7h0M278.1 244.3h0M272.1 264.5h0M270.1 246.4h0M270.1 250.4h0M262.3 261.1h0M265.8 246.3h0M262.1 267.2h0M260.8 258.5h0M268.4 261.8h0M265.0 247.5h0M262.4 246.9h0M286.4 255.2h0M264.7 262.4h0M272.0 252.7h0M271.7 255.8h0M275.5 265.1h0M264.8 253.7h0M265.8 262.2h0M270.0 259.2h0M273.8 249.6h0M268.1 263.3h0M274.0 259.4h0M265.0 251.5h0M260.8 252.1h0M266.7 244.2h0M275.8 248.7h0M269.0 258.0h0M263.0 241.7h0M274.3 256.7h0M265.3 261.6h0M273.8 247.5h0M266.5 242.0h0M265.2 263.5h0M260.9 259.5h0M255.9 251.9h0M274.1 265.5h0M270.5 259.0h0M279.9 237.4h0M254.5 266.7h0M285.4 258.0h0M267.6 255.7h0M267.3 249.8h0M267.0 253.1h0M272.1 258.5h0M274.4 257.9h0M259.9 263.3h0M247.3 254.7h0M269.6 250.3h0M281.0 246.5h0M258.5 250.5h0M270.2 259.3h0M267.9 258.4h0M261.9 249.8h0M268.1 244.8h0M268.5 251.3h0M272.2 247.1h0M263.2 250.1h0M264.4 247.2h0M265.2 244.8h0M271.1 258.5h0M267.0 252.6h0M260.5 247.4h0M265.5 247.8h0M258.4 255.0h0M267.0 251.2h0M261.1 253.6h0M262.0 251.0h0M268.5 258.8h0M272.7 249.8h0M276.0 246.1h0M265.9 262.7h0M284.6 254.8h0M264.5 251.4h0M258.2 252.9h0M264.0 248.8h0M276.0 248.7h0M279.6 259.6h0M271.8 249.9h0M263.4 240.4h0M269.1 252.1h0M270.0 249.4h0M270.7 243.8h0M251.0 257.1h0M275.0 232.6h0M276.6 251.6h0M265.9 243.5h0M259.8 258.7h0M261.7 253.7h0M266.0 267.4h0M273.7 245.0h0M263.6 246.2h0M256.9 249.3h0M275.2 254.2h0M272.1 253.0h0M264.0 254.5h0M266.6 266.9h0M280.3 256.5h0M271.5 240.4h0M266.2 270.1h0M261.2 259.4h0M276.1 251.2h0M265.5 250.8h0M273.0 254.1h0M278.2 261.9h0M267.0 271.5h0M264.8 249.8h0M265.4 248.0h0M264.0 253.4h0M273.6 243.2h0M256.8 248.7h0M264.9 257.0h0M261.3 264.1h0M263.2 252.4h0M267.5 261.8h0M269.3 254.1h0M263.1 255.1h0M270.1 251.5h0M266.9 241.4h0M263.2 261.9h0M277.5 253.4h0M251.3 266.3h0M265.8 271.3h0M264.1 260.7h0M262.6 263.2h0M275.6 246.7h0M265.5 245.7h0M269.1 251.2h0M256.1 246.8h0M268.9 243.6h0M275.0 257.0h0M265.8 263.4h0M260.3 258.6h0M257.2 251.7h0M271.8 250.3h0M266.2 258.3h0M278.2 262.7h0M270.4 252.1h0M256.5 265.6h0M280.8 239.3h0M273.5 253.6h0M272.3 256.1h0M265.7 253.9h0M266.8 261.8h0M265.2 250.2h0M271.9 258.3h0M270.3 255.8h0M277.9 261.5h0M308.3 240.2h0M301.7 268.2h0M310.6 250.7h0M306.9 251.0h0M299.5 243.1h0M302.2 249.5h0M305.2 268.4h0M298.3 242.6h0M308.5 246.1h0M297.0 253.7h0M298.6 252.7h0M299.6 254.1h0M306.4 248.9h0M305.4 268.7h0M298.8 257.7h0M301.7 244.6h0M301.0 242.9h0M303.5 260.7h0M302.6 263.4h0M302.9 237.3h0M306.1 263.0h0M308.6 252.2h0M301.5 265.2h0M304.6 249.7h0M303.0 245.0h0M310.5 246.6h0M310.8 255.7h0M301.7 261.7h0M301.9 249.5h0M303.8 265.7h0M307.1 243.4h0M308.7 244.9h0M306.2 262.1h0M298.8 240.0h0M298.3 261.0h0M308.5 268.2h0M303.6 239.8h0M303.7 238.5h0M300.6 252.8h0M304.6 259.5h0M302.9 262.6h0M307.6 267.8h0M305.8 258.2h0M296.4 250.6h0M309.3 263.5h0M296.9 254.4h0M305.4 269.4h0M301.5 239.4h0M300.7 256.4h0M304.1 246.8h0M309.9 258.7h0M301.7 243.1h0M303.2 256.3h0M300.9 246.7h0M304.5 240.0h0M308.6 257.2h0M299.4 262.1h0M302.3 262.5h0M307.8 242.4h0M301.1 254.5h0M307.1 267.7h0M298.2 245.5h0M298.1 249.4h0M307.6 248.1h0M303.8 241.4h0M306.3 254.9h0M308.5 261.6h0M302.8 241.6h0M304.4 241.6h0M309.4 247.2h0M302.0 251.5h0M308.7 260.4h0M307.8 259.6h0M305.0 245.2h0M302.0 260.4h0M305.6 260.3h0M306.7 252.3h0M309.6 251.2h0M299.3 260.3h0M304.5 256.8h0M296.4 252.5h0M309.5 257.4h0M305.8 257.9h0M300.2 262.6h0M311.0 262.9h0M309.4 251.9h0M299.1 267.3h0M301.5 238.2h0M297.7 252.9h0M298.9 250.6h0M302.2 257.3h0M303.8 241.9h0M302.0 240.6h0M301.3 250.4h0M303.1 256.7h0M310.7 256.9h0M311.8 249.3h0M307.3 242.9h0M310.0 258.0h0M299.4 242.6h0M296.8 252.8h0M301.3 242.7h0M303.6 260.7h0M310.0 251.7h0M297.9 257.5h0M306.2 257.7h0M300.8 262.2h0M295.9 248.1h0M296.0 260.5h0M300.4 252.0h0M300.8 247.9h0M299.8 259.6h0M299.2 267.0h0M310.8 250.7h0M305.0 243.9h0M304.1 243.7h0M297.2 250.6h0M301.2 256.4h0M302.1 258.1h0M300.5 257.9h0M304.1 258.8h0M309.1 249.2h0M302.8 255.2h0M308.2 255.7h0M308.0 254.7h0M306.2 247.1h0M296.5 255.1h0M308.5 264.3h0M299.8 257.5h0M310.7 248.1h0M303.8 244.8h0M306.5 265.4h0M296.1 257.3h0M308.8 267.9h0M307.4 251.2h0M303.8 257.1h0M301.7 246.6h0M310.7 252.6h0M305.2 270.9h0M303.8 261.0h0M302.3 268.4h0M305.5 253.1h0M309.1 253.4h0M303.6 262.8h0M300.6 254.2h0M297.5 252.5h0M307.5 257.6h0M306.6 262.4h0M300.9 244.2h0M296.6 246.7h0M300.1 267.5h0M305.9 252.5h0M302.5 250.9h0M298.3 245.8h0M309.4 261.5h0M297.5 259.2h0M303.5 260.5h0M298.4 244.7h0M297.0 259.5h0M300.7 262.9h0M302.0 240.1h0M307.2 255.4h0M310.2 254.6h0M301.0 266.8h0M309.6 247.2h0M302.9 265.4h0M302.5 263.9h0M302.4 252.1h0M307.7 244.3h0M304.4 256.5h0M303.8 257.0h0M309.2 255.3h0M305.3 256.5h0M297.6 254.3h0M309.4 250.3h0M308.7 248.7h0M306.1 252.2h0M310.1 252.1h0M305.0 241.9h0M301.8 254.0h0M299.1 247.4h0M299.1 264.0h0M296.9 252.6h0M306.4 245.6h0M301.4 248.1h0M307.0 254.1h0M309.1 257.0h0M299.7 250.9h0M301.2 256.4h0M303.7 257.8h0M299.3 255.9h0M300.1 251.7h0M299.7 246.7h0M302.5 251.1h0M300.4 264.4h0M304.4 267.3h0M296.9 260.1h0M298.4 255.2h0M300.3 247.6h0M303.4 259.3h0M297.2 247.6h0M308.5 251.5h0M307.5 270.0h0M302.6 266.3h0M310.2 257.3h0M302.8 260.1h0M303.3 249.4h0M311.5 252.6h0M299.9 248.3h0M309.0 245.0h0M302.7 248.6h0M310.8 261.8h0M305.6 240.8h0M308.2 255.2h0M298.8 266.8h0M305.4 246.2h0M311.1 254.6h0M298.7 259.0h0M299.6 256.7h0M299.2 262.0h0M303.9 243.5h0M306.1 245.2h0M297.5 266.3h0M303.1 254.8h0M301.6 266.6h0M311.2 256.6h0M301.5 246.0h0M307.7 260.6h0M297.1 249.2h0M297.3 255.5h0M303.3 245.1h0M304.5 245.4h0M307.4 249.2h0M304.9 240.2h0M300.1 249.1h0M302.2 254.1h0M295.9 246.9h0M302.3 237.6h0M308.6 264.5h0M308.4 245.2h0M297.0 253.7h0M298.6 255.7h0M309.5 253.2h0M306.9 269.0h0M297.9 249.8h0M301.4 269.6h0M297.9 255.5h0M310.6 254.7h0M298.9 253.4h0M306.8 243.3h0M299.0 263.2h0M307.5 240.8h0M301.3 262.8h0M306.7 246.0h0M301.7 253.3h0M301.8 267.5h0M296.5 255.1h0M303.7 262.3h0M299.4 243.8h0M306.8 255.2h0M299.4 252.5h0M303.4 264.2h0M303.7 241.9h0M308.9 257.2h0M301.2 242.4h0M308.4 248.4h0M303.0 255.9h0M309.5 245.6h0M298.0 262.5h0M306.6 243.9h0M303.7 261.3h0M304.8 256.9h0M305.2 261.2h0M300.9 261.2h0M307.1 265.0h0M302.1 253.2h0M300.4 242.5h0M305.5 253.1h0M310.1 259.9h0M302.2 259.2h0M298.4 241.8h0M298.2 254.2h0M306.7 244.4h0M300.1 260.1h0M297.4 261.0h0M304.9 265.0h0M299.0 256.4h0M300.2 251.0h0M306.5 269.4h0M300.8 242.3h0M302.0 261.9h0M309.2 243.1h0M305.6 268.1h0M309.0 251.4h0M305.0 251.0h0M299.3 255.7h0M304.2 251.5h0M303.5 242.2h0M307.5 257.6h0M302.2 237.5h0M298.6 251.2h0M308.9 265.1h0M304.3 250.1h0M308.3 253.9h0M297.7 247.3h0M306.1 243.9h0M297.0 254.6h0M299.0 249.2h0M304.3 256.8h0M297.5 250.1h0M309.4 247.7h0M302.9 258.0h0M306.7 256.1h0M305.0 260.2h0M308.9 255.9h0M303.6 267.4h0M301.7 258.1h0M300.5 256.6h0M302.3 260.9h0M305.4 254.2h0M301.6 255.5h0M307.6 266.2h0M308.1 241.9h0M299.0 254.3h0M310.4 257.9h0M306.0 261.0h0M310.9 252.5h0M297.4 261.0h0M306.0 253.4h0M308.9 253.1h0M307.9 259.6h0M297.7 246.3h0M308.0 254.0h0M308.8 251.0h0M302.8 240.5h0M310.5 257.1h0M309.1 262.8h0M301.9 253.9h0M306.4 254.8h0M298.1 260.8h0M305.6 250.1h0M300.2 269.7h0M303.0 253.1h0M306.1 242.7h0M309.6 250.6h0M308.8 262.3h0M306.5 252.5h0M299.8 255.7h0M308.3 247.1h0M297.8 249.2h0M295.7 250.0h0M304.0 258.1h0M299.8 266.9h0M306.0 245.0h0M296.7 251.6h0M310.0 248.2h0M310.4 259.2h0M302.1 249.8h0M305.5 261.4h0M310.2 254.8h0M296.6 257.6h0M310.2 249.4h0M301.7 240.8h0M306.2 264.0h0M308.2 261.9h0M305.3 269.7h0M298.6 241.3h0M301.1 249.3h0M298.2 256.7h0M298.6 245.1h0M307.0 257.5h0M297.6 253.9h0M306.6 245.5h0M302.3 265.8h0M306.3 244.9h0M305.9 268.8h0M299.1 253.7h0M296.7 254.4h0M311.3 259.5h0M302.4 249.6h0M306.4 257.1h0M297.3 264.0h0M300.8 265.3h0M303.3 245.2h0M297.1 258.5h0M306.9 268.5h0M307.4 256.2h0M298.5 257.7h0M299.0 247.9h0M303.8 245.9h0M304.3 241.6h0M297.5 249.5h0M301.1 240.9h0M303.0 269.6h0M297.8 247.8h0M310.5 242.1h0M298.2 247.8h0M297.3 263.0h0M308.3 267.7h0M302.8 262.3h0M302.5 257.0h0M297.3 251.0h0M310.5 256.9h0M305.6 249.4h0M302.4 249.9h0M307.0 242.0h0M311.9 253.7h0M302.5 269.0h0M306.8 259.7h0M300.2 241.6h0M299.0 261.7h0M297.3 260.2h0M310.4 256.7h0M306.3 269.7h0M310.4 256.1h0M299.4 248.4h0M305.1 252.2h0M303.4 269.4h0M302.7 264.2h0M298.8 254.8h0M300.4 254.8h0M302.6 258.4h0M298.2 250.4h0M305.8 264.9h0M310.7 265.1h0M297.7 251.3h0M301.8 263.5h0M304.2 258.4h0M298.7 263.9h0M302.2 246.9h0M300.3 265.8h0M309.0 247.6h0M300.3 246.2h0M302.2 246.4h0M303.0 245.9h0M309.6 247.3h0M303.5 267.1h0M296.7 256.0h0M303.6 243.3h0M307.6 247.3h0M309.1 255.2h0M299.1 252.9h0M302.1 253.1h0M300.8 260.7h0M301.1 245.3h0M309.4 261.7h0M302.1 271.8h0M298.8 255.6h0M298.0 243.0h0M301.1 262.1h0M298.0 256.5h0M302.5 258.1h0M299.5 244.3h0M302.7 252.2h0M307.9 243.5h0M299.6 253.3h0M301.3 262.5h0M301.1 240.4h0M298.8 266.8h0M298.4 267.3h0M302.9 269.2h0M298.3 267.9h0M297.0 250.2h0M301.2 240.4h0M307.8 265.4h0M299.4 243.8h0M297.8 252.8h0M308.7 254.5h0M301.6 242.1h0M307.7 252.5h0M296.6 254.9h0M304.9 252.9h0M305.9 241.8h0M302.8 256.3h0M300.8 250.1h0M297.7 263.0h0M300.7 256.3h0M308.9 257.1h0M306.5 256.8h0M299.3 256.6h0M299.8 245.2h0M310.9 265.2h0M304.7 264.3h0M304.2 252.2h0M304.9 246.7h0M302.8 253.8h0M297.7 261.4h0M297.3 252.1h0M305.3 263.3h0M306.9 243.2h0M304.4 240.6h0M300.9 254.8h0M309.7 256.4h0M306.9 266.9h0M307.7 262.3h0M303.6 238.9h0M298.2 266.3h0M301.4 240.3h0M298.4 257.4h0M307.4 266.1h0M307.9 266.4h0M301.1 251.4h0M303.1 247.4h0M301.0 241.6h0M306.4 258.3h0M297.2 250.8h0M307.4 240.1h0M302.4 265.2h0M302.4 252.1h0M298.9 257.9h0M310.6 250.4h0M309.3 245.9h0M296.3 255.7h0M299.5 262.7h0M305.3 269.3h0M306.1 245.6h0M300.6 259.3h0M303.8 265.7h0M308.2 269.8h0M302.6 255.9h0M309.1 254.1h0M303.3 267.9h0M303.7 243.7h0M305.5 263.8h0M308.5 263.5h0M304.3 265.1h0M308.4 245.4h0M299.5 258.0h0M299.3 242.3h0M300.3 247.4h0M302.9 243.8h0M301.9 244.2h0M301.4 264.6h0M303.8 252.9h0M308.2 259.3h0M303.1 249.2h0M305.3 254.3h0M298.1 262.8h0M299.8 257.0h0M310.7 254.2h0M297.8 255.5h0M298.5 261.0h0M295.9 248.6h0M301.4 252.9h0M303.5 271.1h0M302.2 270.6h0M306.9 244.2h0M303.9 266.8h0M305.4 262.3h0M303.9 259.2h0M302.9 243.4h0M299.4 249.2h0M303.9 260.8h0M307.5 264.6h0M300.6 243.2h0M303.3 247.8h0M304.1 243.2h0M305.1 269.6h0M311.1 247.2h0M299.5 268.1h0M305.8 260.7h0M303.2 246.2h0M303.5 252.9h0M300.0 256.1h0M300.9 261.6h0M307.6 251.3h0M299.8 260.1h0M307.0 241.3h0M310.7 260.1h0M302.1 250.3h0M304.7 266.0h0M297.9 262.0h0M304.6 249.1h0M297.7 260.3h0M301.9 244.3h0M299.1 251.0h0M304.1 245.0h0M306.8 264.4h0M307.8 268.4h0M304.8 242.2h0M304.4 252.2h0M299.3 258.9h0M303.2 259.9h0M308.0 239.2h0M307.7 240.5h0M303.9 264.9h0M303.9 257.1h0M301.1 248.9h0M300.8 258.4h0M301.6 252.8h0M299.4 251.4h0M303.8 264.3h0M297.6 247.3h0M300.3 256.6h0M298.2 251.8h0M305.0 257.6h0M299.3 248.7h0M308.7 245.6h0M308.0 245.7h0M297.6 246.7h0M307.2 266.7h0M302.5 244.1h0M310.7 249.6h0M308.1 256.1h0M304.2 264.3h0M303.5 252.5h0M306.1 260.8h0M304.4 244.1h0M306.0 261.5h0M301.0 243.6h0M309.8 258.8h0M300.4 264.5h0M302.8 263.9h0M297.2 248.7h0M302.3 263.8h0M302.7 248.3h0M298.5 247.4h0M299.3 251.9h0M306.4 242.5h0M309.9 263.1h0M302.5 261.3h0M310.6 264.4h0M311.7 251.9h0M309.6 247.4h0M302.9 266.3h0M309.4 248.1h0M300.8 251.9h0M296.3 262.0h0M307.5 246.9h0M307.0 249.6h0M310.3 255.1h0M304.9 250.1h0M311.2 248.3h0M300.3 263.0h0M301.9 271.2h0M304.6 259.4h0M302.1 263.1h0M306.5 249.1h0M299.2 251.8h0M302.4 254.0h0M302.6 254.4h0M305.7 248.3h0M311.8 251.9h0M299.9 252.7h0M304.4 265.7h0M298.9 252.1h0M297.8 265.7h0M309.8 263.9h0M301.4 264.3h0M309.0 251.5h0M299.5 242.6h0M301.0 242.5h0M300.2 264.9h0M307.0 260.1h0M301.9 267.2h0M299.3 260.4h0M298.1 263.6h0M305.9 243.9h0M305.8 265.2h0M306.7 259.1h0M299.7 250.8h0M303.8 249.3h0M305.1 244.9h0M308.1 263.9h0M299.8 263.8h0M307.8 256.9h0M311.0 247.8h0M302.1 257.1h0M308.5 253.4h0M307.0 259.1h0M300.9 249.4h0M309.7 264.2h0M300.2 260.5h0M305.5 256.4h0M300.1 254.9h0M310.6 255.2h0M303.4 247.0h0M297.5 260.8h0M307.5 251.1h0M299.1 249.2h0M300.7 244.5h0M309.8 254.9h0M305.0 248.4h0M301.7 266.7h0M300.9 257.7h0M299.6 256.1h0M302.1 241.7h0M303.7 262.9h0M302.6 256.5h0M298.9 247.0h0M305.3 253.3h0M297.3 259.8h0M304.1 245.9h0M308.3 260.8h0M300.5 259.9h0M298.8 263.7h0M303.4 252.4h0M303.1 260.5h0M307.9 250.2h0M303.2 267.1h0M303.5 252.6h0M308.4 244.9h0M297.8 247.9h0M304.8 265.7h0M303.0 259.4h0M307.1 247.6h0M306.0 251.6h0M310.0 250.4h0M301.0 262.7h0M311.2 251.9h0M299.2 239.9h0M297.3 261.3h0M298.9 267.5h0M306.8 266.1h0M307.1 250.4h0M307.2 239.5h0M298.6 259.2h0M307.1 262.6h0M301.7 248.4h0M304.0 263.6h0M305.1 239.2h0M300.9 255.5h0M296.5 256.7h0M309.3 255.8h0M300.1 257.7h0M298.6 253.1h0M304.4 244.2h0M304.4 243.4h0M310.3 252.0h0M305.0 254.0h0M308.1 261.6h0M308.1 260.9h0M302.8 268.5h0M299.0 242.7h0M305.1 246.4h0M304.3 242.8h0M297.0 258.3h0M298.3 249.9h0M305.3 247.3h0M300.3 238.0h0M300.7 246.4h0M303.6 237.6h0M304.6 244.9h0M299.6 261.9h0M303.4 258.1h0M304.1 240.6h0M300.9 243.6h0M309.3 252.5h0M300.2 247.5h0M300.6 246.1h0M300.5 256.6h0M305.5 271.7h0M299.3 248.4h0M299.5 262.9h0M302.3 262.3h0M301.6 258.9h0M299.1 261.9h0M302.3 239.0h0M306.6 263.8h0M300.2 245.9h0M301.8 251.9h0M301.4 246.5h0M309.4 261.5h0M301.0 249.5h0M310.6 246.3h0M298.4 252.1h0M302.6 242.1h0M298.4 259.8h0M302.0 267.8h0M300.4 253.9h0M300.8 243.9h0M308.7 253.8h0M302.4 247.0h0M299.8 261.1h0M306.7 247.6h0M299.4 251.0h0M298.1 252.6h0M310.9 245.3h0M306.4 240.4h0M302.7 249.8h0M306.5 258.6h0M296.7 253.5h0M304.6 267.5h0M298.9 264.0h0M302.0 265.5h0M305.3 263.5h0M306.2 241.7h0M307.5 267.2h0M299.5 271.2h0M299.5 244.0h0M302.5 254.3h0M305.8 238.0h0M310.1 246.1h0M303.8 254.2h0M305.6 257.0h0M305.2 242.1h0M300.1 253.6h0M303.3 257.4h0M296.6 259.8h0M306.5 239.5h0M308.1 259.0h0M300.6 247.6h0M305.0 261.6h0M305.3 257.1h0M302.5 251.2h0M299.1 254.1h0M300.6 248.5h0M303.8 254.9h0M300.5 257.5h0M301.2 248.5h0M296.3 259.6h0M300.9 263.1h0M306.8 257.4h0M300.8 267.7h0M297.7 255.3h0M299.1 258.3h0M304.2 255.6h0M301.1 244.9h0M305.2 254.2h0M299.4 249.5h0M303.7 241.1h0M303.0 239.6h0M296.9 254.2h0M303.9 251.5h0M304.9 259.3h0M298.3 244.2h0M308.0 245.6h0M302.4 257.7h0M306.7 251.5h0M303.3 262.6h0M298.6 266.2h0M307.3 265.5h0M309.8 261.4h0M309.2 241.1h0M304.3 252.4h0M305.2 245.2h0M298.6 261.5h0M305.7 249.4h0M301.0 242.1h0M303.5 266.0h0M303.6 267.5h0M309.0 253.9h0M309.3 269.1h0M306.1 260.7h0M299.2 265.5h0M301.0 240.5h0M305.9 254.4h0M305.9 251.6h0M298.4 255.8h0M297.4 250.0h0M308.0 265.2h0M298.5 247.0h0M306.4 241.3h0M300.8 261.5h0M310.4 256.4h0M298.3 261.8h0M305.7 248.4h0M310.7 251.8h0M310.4 254.6h0M303.6 255.5h0M301.4 250.5h0M305.1 251.6h0M298.6 253.3h0M298.9 254.9h0M305.8 257.6h0M306.9 244.4h0M309.3 261.8h0M306.9 255.4h0M307.9 263.5h0M308.5 268.1h0M298.0 248.0h0M305.4 247.0h0M308.2 266.8h0M306.0 266.1h0M301.4 264.5h0M302.2 256.1h0M304.4 240.9h0M309.4 251.0h0M308.4 267.5h0M302.9 247.9h0M300.5 267.0h0M302.1 249.9h0M301.7 258.0h0M299.5 245.0h0M301.7 240.5h0M297.7 244.1h0M299.1 244.0h0M305.1 255.5h0M305.4 269.2h0M306.3 246.3h0M305.5 269.4h0M303.7 269.9h0M297.6 262.6h0M305.9 250.6h0M304.8 255.6h0M307.5 254.4h0M308.9 247.8h0M302.5 238.6h0M299.6 248.5h0M306.9 269.7h0M308.0 242.1h0M300.7 260.1h0M307.3 244.1h0M309.2 248.6h0M306.6 249.5h0M306.7 245.0h0M297.8 253.5h0M310.8 249.6h0M304.6 252.2h0M304.0 247.6h0M305.9 259.6h0M302.6 269.8h0M303.3 271.0h0M299.9 270.0h0M298.6 243.0h0M303.4 238.6h0M304.3 258.9h0M300.2 242.6h0M308.4 259.0h0M307.5 257.6h0M306.9 254.4h0M304.9 247.2h0M307.7 265.2h0M309.4 248.5h0M303.5 267.2h0M300.5 270.4h0M304.7 246.7h0M301.3 268.7h0M303.8 251.8h0M306.8 253.0h0M301.3 239.6h0M306.4 250.3h0M305.1 267.3h0M310.5 256.3h0M306.1 261.1h0M296.8 259.6h0M306.6 271.2h0M304.8 246.4h0M300.3 247.7h0M303.1 246.9h0M305.4 248.1h0M305.1 260.8h0M303.0 247.4h0M304.3 268.1h0M298.9 247.6h0M304.8 246.8h0M304.3 261.7h0M298.3 263.3h0M304.5 251.4h0M308.2 243.9h0M298.3 247.2h0M306.3 263.7h0M300.7 260.2h0M299.7 251.5h0M307.2 242.2h0M300.3 250.5h0M304.7 262.4h0M304.4 255.2h0M310.6 262.3h0M304.4 253.3h0M299.3 253.2h0M306.6 263.5h0M306.2 256.3h0M300.7 254.0h0M303.4 262.7h0M301.4 257.8h0M306.5 240.2h0M300.1 266.1h0M301.3 271.0h0M299.9 257.6h0M297.1 253.7h0M299.6 266.6h0M306.1 258.5h0M296.1 249.1h0M304.7 268.3h0M297.1 262.7h0M308.6 254.8h0M299.7 259.4h0M297.0 257.0h0M303.5 264.4h0M301.6 267.9h0M304.3 249.0h0M306.7 267.6h0M306.2 245.9h0M306.7 266.7h0M304.7 252.0h0M303.4 252.9h0M308.4 243.9h0M309.1 266.0h0M307.5 261.1h0M310.3 260.3h0M303.9 270.2h0M308.2 266.2h0M302.4 267.6h0M307.6 264.1h0M299.4 261.6h0M307.3 262.5h0M299.1 244.1h0M305.7 267.2h0M296.9 252.0h0M308.9 253.7h0M305.5 244.2h0M304.0 260.5h0M300.4 260.3h0M306.7 264.6h0M296.5 261.5h0M308.9 246.3h0M302.6 241.5h0M303.4 243.6h0M300.1 265.7h0M307.3 248.5h0M299.7 260.1h0M307.3 269.5h0M299.8 259.7h0M301.1 263.4h0M309.0 259.0h0M309.3 250.8h0M296.9 255.6h0M304.4 252.8h0M306.9 262.3h0M308.0 264.5h0M298.6 249.6h0M307.0 242.5h0M300.0 259.7h0M307.9 259.4h0M306.6 263.4h0M302.7 255.7h0M303.8 255.3h0M298.1 251.7h0M301.1 240.8h0M305.0 244.6h0M301.8 268.1h0M303.7 260.9h0M297.2 252.0h0M307.1 251.5h0M304.0 263.3h0M301.1 258.2h0M301.6 247.7h0M305.5 262.0h0M305.3 257.2h0M303.2 255.1h0M298.3 244.9h0M302.0 262.7h0M304.8 258.4h0M306.1 258.8h0M305.7 268.2h0M303.4 243.5h0M297.8 259.3h0M301.0 261.3h0M307.5 259.6h0M305.7 248.8h0M303.8 269.4h0M300.5 250.2h0M296.6 258.3h0M309.0 249.5h0M304.7 268.2h0M301.8 253.9h0M310.9 250.8h0M305.4 262.8h0M307.7 254.8h0M306.9 241.4h0M309.7 245.4h0M308.0 250.9h0M308.3 244.7h0M301.1 252.4h0M306.1 241.3h0M299.1 258.9h0M305.5 245.1h0M300.2 240.0h0M307.1 245.2h0M304.9 247.8h0M310.4 255.6h0M304.1 249.2h0M308.1 260.0h0M303.0 266.8h0M304.2 264.2h0M297.6 250.9h0M302.9 263.5h0M307.7 267.5h0M306.5 259.3h0M306.3 251.7h0M307.7 266.0h0M299.3 250.2h0M306.4 265.9h0M300.1 249.3h0M302.4 263.4h0M311.0 250.6h0M309.7 259.0h0M302.4 256.5h0M301.0 243.7h0M299.9 256.6h0M302.1 246.9h0M305.0 240.9h0M303.7 268.5h0M300.2 266.5h0M301.5 271.1h0M303.9 243.9h0M305.6 247.1h0M302.7 258.8h0M306.1 248.7h0M299.9 263.4h0M307.7 257.6h0M309.5 249.4h0M301.6 256.7h0M305.7 269.8h0M303.6 250.1h0M301.7 241.3h0M306.7 268.3h0M306.0 257.2h0M301.9 249.1h0M306.3 258.6h0M298.4 251.9h0M310.6 262.2h0M306.6 265.7h0M301.3 245.7h0M305.5 267.1h0M307.2 243.0h0M305.1 264.2h0M305.8 268.1h0M305.2 265.8h0M298.6 260.3h0M305.5 261.5h0M297.6 250.0h0M307.7 244.6h0M310.2 247.0h0M308.4 246.0h0M305.7 259.7h0M302.0 259.2h0M299.6 259.1h0M299.5 260.7h0M303.5 265.3h0M305.7 241.4h0M305.9 266.8h0M307.7 254.9h0M298.2 255.5h0M299.8 259.7h0M302.3 267.0h0M304.5 264.9h0M311.7 256.3h0M298.2 258.0h0M302.7 255.3h0M308.1 258.3h0M300.2 249.6h0M300.0 253.4h0M299.0 243.4h0M301.0 240.3h0M306.4 241.4h0M297.3 256.1h0M298.2 269.5h0M305.5 242.7h0M306.7 264.3h0M305.1 255.0h0M307.2 253.0h0M301.3 256.9h0M309.3 250.2h0M306.2 248.9h0M299.9 256.4h0M296.8 246.9h0M297.5 249.3h0M306.8 255.5h0M296.8 232.9h0M305.9 249.0h0M309.1 251.2h0M296.9 248.9h0M295.8 241.8h0M307.3 249.9h0M307.2 249.7h0M302.5 249.8h0M300.8 248.8h0M311.4 254.3h0M293.6 270.4h0M310.1 265.1h0M303.1 253.4h0M301.2 256.0h0M306.1 254.8h0M299.4 245.9h0M312.3 270.3h0M297.2 249.0h0M303.4 260.2h0M303.1 257.0h0M305.5 265.3h0M296.9 264.9h0M305.9 259.8h0M295.9 252.7h0M302.3 260.7h0M307.2 261.1h0M297.0 266.3h0M304.0 263.4h0M303.6 248.4h0M317.2 260.8h0M307.6 250.6h0M302.5 265.0h0M306.0 270.8h0M309.9 245.0h0M295.7 265.4h0M306.8 252.5h0M302.1 249.8h0M312.9 253.3h0M296.5 263.1h0M303.2 258.1h0M301.7 254.5h0M293.9 259.7h0M300.1 251.4h0M305.3 266.5h0M292.5 253.6h0M306.5 264.1h0M298.9 257.7h0M305.7 263.3h0M300.4 253.2h0M301.0 265.2h0M309.3 250.8h0M302.9 256.8h0M299.0 253.8h0M308.1 261.9h0M300.1 249.0h0M303.0 241.6h0M305.2 255.9h0M296.7 252.8h0M300.2 252.4h0M299.1 267.2h0M298.6 261.8h0M304.7 267.9h0M303.3 254.9h0M304.0 237.9h0M316.1 253.0h0M302.0 244.7h0M302.9 269.4h0M299.7 258.9h0M309.0 263.4h0M301.5 239.2h0M305.7 260.0h0M301.9 251.0h0M312.7 240.7h0M300.9 249.4h0M295.5 248.7h0M299.5 266.1h0M294.6 242.6h0M305.0 241.0h0M293.2 249.3h0M297.3 246.2h0M302.8 259.0h0M300.3 252.4h0M307.3 253.5h0M307.4 249.6h0M306.1 266.3h0M301.9 251.9h0M302.8 259.1h0M297.3 255.3h0M300.6 267.7h0M294.6 260.7h0M302.0 248.2h0M304.3 252.8h0M303.8 257.0h0M309.8 251.3h0M312.3 230.8h0M313.1 265.8h0M311.7 256.7h0M305.1 245.9h0M310.5 244.6h0M299.5 254.9h0M304.8 258.0h0M297.6 251.9h0M306.1 265.5h0M307.6 258.6h0M302.3 250.1h0M300.9 254.1h0M306.3 250.4h0M314.3 246.0h0M307.8 253.1h0M302.9 251.5h0M311.6 252.3h0M306.5 256.0h0M307.5 260.2h0M312.2 248.4h0M299.3 270.0h0M310.2 255.6h0M302.1 257.2h0M310.4 248.1h0M311.1 254.4h0M301.7 251.4h0M292.7 257.8h0M296.8 250.0h0M299.0 257.0h0M307.3 255.3h0M304.6 258.6h0M311.9 260.1h0M311.7 254.4h0M305.4 249.2h0M306.7 247.3h0M306.0 249.3h0M301.8 265.8h0M304.4 262.0h0M302.4 238.4h0M311.2 253.3h0M300.2 263.3h0M297.7 248.3h0M309.5 248.8h0M309.5 252.2h0M302.5 255.6h0M301.0 264.4h0M309.3 255.5h0M306.8 259.7h0M312.3 240.9h0M308.9 263.0h0M302.0 255.1h0M301.8 265.9h0M297.7 260.3h0M310.3 260.0h0M301.1 250.9h0M292.6 245.8h0M309.3 246.6h0M295.1 252.8h0M295.9 259.0h0M299.1 263.4h0M303.0 242.4h0M299.6 249.2h0M299.2 265.9h0M298.4 258.2h0M300.6 260.2h0M296.2 241.1h0M306.3 267.6h0M296.4 252.2h0M301.0 246.7h0M308.6 255.4h0M296.4 253.0h0M310.5 248.7h0M300.9 247.6h0M304.5 250.0h0M308.2 247.6h0M296.1 259.0h0M287.2 246.6h0M305.1 257.1h0M300.6 251.0h0M299.4 253.4h0M301.2 259.8h0M303.7 259.9h0M312.1 252.5h0M302.1 258.3h0M314.5 251.8h0M312.4 265.5h0M289.4 246.2h0M298.5 258.5h0M310.5 255.4h0M299.0 269.5h0M301.0 233.5h0M299.3 250.8h0M303.4 261.7h0M307.2 259.6h0M299.7 270.8h0M309.8 255.3h0M300.7 254.5h0M302.5 248.8h0M303.6 249.1h0M307.0 249.2h0M306.2 257.8h0M304.5 259.6h0M300.0 261.5h0M303.7 251.1h0M312.7 264.7h0M302.2 260.0h0M307.2 269.0h0M308.9 253.5h0M302.3 244.6h0M305.0 262.6h0M301.6 260.8h0M304.3 250.8h0M297.3 264.8h0M316.8 259.8h0M298.0 245.8h0M304.9 260.7h0M311.5 233.5h0M313.2 256.4h0M304.3 258.4h0M301.8 252.4h0M309.1 239.5h0M303.0 259.9h0M295.1 253.5h0M311.6 258.3h0M307.3 261.2h0M304.8 258.1h0M299.4 253.1h0M313.2 244.0h0M302.8 243.7h0M300.9 248.1h0M297.3 257.1h0M298.7 259.6h0M313.0 232.2h0M302.8 236.3h0M303.0 258.3h0M304.7 265.7h0M304.5 239.6h0M311.5 246.5h0M303.2 257.8h0M299.1 255.7h0M311.4 239.9h0M295.0 250.9h0M302.8 243.5h0M291.7 263.1h0M305.7 243.1h0M306.6 254.4h0M304.5 243.0h0M302.5 259.2h0M294.5 245.6h0M307.1 254.3h0M298.0 251.3h0M302.4 258.9h0M310.6 235.3h0M297.6 254.9h0M308.8 258.5h0M289.3 240.2h0M310.7 260.2h0M317.0 262.1h0M306.1 268.6h0M301.4 250.0h0M298.4 257.1h0M306.0 263.3h0M311.2 260.5h0M310.1 252.7h0M298.7 261.5h0M309.0 266.9h0M302.8 250.7h0M301.8 258.1h0M303.4 253.2h0M305.0 252.3h0M305.4 249.5h0M295.6 252.1h0M313.5 247.6h0M308.4 267.0h0M300.9 257.2h0M291.8 260.0h0M311.7 256.6h0M293.3 249.7h0M299.8 255.9h0M305.2 251.2h0M302.1 247.5h0M306.7 256.7h0M305.5 250.4h0M306.3 252.2h0M305.2 253.5h0M300.2 245.0h0M294.0 242.6h0M295.1 247.5h0M302.6 244.4h0M289.1 244.3h0M310.1 244.4h0M303.1 249.2h0M307.7 241.8h0M305.3 256.9h0M306.6 258.7h0M304.5 238.8h0M302.0 246.3h0M306.5 252.8h0M304.5 264.8h0M303.1 270.1h0M308.0 241.4h0M300.6 265.9h0M301.1 265.7h0M300.8 253.8h0M309.1 240.6h0M304.1 250.7h0M304.6 270.4h0M306.3 242.6h0M308.7 250.8h0M304.6 265.3h0M302.1 263.5h0M304.6 246.7h0M302.1 242.5h0M309.9 256.3h0M308.7 244.7h0M308.1 244.0h0M305.2 254.7h0M300.6 257.6h0M303.9 247.0h0M299.8 243.0h0M310.8 256.2h0M301.8 261.1h0M299.2 244.3h0M305.6 269.2h0M305.3 256.2h0M312.8 240.8h0M319.6 244.8h0M303.3 242.6h0M297.4 252.7h0M316.4 246.3h0M300.5 257.3h0M298.4 252.5h0M308.0 235.0h0M302.1 252.1h0M301.0 253.7h0M294.3 250.8h0M301.0 245.5h0M307.9 246.9h0M311.1 259.4h0M299.4 260.3h0M300.7 260.0h0M308.5 265.3h0M298.2 253.7h0M303.7 243.7h0M305.9 261.1h0M296.5 249.8h0M297.9 243.2h0M298.1 267.3h0M300.2 251.2h0M308.8 264.1h0M311.0 235.9h0M307.6 238.8h0M300.4 251.0h0M302.8 265.5h0M302.8 254.3h0M306.4 258.8h0M306.3 239.0h0M306.3 257.7h0M306.8 254.3h0M305.8 242.9h0M309.6 243.7h0M311.0 264.0h0M303.4 252.1h0M307.7 252.0h0M297.5 257.3h0M297.3 250.6h0M313.0 262.2h0M301.4 254.2h0M300.3 254.7h0M296.2 261.0h0M303.8 249.2h0M301.4 250.4h0M300.7 250.3h0M310.5 261.0h0M305.9 258.1h0M297.8 232.8h0M311.6 261.3h0M304.8 257.4h0M304.7 255.0h0M302.3 234.4h0M306.7 255.2h0M308.8 257.6h0M302.2 260.3h0M304.7 250.8h0M301.7 250.9h0M302.1 250.7h0M303.1 265.0h0M293.4 225.3h0M301.2 253.4h0M299.8 242.4h0M299.3 250.1h0M304.5 251.7h0M297.5 251.4h0M311.6 246.7h0M304.0 264.0h0M299.5 249.6h0M318.8 266.1h0M301.0 256.3h0M304.2 256.1h0M306.1 252.1h0M292.2 246.0h0M304.5 242.3h0M302.0 268.5h0M304.9 248.8h0M304.4 264.4h0M294.8 243.4h0M300.3 250.8h0M303.2 249.5h0M304.3 255.6h0M297.6 249.1h0M297.3 257.4h0M305.1 260.8h0M299.1 249.9h0M292.2 254.9h0M295.3 258.0h0M309.3 258.9h0M307.0 256.9h0M305.6 263.4h0M302.3 262.4h0M308.2 258.7h0M305.1 243.3h0M309.4 246.7h0M300.3 247.0h0M306.6 246.0h0M306.1 259.9h0M304.2 251.7h0M306.8 266.8h0M301.3 245.2h0M300.6 246.8h0M302.5 253.4h0M291.7 268.1h0M299.5 250.9h0M293.5 236.8h0M298.4 256.9h0M308.1 238.3h0M304.9 268.6h0M302.2 263.2h0M305.3 246.4h0M308.9 249.2h0M305.5 251.1h0M302.6 256.2h0M310.6 239.4h0M297.9 255.7h0M308.8 253.1h0M302.7 259.6h0M311.9 246.5h0M295.4 252.2h0M307.7 242.8h0M309.5 263.4h0M307.8 247.1h0M297.0 260.8h0M305.1 261.1h0M296.7 227.9h0M309.5 263.9h0M302.3 254.7h0M306.0 261.6h0M302.7 250.1h0M298.6 264.1h0M304.2 223.7h0M305.5 249.6h0M297.1 250.1h0M297.1 250.7h0M300.9 259.5h0M298.4 238.2h0M300.6 242.3h0M307.5 252.9h0M295.0 246.8h0M303.6 254.4h0M294.1 253.6h0M305.2 263.8h0M309.4 253.7h0M296.9 251.4h0M307.1 246.4h0M310.2 246.1h0M297.9 262.3h0M303.2 257.7h0M302.1 255.1h0M300.7 272.0h0M307.1 253.7h0M306.1 262.4h0M301.0 256.4h0M304.8 249.6h0M299.7 253.0h0M302.1 251.1h0M293.6 255.5h0M307.1 255.4h0M312.6 262.6h0M301.8 248.7h0M306.3 251.4h0M295.3 255.9h0M302.2 252.7h0M306.9 256.6h0M314.2 248.1h0M303.2 257.6h0M301.4 250.1h0M312.8 241.6h0M305.5 238.8h0M305.5 237.3h0M297.6 265.1h0M311.7 256.0h0M289.6 264.0h0M305.0 244.7h0M301.9 242.8h0M303.2 254.0h0M304.3 262.0h0M300.4 234.8h0M297.6 243.4h0M301.8 250.8h0M303.5 267.2h0M303.8 245.0h0M302.1 246.8h0M302.4 260.0h0M297.8 261.2h0M313.0 268.6h0M312.1 255.6h0M303.4 256.9h0M301.8 246.3h0M306.9 242.1h0M296.6 259.8h0M301.8 247.2h0M306.3 267.7h0M302.2 253.6h0M306.6 263.3h0M309.1 260.9h0M300.3 259.6h0M303.7 239.4h0M310.1 260.0h0M310.8 254.2h0M307.5 254.2h0M304.5 263.0h0M304.0 260.3h0M303.5 265.9h0M307.1 239.8h0M312.3 258.8h0M301.1 249.2h0M314.0 255.6h0M306.3 260.2h0M300.6 270.6h0M314.6 247.8h0M309.6 240.1h0M302.0 255.4h0M304.0 260.0h0M305.8 258.2h0M303.0 257.5h0M304.0 266.0h0M304.2 253.5h0M302.8 243.2h0M314.4 258.5h0M304.4 250.6h0M310.3 251.8h0M301.3 249.9h0M311.7 257.6h0M302.9 249.0h0M310.3 257.4h0M302.0 262.9h0M308.2 245.9h0M309.6 264.6h0M302.5 242.8h0M309.4 251.7h0M302.7 252.2h0M302.3 262.3h0M298.1 259.6h0M309.7 264.3h0M307.4 257.2h0M302.7 253.7h0M299.2 269.9h0M303.1 245.7h0M308.0 268.4h0M305.2 252.0h0M298.0 260.6h0M302.5 248.9h0M306.8 243.2h0M307.5 233.0h0M300.6 242.0h0M302.5 262.0h0M297.0 267.0h0M300.2 250.5h0M308.8 248.3h0M311.2 253.0h0M303.2 246.2h0M309.6 254.2h0M301.3 246.3h0M300.5 254.0h0M300.1 261.9h0M303.6 249.3h0M306.1 267.6h0M293.1 258.0h0M309.3 256.0h0M308.0 241.1h0M299.9 263.8h0M303.3 255.4h0M307.0 258.1h0M306.1 250.4h0M302.2 266.5h0M301.2 242.0h0M302.0 262.8h0M312.9 256.2h0M300.6 260.2h0M305.3 265.4h0M306.4 261.5h0M306.4 258.6h0M299.1 253.4h0M311.9 266.7h0M308.7 258.3h0M303.2 257.9h0M302.1 264.5h0M302.2 248.0h0M295.6 268.7h0M300.0 247.2h0M305.8 270.8h0M307.2 251.9h0M306.7 247.5h0M302.5 255.1h0M303.9 261.8h0M306.5 271.6h0M308.0 252.3h0M305.1 247.3h0M300.7 251.8h0M309.0 248.7h0M295.9 245.8h0M297.7 253.2h0M302.3 244.4h0M299.8 251.1h0M305.8 260.3h0M310.5 252.5h0M307.0 255.5h0M298.3 249.2h0M314.9 253.4h0M312.2 262.2h0M312.3 253.1h0M308.6 252.1h0M298.3 244.4h0M306.1 240.5h0M305.7 247.1h0M305.7 242.6h0M308.2 252.8h0M296.2 242.0h0M304.2 240.3h0M305.5 259.1h0M300.6 267.2h0M311.2 257.6h0M306.2 259.0h0M302.6 266.5h0M301.2 232.5h0M304.0 258.7h0M308.0 245.0h0M310.9 247.5h0M307.1 261.3h0M304.8 264.9h0M306.4 251.1h0M317.0 254.8h0M295.7 267.4h0M311.7 249.7h0M298.9 264.8h0M304.2 246.3h0M301.5 255.4h0M308.8 268.7h0M300.8 268.5h0M296.3 261.2h0M303.2 258.7h0M301.7 248.5h0M305.3 264.9h0M292.8 255.3h0M301.9 245.3h0M297.1 259.4h0M306.7 260.6h0M293.9 241.3h0M300.8 251.0h0M312.8 251.4h0M304.5 263.7h0M312.3 258.1h0M305.6 272.0h0M301.9 238.9h0M300.1 252.0h0M310.5 257.6h0M310.0 255.7h0M304.1 249.7h0M297.7 259.3h0M305.7 259.9h0M301.2 251.1h0M305.8 260.2h0M313.9 247.1h0M308.9 262.7h0M302.6 256.0h0M303.6 268.4h0M316.7 257.7h0M302.6 263.3h0M306.4 253.2h0M307.7 262.6h0M301.9 262.4h0M292.6 243.4h0M302.4 256.2h0M296.6 268.0h0M302.0 256.2h0M303.7 261.5h0M301.0 261.4h0M299.7 241.6h0M306.5 256.3h0M308.4 237.5h0M304.5 249.1h0M303.0 251.3h0M302.0 248.9h0M309.1 239.5h0M295.5 257.9h0M314.0 248.0h0M299.4 244.4h0M298.8 266.0h0M307.3 262.8h0M305.7 256.9h0M301.0 246.2h0M302.1 266.1h0M300.4 255.2h0M312.5 254.2h0M307.1 249.8h0M313.4 243.8h0M306.7 252.7h0M304.9 258.1h0M310.5 262.6h0M309.2 258.1h0M298.6 266.8h0M311.7 259.1h0M307.9 252.7h0M296.7 263.6h0M300.3 271.9h0M307.4 254.6h0M300.8 255.8h0M298.8 251.5h0M312.0 252.2h0M313.2 254.0h0M306.0 246.6h0M302.4 250.8h0M296.9 272.1h0M306.9 254.1h0M298.4 255.1h0M298.6 246.2h0M295.2 259.8h0M301.2 228.9h0M296.8 253.6h0M304.2 248.1h0M312.8 259.6h0M300.7 240.1h0M304.8 248.8h0M309.1 245.5h0M309.9 250.7h0M304.9 252.4h0M307.0 265.1h0M301.2 246.7h0M313.4 263.4h0M313.5 263.4h0M304.6 269.4h0M300.5 251.0h0M301.9 261.0h0M299.6 253.2h0M299.6 252.7h0M309.5 264.8h0M300.3 258.9h0M301.5 235.0h0M297.9 265.9h0M303.3 257.2h0M310.2 255.1h0M300.7 249.4h0M299.1 259.8h0M301.5 259.4h0M296.3 251.0h0M314.3 258.1h0M303.4 265.5h0M305.3 268.6h0M298.0 261.7h0M298.5 260.9h0M316.3 268.5h0M299.5 258.6h0M306.2 248.4h0M305.1 245.3h0M308.8 263.0h0M303.0 261.0h0M315.9 253.4h0M294.4 257.8h0M301.6 247.8h0M308.4 263.8h0M306.9 269.5h0M300.7 251.1h0M306.0 230.5h0M290.0 257.9h0M302.8 255.3h0M299.0 256.9h0M309.2 249.1h0M306.7 253.4h0M303.0 255.9h0M311.5 259.5h0M307.3 256.2h0M293.0 263.3h0M303.7 255.7h0M301.3 241.0h0M311.4 271.3h0M311.8 238.3h0M306.6 244.2h0M302.9 250.2h0M300.7 247.9h0M301.4 261.8h0M312.0 263.2h0M303.8 253.5h0M302.6 254.6h0M300.7 253.2h0M308.1 252.8h0M299.7 253.7h0M304.3 254.1h0M302.5 261.2h0M303.6 245.7h0M306.7 248.4h0M307.7 262.2h0M306.3 257.6h0M297.0 253.0h0M304.4 260.6h0M298.1 253.4h0M296.0 256.4h0M304.2 255.9h0M312.2 261.4h0M302.8 249.6h0M301.5 261.9h0M308.4 250.3h0M303.2 250.9h0M307.3 256.5h0M300.1 246.9h0M310.4 242.2h0M294.6 227.1h0M314.1 250.0h0M308.1 259.9h0M308.1 265.0h0M301.4 254.7h0M308.8 259.8h0M299.9 248.0h0M296.4 257.2h0M301.1 240.8h0M301.0 257.7h0M304.7 252.8h0M304.6 260.7h0M297.7 247.5h0M308.8 261.4h0M296.6 248.3h0M311.2 261.6h0M303.1 264.0h0M310.8 267.5h0M296.7 243.2h0M301.2 254.4h0M302.0 257.0h0M311.4 264.7h0M308.9 254.8h0M312.2 258.9h0M305.0 254.7h0M303.7 262.9h0M315.4 253.1h0M297.8 264.0h0M305.0 246.3h0M308.7 254.9h0M299.0 232.1h0M298.7 258.3h0M298.5 263.6h0M315.1 257.7h0M305.0 254.1h0M308.2 255.1h0M309.1 267.6h0M308.2 246.2h0M307.2 252.5h0M305.4 263.5h0M300.4 256.7h0M311.3 247.3h0M302.8 261.3h0M302.6 264.0h0M298.6 241.4h0M305.7 253.6h0M305.4 263.5h0M309.2 251.7h0M282.7 241.2h0M277.5 257.9h0M288.1 244.7h0M293.1 255.7h0M295.9 253.3h0M294.8 247.6h0M269.7 249.9h0M292.4 259.1h0M269.4 257.2h0M292.1 268.8h0M293.1 259.9h0M272.1 258.9h0M268.7 253.8h0M282.9 248.6h0M277.1 255.0h0M291.3 251.1h0M288.8 261.4h0M286.0 270.6h0M283.4 250.5h0M269.3 264.2h0M292.2 254.6h0M288.9 255.0h0M293.9 255.9h0M288.2 255.4h0M278.3 239.2h0M291.0 246.6h0M289.7 260.9h0M302.9 250.4h0M287.5 263.2h0M280.2 251.6h0M290.1 271.7h0M295.8 263.3h0M277.6 261.0h0M296.3 246.4h0M286.3 254.6h0M291.9 242.8h0M292.4 256.0h0M283.8 240.0h0M267.7 251.9h0M291.9 259.2h0M292.8 243.1h0M288.0 266.2h0M272.4 261.0h0M279.7 260.2h0M287.0 243.7h0M276.8 265.7h0M285.2 265.4h0M289.2 262.8h0M282.6 257.7h0M282.8 262.9h0M281.0 264.4h0M300.1 246.8h0M284.6 260.1h0M302.0 264.7h0M286.9 242.9h0M293.6 251.6h0M287.9 259.1h0M273.6 264.1h0M294.3 260.4h0M291.5 258.7h0M273.7 252.2h0M293.4 253.5h0M286.4 258.8h0M286.9 258.0h0M290.5 256.0h0M276.3 254.0h0M294.6 250.9h0M290.3 258.3h0M278.3 234.7h0M286.0 250.2h0M280.6 263.1h0M279.3 258.7h0M287.2 257.5h0M303.9 241.1h0M294.7 254.9h0M283.7 251.0h0M286.5 256.4h0M278.0 268.4h0M279.5 255.0h0M274.8 257.2h0M289.3 264.2h0M294.9 252.2h0M300.4 255.2h0M299.9 269.0h0M282.5 247.9h0M290.9 266.9h0M289.7 264.3h0M291.4 262.7h0M297.9 253.8h0M273.5 255.1h0M279.1 247.0h0M284.6 261.4h0M269.7 244.6h0M293.2 249.3h0M282.7 266.2h0M296.1 258.7h0M290.9 235.5h0M291.1 258.9h0M273.8 257.4h0M290.2 255.1h0M293.2 262.7h0M286.6 254.1h0M275.6 264.6h0M281.0 258.4h0M299.7 261.9h0M274.8 255.4h0M279.8 243.6h0M279.0 260.4h0M289.1 254.5h0M287.7 247.2h0M279.3 254.8h0M293.2 253.6h0M284.6 258.5h0M299.1 246.5h0M290.8 257.4h0M285.5 257.9h0M268.5 256.2h0M284.0 246.7h0M293.6 255.1h0M283.1 261.7h0M277.9 250.6h0M293.4 262.6h0M304.0 252.6h0M273.2 244.8h0M275.5 256.8h0M284.0 250.9h0M277.2 250.8h0M282.9 265.0h0M291.6 266.3h0M293.4 261.7h0M296.5 259.4h0M299.8 264.5h0M302.2 257.6h0M283.6 259.9h0M282.7 250.8h0M290.0 247.6h0M284.7 266.6h0M287.2 262.2h0M291.8 258.9h0M287.0 260.6h0M277.5 260.4h0M276.6 250.3h0M280.9 245.9h0M268.6 258.9h0M290.5 261.0h0M305.7 257.3h0M292.7 250.4h0M292.4 247.4h0M303.6 248.8h0M282.4 261.6h0M266.6 266.1h0M277.6 257.5h0M294.8 257.2h0M294.4 252.2h0M291.3 239.6h0M299.5 251.0h0M278.4 256.1h0M301.1 250.7h0M285.9 253.3h0M277.8 246.2h0M291.3 261.3h0M279.4 257.7h0M290.0 258.9h0M284.6 256.3h0M288.5 248.0h0M284.8 262.0h0M281.1 265.9h0M283.9 247.7h0M283.4 245.8h0M291.5 244.0h0M286.2 254.2h0M283.3 259.2h0M288.6 251.8h0M293.3 252.6h0M294.0 266.1h0M289.4 263.0h0M274.2 260.2h0M272.8 254.7h0M292.2 235.8h0M279.1 250.2h0M277.7 256.2h0M291.7 247.3h0M280.5 242.0h0M279.8 240.2h0M272.7 259.5h0M293.8 249.9h0M289.1 250.2h0M295.5 269.2h0M264.2 249.5h0M280.3 252.4h0M299.9 267.8h0M285.9 260.8h0M271.9 253.8h0M283.5 254.9h0M288.7 244.2h0M276.8 272.1h0M270.6 256.5h0M292.5 259.7h0M286.5 243.9h0M281.9 244.3h0M303.4 258.7h0M292.5 257.5h0M282.6 264.9h0M293.8 260.8h0M291.2 261.6h0M283.5 259.3h0M286.7 254.1h0M291.8 272.1h0M268.0 266.8h0M282.2 265.1h0M277.0 254.6h0M295.1 255.5h0M289.1 246.9h0M275.8 268.6h0M287.4 255.4h0M273.7 248.2h0M276.9 255.6h0M285.0 251.4h0M280.1 256.8h0M296.4 245.4h0M273.4 264.5h0M273.3 252.9h0M287.1 269.7h0M267.9 234.1h0M285.3 264.1h0M287.3 249.9h0M287.7 240.5h0M293.3 267.2h0M284.2 262.2h0M289.6 271.7h0M293.6 256.7h0M292.5 250.3h0M285.9 260.7h0M304.4 258.3h0M284.6 264.2h0M309.9 262.7h0M289.5 260.0h0M281.0 261.6h0M312.0 269.3h0M299.2 264.9h0M294.9 262.9h0M294.1 263.1h0M294.9 263.3h0M306.9 261.9h0M287.2 265.3h0M297.6 258.7h0M305.6 256.5h0M309.2 265.7h0M293.2 257.4h0M298.8 256.0h0M309.3 247.1h0M301.5 259.7h0M289.2 266.2h0M295.2 265.0h0M295.7 260.1h0M305.2 268.3h0M309.8 261.9h0M314.6 259.8h0M286.6 249.7h0M285.8 256.3h0M282.5 264.2h0M300.3 261.8h0M302.3 261.3h0M297.5 259.9h0M300.4 254.6h0M312.6 272.2h0M290.5 268.0h0M284.1 266.0h0M292.7 268.7h0M301.1 268.3h0M306.0 265.5h0M303.5 265.2h0M314.1 260.3h0M317.2 269.2h0M300.8 252.4h0M312.0 260.0h0M301.0 262.8h0M309.4 266.2h0M282.1 257.7h0M303.5 263.2h0M307.8 265.8h0M316.0 257.2h0M312.9 264.5h0M303.0 266.5h0M296.7 266.7h0M298.0 266.8h0M292.6 269.8h0M285.1 257.7h0M299.6 263.6h0M292.2 259.4h0M302.6 269.0h0M312.8 258.9h0M299.4 259.9h0M285.1 259.1h0M311.2 253.1h0M317.1 263.2h0M277.4 264.9h0M315.7 258.2h0M312.5 267.0h0M307.8 267.0h0M305.8 266.3h0M311.8 264.8h0M306.3 264.9h0M301.4 256.3h0M282.4 255.3h0M287.9 252.2h0M306.8 259.8h0M307.7 258.9h0M303.8 260.7h0M315.8 270.5h0M308.2 267.9h0M288.6 258.0h0M301.7 260.6h0M295.0 248.8h0M292.7 261.3h0M303.1 254.9h0M301.6 249.0h0M298.3 262.0h0M312.5 263.3h0M313.6 264.2h0M311.6 271.0h0M309.5 210.9h0M306.0 231.1h0M298.6 220.7h0M305.3 210.6h0M306.7 211.8h0M306.6 213.6h0M299.8 223.6h0M311.3 212.6h0M304.5 206.6h0M304.7 214.2h0M300.3 209.6h0M305.2 218.3h0M306.2 223.4h0M296.0 223.8h0M303.3 222.1h0M303.3 211.2h0M303.2 217.7h0M300.6 214.5h0M304.5 218.5h0M302.5 218.5h0M301.5 215.7h0M304.2 219.2h0M309.7 209.3h0M305.2 222.9h0M306.7 210.9h0M305.1 207.5h0M295.2 219.4h0M300.6 211.9h0M307.5 209.8h0M303.8 215.5h0M302.6 210.8h0M311.0 199.6h0M303.3 218.8h0M302.7 215.7h0M304.7 215.5h0M302.1 221.6h0M305.4 220.6h0M303.8 206.1h0M297.0 219.0h0M305.2 206.4h0M301.2 223.2h0M304.8 211.1h0M303.0 216.4h0M301.8 215.5h0M301.0 218.7h0M309.7 216.6h0M298.6 230.5h0M303.0 209.5h0M297.6 221.4h0M304.4 211.7h0M300.3 217.3h0M304.5 217.6h0M305.6 202.6h0M301.1 218.8h0M304.9 217.8h0M297.7 227.9h0M298.8 218.7h0M301.6 214.9h0M300.4 221.9h0M306.5 214.3h0M298.5 217.1h0M303.2 217.5h0M301.3 216.2h0M313.7 206.6h0M302.3 205.3h0M300.5 225.6h0M306.8 207.1h0M306.5 213.5h0M300.4 221.9h0M301.1 216.2h0M303.5 216.4h0M301.8 218.4h0M303.5 216.4h0M305.0 211.2h0M298.2 219.9h0M310.6 234.6h0M298.8 226.4h0M282.9 222.6h0M285.5 229.2h0M278.2 231.1h0M277.9 237.0h0M295.9 218.7h0M289.8 233.8h0M300.6 238.0h0M292.1 230.9h0" stroke="#161616" stroke-width="0.8" stroke-linecap="square" fill="none"/>
<line x1="246.50" y1="266.60" x2="247.70" y2="266.60" stroke="#555" stroke-width="0.4" />
<line x1="253.00" y1="273.10" x2="253.00" y2="271.90" stroke="#555" stroke-width="0.4" />
<line x1="246.50" y1="260.10" x2="247.70" y2="260.10" stroke="#555" stroke-width="0.4" />
<line x1="259.50" y1="273.10" x2="259.50" y2="271.90" stroke="#555" stroke-width="0.4" />
<line x1="246.50" y1="253.60" x2="247.70" y2="253.60" stroke="#555" stroke-width="0.4" />
<line x1="266.00" y1="273.10" x2="266.00" y2="271.90" stroke="#555" stroke-width="0.4" />
<line x1="246.50" y1="247.10" x2="247.70" y2="247.10" stroke="#555" stroke-width="0.4" />
<line x1="272.50" y1="273.10" x2="272.50" y2="271.90" stroke="#555" stroke-width="0.4" />
<line x1="246.50" y1="240.60" x2="247.70" y2="240.60" stroke="#555" stroke-width="0.4" />
<line x1="279.00" y1="273.10" x2="279.00" y2="271.90" stroke="#555" stroke-width="0.4" />
<line x1="246.50" y1="234.10" x2="247.70" y2="234.10" stroke="#555" stroke-width="0.4" />
<line x1="285.50" y1="273.10" x2="285.50" y2="271.90" stroke="#555" stroke-width="0.4" />
<line x1="246.50" y1="227.60" x2="247.70" y2="227.60" stroke="#555" stroke-width="0.4" />
<line x1="292.00" y1="273.10" x2="292.00" y2="271.90" stroke="#555" stroke-width="0.4" />
<line x1="246.50" y1="221.10" x2="247.70" y2="221.10" stroke="#555" stroke-width="0.4" />
<line x1="298.50" y1="273.10" x2="298.50" y2="271.90" stroke="#555" stroke-width="0.4" />
<line x1="246.50" y1="214.60" x2="247.70" y2="214.60" stroke="#555" stroke-width="0.4" />
<line x1="305.00" y1="273.10" x2="305.00" y2="271.90" stroke="#555" stroke-width="0.4" />
<line x1="246.50" y1="208.10" x2="247.70" y2="208.10" stroke="#555" stroke-width="0.4" />
<line x1="311.50" y1="273.10" x2="311.50" y2="271.90" stroke="#555" stroke-width="0.4" />
<line x1="246.50" y1="201.60" x2="247.70" y2="201.60" stroke="#555" stroke-width="0.4" />
<line x1="318.00" y1="273.10" x2="318.00" y2="271.90" stroke="#555" stroke-width="0.4" />
<rect x="345.20" y="192.30" width="81.50" height="80.80" fill="#fff" stroke="#555" stroke-width="0.8"/>
<clipPath id="cp345"><rect x="345.59999999999997" y="192.70000000000002" width="80.7" height="80.0"/></clipPath>
<g clip-path="url(#cp345)">
</g>
<rect x="385.20" y="201.20" width="32.20" height="29.70" fill="none" stroke="#666" stroke-width="0.7"/>
<path d="M368.6 260.9h0M379.0 258.3h0M359.3 258.3h0M374.6 245.5h0M362.1 244.0h0M363.8 250.4h0M360.4 257.5h0M368.3 256.1h0M357.6 245.9h0M365.5 253.9h0M377.2 253.2h0M361.4 246.4h0M375.9 255.1h0M362.0 243.0h0M352.5 255.3h0M371.4 258.6h0M369.9 257.3h0M368.1 254.5h0M369.9 242.9h0M363.5 254.5h0M351.6 254.9h0M373.9 256.6h0M354.3 259.6h0M356.4 253.2h0M355.9 252.0h0M359.2 249.4h0M354.6 250.2h0M370.9 263.5h0M353.5 251.8h0M372.3 264.1h0M360.4 255.5h0M367.6 257.8h0M364.2 262.0h0M355.3 252.6h0M366.2 252.7h0M380.7 254.7h0M370.1 244.9h0M356.3 250.7h0M352.7 251.0h0M363.0 256.0h0M370.2 257.8h0M372.8 246.7h0M353.7 250.9h0M375.7 251.7h0M379.3 263.0h0M358.9 261.1h0M367.7 259.5h0M371.5 264.9h0M367.3 249.9h0M357.3 258.9h0M367.1 258.4h0M374.0 247.1h0M359.7 247.4h0M376.2 253.5h0M358.0 254.1h0M359.1 262.5h0M362.3 250.3h0M357.6 261.5h0M361.8 260.4h0M361.0 258.3h0M371.3 242.0h0M358.9 264.2h0M367.4 264.7h0M366.3 252.9h0M371.5 246.6h0M364.4 243.3h0M377.1 243.3h0M372.7 249.8h0M361.6 251.9h0M358.1 266.5h0M367.5 249.6h0M359.9 244.9h0M366.9 255.8h0M356.3 254.5h0M368.8 244.2h0M359.7 257.6h0M369.7 240.9h0M361.3 259.5h0M362.8 243.6h0M374.9 250.1h0M353.4 256.1h0M367.8 259.5h0M358.5 249.9h0M366.1 240.2h0M353.6 251.0h0M360.7 261.0h0M358.8 255.7h0M360.4 243.7h0M361.4 262.9h0M357.4 248.6h0M375.1 252.2h0M367.4 249.7h0M375.0 250.2h0M358.2 249.3h0M357.4 251.6h0M370.2 253.9h0M363.7 265.0h0M360.4 263.6h0M364.0 250.7h0M372.3 242.7h0M359.0 242.0h0M359.3 248.2h0M363.5 248.3h0M356.2 263.3h0M360.2 260.0h0M362.2 248.0h0M359.3 250.9h0M357.7 264.1h0M369.5 248.9h0M367.8 256.4h0M369.6 259.0h0M373.5 245.2h0M365.2 264.4h0M375.8 264.6h0M366.8 245.1h0M354.4 250.6h0M364.7 246.1h0M352.6 256.7h0M374.2 249.4h0M359.6 253.7h0M374.6 261.0h0M373.8 260.7h0M372.1 240.0h0M374.1 246.9h0M376.4 259.4h0M369.8 255.7h0M357.7 260.3h0M370.5 248.1h0M378.4 249.8h0M368.8 244.9h0M364.9 247.9h0M375.8 259.0h0M351.6 247.3h0M368.1 264.3h0M377.6 248.0h0M371.6 246.9h0M372.5 254.5h0M369.2 257.6h0M374.6 248.5h0M354.6 252.0h0M360.3 256.0h0M375.8 248.3h0M363.6 244.7h0M365.3 257.8h0M367.3 248.9h0M372.9 258.7h0M377.5 253.3h0M378.5 249.2h0M357.2 244.9h0M365.1 253.5h0M366.2 251.2h0M370.8 259.9h0M364.9 260.3h0M381.1 254.6h0M371.6 256.2h0M364.4 261.0h0M360.1 242.3h0M375.9 255.9h0M375.8 248.5h0M372.0 251.6h0M369.1 248.5h0M364.1 266.0h0M363.4 260.3h0M359.8 244.9h0M361.3 246.9h0M365.1 253.6h0M377.8 251.5h0M361.2 256.7h0M370.2 249.2h0M360.2 261.9h0M357.6 245.1h0M366.4 266.3h0M375.2 259.1h0M374.5 258.5h0M355.3 257.7h0M356.2 249.6h0M357.1 264.9h0M364.7 250.6h0M370.2 248.4h0M362.9 253.5h0M370.0 246.5h0M356.3 250.2h0M369.1 256.1h0M365.2 260.8h0M356.2 261.0h0M381.0 256.3h0M356.6 262.1h0M362.3 262.8h0M358.2 253.3h0M368.6 244.9h0M355.7 259.4h0M362.8 254.9h0M363.8 257.1h0M366.0 259.2h0M359.0 251.2h0M373.3 251.1h0M377.8 253.3h0M365.1 238.2h0M366.8 248.0h0M354.0 247.0h0M369.5 257.8h0M362.9 252.7h0M376.4 260.7h0M377.3 244.1h0M359.0 256.2h0M377.3 256.4h0M365.4 245.1h0M361.9 247.2h0M357.3 249.6h0M361.6 262.1h0M370.0 245.3h0M359.6 249.4h0M374.9 255.2h0M374.5 262.2h0M359.7 249.9h0M367.6 262.4h0M360.7 261.6h0M358.3 246.1h0M355.5 257.9h0M368.5 254.9h0M367.0 266.5h0M357.3 259.8h0M372.5 251.0h0M372.9 259.9h0M368.1 240.8h0M350.7 251.5h0M355.8 245.7h0M365.6 242.2h0M373.2 249.9h0M374.7 248.9h0M364.0 264.9h0M363.2 246.9h0M369.6 244.5h0M369.1 258.7h0M369.3 263.4h0M353.1 248.9h0M371.5 245.4h0M380.0 253.9h0M376.8 250.4h0M374.7 246.0h0M361.8 248.2h0M365.1 265.8h0M376.1 252.7h0M353.6 256.2h0M364.0 260.8h0M356.2 248.7h0M357.5 253.3h0M371.3 245.7h0M362.1 264.0h0M363.9 257.9h0M362.6 249.2h0M369.8 257.0h0M378.1 252.7h0M377.9 250.5h0M379.9 248.3h0M363.3 256.9h0M364.6 262.8h0M377.9 250.8h0M375.3 246.9h0M361.6 256.9h0M375.0 261.2h0M376.1 254.7h0M372.1 259.1h0M355.9 259.4h0M374.5 260.6h0M361.0 253.2h0M370.3 262.0h0M359.6 255.9h0M356.4 260.9h0M354.8 249.3h0M361.5 254.4h0M363.8 259.5h0M373.3 257.5h0M361.4 255.3h0M364.8 263.2h0M361.3 251.8h0M357.2 262.8h0M381.4 249.0h0M361.3 257.0h0M373.7 248.3h0M375.0 254.5h0M375.6 260.2h0M365.5 267.4h0M357.6 245.2h0M376.2 261.8h0M360.6 253.7h0M352.9 251.3h0M373.4 256.9h0M374.7 259.5h0M372.5 258.7h0M377.3 256.7h0M358.5 259.2h0M360.1 263.4h0M353.5 255.4h0M373.4 249.0h0M355.2 244.3h0M371.3 254.3h0M364.2 261.5h0M374.7 253.2h0M372.6 256.1h0M357.5 261.6h0M375.0 259.3h0M357.2 245.8h0M358.0 256.8h0M361.5 260.3h0M358.5 259.1h0M370.3 249.3h0M367.5 255.8h0M354.4 254.0h0M357.3 242.5h0M373.6 258.0h0M369.9 242.4h0M368.9 263.8h0M373.5 250.5h0M362.4 239.9h0M359.3 258.0h0M374.0 263.8h0M372.5 249.7h0M364.7 267.2h0M374.1 259.2h0M369.6 262.6h0M361.6 245.5h0M361.3 265.1h0M359.6 256.5h0M362.0 246.9h0M363.3 262.5h0M373.6 252.8h0M367.4 258.0h0M378.1 248.6h0M373.1 259.9h0M358.5 245.9h0M378.9 246.5h0M374.5 244.5h0M354.3 253.5h0M369.5 266.7h0M355.3 250.2h0M358.3 257.3h0M366.2 242.7h0M353.4 254.5h0M363.9 265.4h0M373.4 243.7h0M369.7 247.8h0M354.7 250.4h0M362.4 256.7h0M359.8 258.3h0M362.3 266.0h0M365.8 240.8h0M379.5 257.5h0M361.3 265.5h0M374.0 265.9h0M377.6 246.7h0M363.9 241.4h0M371.5 245.9h0M362.7 240.6h0M362.7 252.5h0M356.3 246.6h0M365.3 253.5h0M368.9 260.4h0M367.2 258.4h0M358.6 241.7h0M378.9 246.0h0M362.1 249.2h0M360.6 246.5h0M370.4 256.4h0M370.1 265.2h0M365.2 253.0h0M351.9 258.4h0M354.7 246.5h0M369.2 239.9h0M371.4 253.5h0M377.8 247.8h0M355.5 252.4h0M363.5 254.2h0M371.0 246.7h0M370.7 245.8h0M359.7 261.4h0M375.4 263.8h0M372.2 258.1h0M358.2 243.1h0M378.3 252.8h0M361.0 255.0h0M355.6 255.9h0M363.6 260.9h0M367.7 244.9h0M370.8 251.0h0M365.2 254.2h0M364.7 240.1h0M374.0 258.3h0M361.8 255.7h0M377.1 244.5h0M369.9 244.4h0M361.3 247.2h0M360.4 256.8h0M359.2 248.6h0M366.8 250.7h0M353.3 258.8h0M359.2 242.3h0M376.4 260.9h0M366.6 244.9h0M372.4 252.0h0M359.5 255.7h0M380.5 257.3h0M373.8 263.6h0M377.1 255.3h0M374.3 252.9h0M353.0 249.1h0M371.1 244.6h0M377.9 249.1h0M372.7 258.7h0M376.9 256.3h0M365.3 267.7h0M375.7 256.4h0M371.4 261.0h0M361.1 259.4h0M360.9 247.2h0M358.1 246.9h0M357.4 250.3h0M370.9 247.0h0M374.1 256.1h0M375.2 258.2h0M369.3 266.0h0M355.1 250.3h0M358.6 257.6h0M369.1 254.5h0M368.3 259.8h0M358.8 248.7h0M353.2 248.5h0M358.7 245.7h0M365.5 252.1h0M357.8 256.6h0M369.9 257.6h0M362.4 260.7h0M372.1 253.6h0M375.3 261.6h0M367.5 239.3h0M366.3 254.2h0M364.6 265.1h0M367.0 249.7h0M355.2 253.2h0M358.2 251.5h0M366.6 254.2h0M359.6 249.2h0M366.2 241.8h0M367.4 245.7h0M369.8 260.6h0M360.6 260.5h0M367.8 256.1h0M366.9 248.5h0M358.8 261.8h0M376.6 255.7h0M363.5 245.8h0M355.1 255.5h0M368.5 243.1h0M366.9 259.9h0M376.0 253.5h0M373.0 248.0h0M360.7 251.8h0M360.2 263.3h0M370.6 253.9h0M367.7 261.1h0M357.4 248.2h0M360.0 252.0h0M378.1 251.0h0M376.1 251.1h0M376.0 249.0h0M354.3 247.6h0M367.6 254.2h0M355.5 255.1h0M369.7 249.7h0M361.8 264.5h0M367.3 258.4h0M368.4 250.1h0M364.9 252.7h0M365.6 254.4h0M354.1 255.9h0M371.0 261.1h0M370.8 251.8h0M372.9 248.0h0M367.8 253.9h0M363.4 246.2h0M362.9 243.4h0M360.5 240.0h0M369.2 250.2h0M372.6 259.5h0M376.4 248.2h0M372.6 254.1h0M352.2 256.7h0M356.2 245.1h0M358.7 260.4h0M371.5 251.9h0M375.3 247.9h0M377.1 249.9h0M366.7 258.9h0M370.4 245.5h0M376.0 261.4h0M373.1 245.2h0M357.9 254.7h0M370.2 243.4h0M366.8 240.7h0M369.4 240.7h0M359.2 249.0h0M364.8 246.2h0M366.3 249.7h0M359.6 260.6h0M365.6 260.5h0M369.9 263.4h0M371.7 264.1h0M360.1 257.5h0M370.5 251.4h0M381.6 248.3h0M354.7 260.0h0M362.7 248.7h0M350.1 258.9h0M376.9 253.2h0M353.4 248.8h0M358.9 262.0h0M371.8 242.8h0M357.4 243.9h0M361.0 245.3h0M371.9 241.6h0M367.6 255.0h0M367.8 251.3h0M368.1 258.5h0M375.0 256.6h0M369.8 240.3h0M367.8 248.6h0M362.2 264.8h0M371.7 243.8h0M357.5 248.6h0M368.1 259.6h0M362.5 264.6h0M357.9 252.3h0M362.0 256.5h0M374.6 255.5h0M378.2 249.1h0M360.2 260.9h0M358.2 243.5h0M364.3 257.2h0M365.3 244.5h0M366.2 264.8h0M356.3 248.3h0M370.8 265.3h0M376.9 257.7h0M371.6 259.9h0M378.3 252.5h0M356.0 261.0h0M370.4 248.3h0M370.3 247.9h0M360.1 248.0h0M363.8 255.6h0M358.5 253.5h0M373.3 263.3h0M360.0 262.8h0M356.9 253.9h0M357.6 259.0h0M357.1 247.3h0M364.2 251.1h0M373.4 248.7h0M352.2 251.9h0M359.7 254.5h0M354.8 253.5h0M353.9 251.4h0M357.9 266.0h0M357.5 248.9h0M373.4 251.6h0M357.5 253.1h0M360.0 244.6h0M379.3 258.4h0M365.3 260.4h0M363.8 258.4h0M368.5 251.0h0M354.1 253.5h0M370.2 246.8h0M367.2 264.8h0M366.8 261.5h0M366.6 256.3h0M353.4 254.0h0M356.1 257.7h0M374.9 249.9h0M370.6 244.6h0M371.6 255.5h0M366.5 264.0h0M374.0 258.9h0M380.6 249.3h0M367.5 262.1h0M372.5 259.5h0M372.3 248.0h0M373.0 245.8h0M359.9 260.0h0M381.1 256.4h0M361.0 257.2h0M361.8 249.9h0M353.4 253.3h0M372.7 255.0h0M360.0 256.8h0M376.8 262.6h0M370.3 260.2h0M353.8 252.8h0M376.9 249.7h0M371.1 261.2h0M375.9 255.6h0M363.9 243.9h0M364.8 245.4h0M354.1 250.8h0M378.9 253.9h0M366.8 244.5h0M356.9 246.3h0M362.5 252.8h0M352.5 253.5h0M357.7 260.7h0M377.4 251.9h0M363.7 257.8h0M358.4 250.5h0M367.1 249.6h0M380.3 254.2h0M367.3 266.5h0M360.0 255.3h0M372.2 251.5h0M359.6 258.3h0M355.1 259.2h0M359.0 255.3h0M364.2 239.9h0M369.5 246.3h0M366.0 261.8h0M362.5 246.8h0M369.3 243.4h0M366.6 264.4h0M354.3 246.8h0M370.6 243.5h0M371.4 243.3h0M366.1 246.4h0M357.1 249.0h0M369.6 255.7h0M377.8 246.1h0M363.4 246.4h0M370.3 252.5h0M364.7 255.5h0M354.4 248.9h0M358.9 257.7h0M355.5 247.0h0M380.1 255.2h0M363.5 252.6h0M369.0 262.1h0M352.9 248.2h0M357.4 253.6h0M369.7 252.8h0M374.7 259.2h0M366.5 255.9h0M369.0 248.2h0M363.8 242.1h0M374.0 261.2h0M376.4 250.1h0M376.2 259.3h0M372.2 256.9h0M363.4 255.9h0M361.4 262.6h0M368.5 266.1h0M377.1 243.9h0M363.9 247.3h0M367.4 262.2h0M365.7 242.5h0M374.4 247.6h0M379.9 254.1h0M374.0 257.0h0M365.6 261.2h0M370.3 239.9h0M373.7 256.1h0M377.0 259.6h0M367.8 261.3h0M372.5 250.5h0M372.2 250.5h0M353.1 252.4h0M352.5 251.4h0M369.0 254.7h0M376.9 244.5h0M360.7 264.8h0M367.5 265.2h0M364.6 255.6h0M360.4 257.0h0M371.2 258.9h0M371.8 248.9h0M353.7 256.2h0M368.9 247.1h0M367.3 258.4h0M363.4 255.2h0M362.8 264.4h0M379.0 255.3h0M363.1 265.3h0M362.0 264.9h0M361.0 242.5h0M360.4 260.6h0M360.0 245.1h0M353.3 251.0h0M375.7 256.3h0M367.8 251.3h0M362.1 258.4h0M371.4 256.9h0M362.7 246.5h0M363.7 241.6h0M373.0 247.5h0M360.6 249.1h0M363.1 257.1h0M358.2 257.6h0M357.7 251.6h0M377.3 259.3h0M359.9 245.5h0M378.7 252.6h0M366.6 254.7h0M361.4 243.9h0M362.5 261.1h0M364.3 246.0h0M360.7 250.5h0M371.8 265.9h0M377.1 254.0h0M372.7 252.5h0M358.6 253.3h0M372.4 249.2h0M369.4 259.8h0M375.3 244.8h0M358.5 256.6h0M356.9 245.7h0M366.7 244.2h0M353.2 249.1h0M375.0 255.7h0M368.0 261.2h0M370.1 248.9h0M361.2 248.2h0M366.7 256.5h0M353.6 253.5h0M365.3 250.6h0M361.0 241.3h0M374.8 243.2h0M356.1 249.2h0M370.1 262.4h0M358.8 250.5h0M374.3 251.8h0M370.1 252.7h0M357.5 259.0h0M377.8 259.0h0M377.8 248.8h0M369.8 243.2h0M373.1 250.1h0M365.3 243.4h0M378.7 254.0h0M372.0 257.0h0M360.3 260.5h0M355.4 254.2h0M376.5 255.8h0M360.9 259.2h0M360.6 258.8h0M376.7 258.6h0M364.6 244.5h0M363.5 242.7h0M369.2 244.9h0M367.6 267.0h0M375.4 246.3h0M363.4 264.3h0M359.6 260.5h0M357.9 247.0h0M366.6 258.0h0M365.4 257.2h0M353.4 251.6h0M367.6 244.5h0M372.1 259.9h0M371.4 250.8h0M364.6 247.5h0M362.3 260.7h0M358.8 255.5h0M356.9 259.5h0M372.8 259.8h0M360.7 251.6h0M373.0 244.1h0M373.2 255.8h0M367.7 258.2h0M366.7 265.9h0M362.1 249.4h0M363.6 263.1h0M358.9 253.1h0M372.2 246.7h0M357.8 259.3h0M378.7 250.4h0M381.0 251.7h0M363.1 262.0h0M373.2 249.5h0M375.0 260.8h0M356.9 248.9h0M359.4 247.7h0M371.9 262.8h0M370.1 254.1h0M359.3 253.2h0M357.4 252.4h0M369.0 261.2h0M365.9 268.6h0M365.3 251.4h0M370.5 241.6h0M356.5 247.4h0M356.3 249.8h0M378.1 254.0h0M362.2 243.7h0M375.1 249.3h0M368.7 250.5h0M371.4 266.3h0M364.1 246.1h0M369.8 246.5h0M357.4 255.5h0M368.5 253.8h0M379.8 251.5h0M373.2 257.7h0M362.4 264.2h0M367.1 258.3h0M364.6 242.7h0M361.5 244.2h0M369.6 248.0h0M367.3 246.4h0M375.0 262.1h0M368.4 264.7h0M366.9 251.6h0M356.6 247.0h0M357.3 255.7h0M361.8 251.2h0M376.6 256.1h0M377.0 256.0h0M360.1 244.3h0M363.8 263.6h0M356.5 261.2h0M357.5 244.5h0M375.6 252.6h0M371.6 251.9h0M368.6 247.3h0M362.9 261.0h0M363.0 261.9h0M367.4 252.6h0M373.2 258.8h0M362.0 257.0h0M358.9 253.5h0M359.9 252.6h0M368.9 264.6h0M363.8 251.9h0M376.5 256.7h0M362.4 243.9h0M369.9 247.8h0M364.2 263.9h0M370.2 246.1h0M360.9 264.3h0M363.3 245.2h0M361.5 265.1h0M373.1 261.8h0M363.6 246.7h0M369.9 258.9h0M360.7 248.7h0M361.6 248.5h0M377.3 256.6h0M369.1 240.7h0M372.3 248.9h0M358.2 263.9h0M370.2 249.6h0M359.3 264.0h0M362.6 253.6h0M358.6 243.6h0M357.6 253.8h0M371.2 250.5h0M362.6 241.6h0M372.5 256.4h0M371.7 263.5h0M365.8 250.1h0M372.7 250.8h0M369.2 265.8h0M378.8 257.1h0M376.8 258.0h0M357.5 260.1h0M370.4 254.1h0M357.6 265.5h0M356.0 244.7h0M354.0 257.3h0M378.0 252.9h0M371.2 251.7h0M378.9 256.3h0M379.6 250.1h0M364.2 240.1h0M377.6 247.9h0M373.2 258.4h0M352.8 259.1h0M353.9 244.5h0M363.7 244.7h0M357.6 251.3h0M367.9 245.4h0M368.8 249.9h0M354.4 255.9h0M370.7 263.8h0M372.8 260.4h0M369.0 259.0h0M366.5 253.1h0M353.8 254.8h0M379.1 252.5h0M377.7 247.7h0M359.7 253.4h0M357.0 248.3h0M351.3 256.6h0M375.0 254.8h0M367.8 251.6h0M355.9 244.8h0M360.9 252.0h0M375.2 248.9h0M376.6 253.1h0M370.3 253.0h0M363.2 258.2h0M355.4 245.3h0M368.3 246.4h0M368.5 256.9h0M368.0 247.2h0M376.6 244.1h0M357.3 260.0h0M366.6 255.8h0M374.3 257.5h0M381.0 252.6h0M360.6 253.7h0M377.8 262.5h0M357.1 250.3h0M362.7 262.5h0M373.3 251.5h0M370.3 257.5h0M363.5 255.1h0M374.5 248.6h0M366.5 251.9h0M370.3 257.1h0M374.7 249.4h0M360.5 259.2h0M364.5 249.4h0M363.8 252.5h0M360.9 252.1h0M363.8 261.8h0M367.5 243.6h0M355.0 261.2h0M377.8 252.1h0M353.4 252.6h0M373.1 260.7h0M357.4 245.9h0M368.4 262.5h0M379.0 259.3h0M363.9 267.3h0M367.5 242.6h0M359.7 255.5h0M359.4 261.3h0M374.8 258.6h0M361.5 261.2h0M364.8 249.9h0M373.9 250.8h0M372.6 260.7h0M369.2 254.1h0M355.7 252.7h0M358.1 245.9h0M365.3 253.2h0M371.8 260.4h0M368.2 248.9h0M363.8 259.0h0M359.9 247.8h0M370.9 246.8h0M367.1 238.9h0M360.7 243.7h0M366.9 267.9h0M365.8 253.7h0M370.5 265.8h0M356.1 261.3h0M372.2 260.6h0M355.1 250.9h0M369.8 252.6h0M356.4 247.7h0M362.5 246.2h0M366.9 243.6h0M363.0 240.5h0M363.9 263.3h0M375.0 245.7h0M358.7 259.0h0M374.3 256.9h0M362.6 243.0h0M361.6 243.2h0M370.0 249.8h0M367.7 254.4h0M359.8 251.9h0M363.4 246.5h0M373.2 247.7h0M351.7 250.2h0M356.0 244.6h0M375.0 260.6h0M375.3 258.4h0M357.6 252.4h0M354.6 242.9h0M356.3 260.8h0M361.6 251.5h0M367.1 258.2h0M353.2 251.8h0M365.2 240.8h0M361.4 261.7h0M367.2 250.4h0M352.7 256.2h0M375.5 258.1h0M360.8 250.9h0M360.3 260.1h0M364.7 265.6h0M361.3 242.1h0M352.8 255.5h0M363.9 252.3h0M370.2 255.8h0M365.8 240.0h0M357.3 257.0h0M350.9 255.9h0M356.7 258.8h0M359.0 253.0h0M362.9 247.3h0M372.1 255.2h0M373.5 259.9h0M374.0 243.8h0M373.6 253.9h0M354.1 261.3h0M350.7 254.2h0M361.5 264.9h0M362.9 258.5h0M372.1 254.3h0M367.1 251.5h0M354.6 248.9h0M368.8 251.1h0M355.7 264.9h0M354.6 250.9h0M377.6 257.0h0M363.5 259.2h0M356.3 253.4h0M356.7 248.9h0M365.3 241.9h0M358.3 244.5h0M376.6 246.5h0M364.7 263.7h0M359.2 260.4h0M374.4 251.6h0M356.5 252.4h0M368.3 250.3h0M359.4 252.7h0M365.0 243.6h0M359.1 258.6h0M373.6 254.6h0M363.4 245.8h0M369.6 250.1h0M366.9 247.1h0M368.0 241.3h0M352.3 246.8h0M370.4 267.6h0M359.7 248.0h0M376.7 247.7h0M370.7 262.8h0M373.4 257.2h0M359.4 250.2h0M363.3 248.9h0M368.9 259.9h0M358.0 259.2h0M371.8 265.8h0M372.9 260.6h0M354.9 251.9h0M377.0 251.2h0M365.2 266.0h0M362.2 248.8h0M373.6 251.6h0M369.5 256.7h0M368.8 242.0h0M364.3 258.6h0M365.8 260.0h0M371.1 242.2h0M357.5 242.4h0M370.7 251.2h0M363.5 242.4h0M371.1 264.1h0M359.2 254.3h0M361.8 262.4h0M376.5 258.3h0M375.8 243.7h0M359.6 252.5h0M371.7 249.2h0M374.6 248.5h0M369.4 259.7h0M363.9 262.9h0M363.6 262.4h0M371.9 245.2h0M368.0 245.6h0M372.9 247.4h0M368.7 247.1h0M373.4 246.3h0M360.5 256.3h0M370.6 246.9h0M356.7 246.9h0M362.5 252.7h0M357.6 261.1h0M360.9 264.0h0M356.0 255.2h0M360.0 257.0h0M371.6 260.0h0M375.5 246.2h0M376.7 247.1h0M360.8 242.6h0M370.2 261.2h0M364.7 251.8h0M370.1 253.1h0M361.7 255.1h0M368.7 255.4h0M369.3 258.2h0M361.4 239.8h0M368.6 261.2h0M364.7 259.2h0M375.8 257.6h0M374.9 257.7h0M371.4 246.2h0M371.8 263.3h0M376.1 258.9h0M375.0 256.0h0M358.6 249.8h0M376.4 250.9h0M364.0 258.7h0M357.1 253.2h0M363.6 261.8h0M354.1 250.0h0M358.6 248.3h0M353.2 252.7h0M369.1 239.9h0M369.7 259.0h0M374.1 250.9h0M357.1 254.7h0M374.5 261.5h0M356.7 254.6h0M377.0 252.5h0M369.8 256.6h0M366.0 250.6h0M369.3 265.9h0M374.9 252.7h0M367.1 256.6h0M363.5 245.1h0M359.8 263.2h0M370.7 253.7h0M356.3 246.3h0M373.8 255.4h0M367.0 243.7h0M375.0 246.5h0M373.4 263.2h0M359.2 246.1h0M375.4 247.1h0M377.7 248.0h0M373.7 242.5h0M353.4 253.9h0M360.4 260.0h0M357.3 247.9h0M360.7 250.7h0M355.0 251.9h0M357.0 251.5h0M359.7 248.8h0M362.6 258.3h0M369.2 254.8h0M357.3 255.4h0M364.7 251.8h0M362.7 256.7h0M353.1 256.0h0M372.4 250.0h0M370.3 251.1h0M362.4 251.6h0M363.8 249.5h0M360.8 252.2h0M359.1 253.0h0M369.3 249.2h0M364.9 249.6h0M357.9 253.2h0M362.4 258.2h0M367.6 253.8h0M360.5 260.0h0M357.1 249.5h0M367.7 255.3h0M367.1 252.2h0M367.7 259.1h0M353.9 255.9h0M368.9 248.2h0M358.9 255.1h0M367.1 253.2h0M355.4 254.3h0M363.3 251.4h0M369.2 242.8h0M364.4 250.3h0M366.9 251.7h0M372.9 254.2h0M361.1 245.3h0M362.5 253.0h0M372.1 255.1h0M364.8 248.8h0M365.0 248.5h0M356.6 255.4h0M361.6 246.7h0M369.8 259.2h0M366.2 245.2h0M359.5 248.5h0M365.2 269.9h0M368.6 252.7h0M359.5 246.4h0M360.1 254.1h0M362.6 255.7h0M366.6 247.7h0M368.2 253.4h0M372.3 252.6h0M362.1 252.7h0M370.3 255.8h0M370.0 258.3h0M365.6 264.6h0M363.5 252.1h0M369.7 247.6h0M365.6 258.1h0M359.3 244.0h0M356.6 258.8h0M376.9 248.9h0M357.2 247.1h0M372.1 257.0h0M367.5 249.7h0M367.4 249.6h0M366.9 249.5h0M357.4 251.0h0M366.1 254.8h0M361.2 257.7h0M355.7 243.6h0M367.1 252.5h0M363.8 251.0h0M366.8 254.3h0M371.2 248.6h0M357.5 252.6h0M362.7 251.7h0M352.8 255.0h0M372.8 255.0h0M370.5 256.1h0M365.4 255.2h0M369.8 255.5h0M367.5 252.9h0M360.2 254.9h0M362.0 256.0h0M352.5 261.9h0M371.0 260.7h0M366.2 248.1h0M362.0 247.5h0M366.3 253.3h0M365.0 244.1h0M356.3 242.5h0M371.5 255.7h0M364.4 251.5h0M354.8 251.4h0M362.0 249.1h0M369.4 243.3h0M365.0 257.2h0M368.4 245.8h0M349.5 260.0h0M371.7 252.4h0M362.8 254.9h0M369.9 253.8h0M362.4 254.3h0M366.2 263.3h0M364.4 248.7h0M374.4 260.6h0M372.1 248.6h0M361.1 246.5h0M363.6 259.7h0M369.3 253.5h0M365.5 255.6h0M363.6 248.1h0M360.6 261.4h0M359.4 247.6h0M367.3 251.6h0M362.5 254.0h0M363.6 245.1h0M369.3 254.3h0M373.5 257.4h0M361.3 251.1h0M360.6 242.4h0M368.3 249.9h0M369.6 254.1h0M363.8 261.2h0M359.4 261.9h0M362.4 263.8h0M370.6 250.7h0M373.8 255.3h0M366.3 251.3h0M364.2 251.2h0M362.6 257.2h0M368.8 259.4h0M370.9 252.9h0M368.5 252.0h0M367.5 256.3h0M366.5 249.4h0M358.2 261.7h0M360.3 250.2h0M366.6 251.4h0M366.8 260.0h0M356.3 253.7h0M367.7 246.4h0M368.4 260.5h0M364.7 255.6h0M363.0 258.1h0M361.8 253.3h0M361.0 249.8h0M370.7 253.0h0M369.3 245.5h0M358.2 248.9h0M374.7 259.0h0M376.4 251.1h0M367.8 255.1h0M363.2 256.2h0M364.4 255.7h0M355.1 248.2h0M359.3 261.6h0M369.2 248.6h0M367.2 250.5h0M358.6 248.8h0M380.4 253.8h0M364.1 259.4h0M366.0 247.9h0M376.0 264.1h0M368.8 249.1h0M364.2 253.9h0M358.7 266.3h0M364.6 250.6h0M363.1 251.7h0M351.2 254.0h0M370.8 254.4h0M366.9 252.9h0M355.3 256.2h0M368.2 248.2h0M358.6 250.4h0M357.5 241.1h0M362.4 250.4h0M365.2 259.2h0M359.7 245.7h0M364.0 256.6h0M372.2 257.9h0M365.3 253.5h0M355.4 256.7h0M368.7 252.9h0M363.0 255.3h0M366.9 255.8h0M366.8 245.8h0M361.6 245.2h0M368.8 266.0h0M360.3 252.6h0M365.9 249.8h0M373.6 254.3h0M376.0 264.5h0M367.1 249.6h0M371.6 252.0h0M360.3 252.3h0M370.5 249.4h0M363.3 257.6h0M363.0 257.7h0M371.0 250.9h0M358.3 247.5h0M371.3 256.0h0M365.0 251.4h0M370.2 251.0h0M379.0 254.9h0M356.0 258.5h0M365.9 253.2h0M363.6 259.1h0M361.9 260.9h0M360.5 257.7h0M356.6 258.0h0M359.4 252.1h0M368.5 249.5h0M367.4 253.3h0M371.4 257.7h0M365.8 252.4h0M359.7 260.2h0M363.3 247.1h0M360.3 244.1h0M359.9 251.1h0M365.8 257.7h0M368.9 244.4h0M361.9 256.2h0M366.3 253.2h0M360.3 256.7h0M364.0 252.0h0M363.9 252.1h0M366.1 258.6h0M364.8 250.1h0M363.8 252.5h0M367.1 257.0h0M373.2 257.6h0M355.5 249.1h0M357.8 254.7h0M376.9 255.5h0M361.5 260.0h0M367.7 249.3h0M359.3 260.4h0M368.5 243.1h0M360.5 256.0h0M357.2 253.2h0M359.8 245.1h0M361.7 250.6h0M365.9 244.9h0M365.8 251.4h0M355.9 259.1h0M362.0 255.3h0M372.7 255.2h0M369.4 254.3h0M361.3 254.2h0M356.0 255.6h0M368.8 255.3h0M360.8 247.4h0M360.4 251.8h0M356.8 262.6h0M360.1 253.9h0M361.9 253.9h0M352.9 248.2h0M364.2 253.0h0M366.5 250.6h0M368.7 254.3h0M364.1 253.3h0M370.0 253.1h0M372.7 253.8h0M365.7 253.2h0M365.9 255.5h0M361.0 257.1h0M378.1 255.9h0M365.0 249.3h0M360.3 249.2h0M365.8 249.9h0M372.9 251.2h0M359.6 248.8h0M363.8 252.5h0M369.3 249.7h0M366.1 257.9h0M362.8 244.8h0M365.6 258.2h0M366.4 253.3h0M354.0 261.1h0M363.3 247.4h0M362.5 254.0h0M364.6 248.8h0M377.2 259.3h0M369.7 256.3h0M362.2 247.5h0M357.5 258.4h0M364.8 261.2h0M352.2 259.7h0M366.8 250.6h0M369.1 250.0h0M362.8 255.8h0M365.2 254.6h0M365.5 258.3h0M359.8 243.5h0M359.4 241.5h0M374.7 250.0h0M364.1 254.8h0M360.2 250.8h0M365.7 253.3h0M368.6 252.0h0M360.7 246.1h0M355.3 254.5h0M366.0 251.2h0M370.8 240.1h0M367.8 247.4h0M362.5 252.1h0M360.3 251.8h0M365.8 264.9h0M364.3 256.7h0M368.7 248.6h0M366.9 251.2h0M369.1 250.4h0M370.1 248.9h0M361.8 257.4h0M369.8 257.5h0M375.0 258.2h0M364.3 257.8h0M359.9 257.2h0M366.4 252.5h0M360.4 258.4h0M353.6 252.4h0M356.7 251.5h0M362.0 249.2h0M361.0 254.6h0M374.9 261.7h0M363.3 251.2h0M367.6 249.1h0M356.3 258.0h0M362.1 260.7h0M366.1 246.1h0M365.9 255.6h0M364.6 246.6h0M356.2 262.3h0M349.3 248.5h0M368.6 262.0h0M367.8 253.1h0M366.3 258.8h0M361.5 259.4h0M365.6 254.2h0M366.7 254.8h0M359.4 260.8h0M361.7 251.9h0M351.7 245.2h0M367.3 252.8h0M363.8 251.4h0M367.6 250.0h0M356.4 245.3h0M360.0 254.8h0M372.0 256.0h0M360.7 246.7h0M368.7 255.7h0M364.0 256.3h0M367.5 255.7h0M371.4 245.7h0M360.8 250.6h0M359.0 262.9h0M366.2 255.3h0M368.6 252.1h0M368.8 252.2h0M368.3 256.0h0M371.3 245.8h0M359.4 249.5h0M359.9 255.1h0M369.5 251.5h0M370.1 257.6h0M361.2 256.5h0M372.0 250.9h0M352.6 255.9h0M365.9 256.3h0M367.1 253.0h0M364.3 249.3h0M374.8 260.8h0M363.6 249.1h0M366.7 261.1h0M364.6 249.2h0M369.4 254.5h0M360.1 252.2h0M365.2 247.8h0M365.9 259.5h0M370.0 259.4h0M368.4 252.8h0M367.7 259.3h0M364.6 255.8h0M361.0 253.3h0M361.8 248.0h0M366.5 264.2h0M355.3 250.9h0M365.4 249.7h0M365.3 257.5h0M355.7 252.8h0M367.5 256.1h0M374.1 254.3h0M371.0 250.5h0M359.6 250.7h0M362.1 257.7h0M368.4 253.4h0M359.6 254.0h0M362.2 251.5h0M355.2 261.0h0M367.5 267.9h0M378.7 253.6h0M376.3 251.3h0M379.3 253.1h0M354.6 253.3h0M368.7 261.8h0M369.7 262.1h0M365.4 245.9h0M365.3 249.0h0M368.9 242.9h0M359.2 247.6h0M365.0 258.4h0M362.8 246.9h0M361.7 252.6h0M370.7 253.9h0M371.9 239.3h0M374.0 264.2h0M361.7 266.7h0M356.2 258.0h0M357.5 250.3h0M367.2 254.5h0M366.0 252.4h0M354.6 245.3h0M359.9 248.4h0M362.0 244.9h0M363.8 255.8h0M361.8 260.0h0M365.6 258.0h0M359.7 254.4h0M356.8 244.0h0M355.1 251.4h0M365.7 263.9h0M366.1 251.5h0M370.1 253.9h0M364.5 254.0h0M369.7 261.3h0M356.8 253.9h0M361.9 253.4h0M377.2 252.2h0M351.2 257.7h0M361.9 248.8h0M376.4 263.3h0M370.0 254.6h0M360.6 260.6h0M363.1 254.5h0M363.5 254.2h0M353.8 247.3h0M357.5 242.5h0M358.2 250.9h0M363.4 252.9h0M362.1 258.6h0M353.3 250.7h0M363.2 249.0h0M371.9 252.8h0M370.4 256.1h0M363.0 258.3h0M356.6 247.2h0M362.3 241.4h0M362.1 252.3h0M355.0 248.2h0M357.4 265.2h0M371.2 256.4h0M365.6 260.0h0M365.0 259.5h0M369.2 263.9h0M370.2 250.5h0M367.8 258.9h0M368.0 264.3h0M366.0 251.3h0M369.2 259.1h0M364.4 255.9h0M365.2 254.6h0M366.4 251.4h0M368.4 255.2h0M373.8 254.8h0M365.1 247.3h0M376.7 252.2h0M361.7 252.0h0M364.5 252.8h0M373.6 250.9h0M363.2 251.1h0M371.2 240.8h0M374.5 250.4h0M353.7 264.1h0M354.6 258.4h0M366.1 248.1h0M351.7 247.8h0M372.5 252.6h0M361.0 260.3h0M366.3 253.6h0M358.5 242.7h0M362.0 255.2h0M362.4 255.4h0M363.7 251.2h0M365.6 255.7h0M346.7 253.0h0M364.2 249.7h0M374.3 261.7h0M375.8 258.5h0M369.8 254.0h0M372.4 248.1h0M364.8 255.4h0M364.7 243.7h0M365.1 249.9h0M360.4 257.6h0M375.2 253.6h0M356.0 251.7h0M364.3 245.1h0M360.7 254.0h0M360.8 256.3h0M354.7 257.8h0M359.9 253.9h0M366.1 249.2h0M374.9 239.7h0M367.6 257.7h0M363.8 252.5h0M356.0 252.6h0M367.3 248.5h0M366.0 250.2h0M357.1 252.3h0M359.1 259.4h0M359.1 263.3h0M365.7 252.7h0M359.5 256.1h0M357.0 241.4h0M369.5 237.4h0M375.7 248.9h0M379.4 254.6h0M380.0 242.1h0M362.0 254.8h0M361.0 253.4h0M364.5 257.7h0M378.2 236.9h0M371.3 244.3h0M379.9 241.9h0M358.6 256.6h0M364.3 257.9h0M369.0 247.2h0M351.7 261.4h0M364.0 252.0h0M363.2 250.9h0M359.5 253.2h0M368.0 243.6h0M352.2 256.9h0M373.4 248.8h0M364.4 249.1h0M369.3 252.3h0M361.0 247.2h0M369.7 255.5h0M362.1 255.7h0M367.3 237.9h0M360.8 254.5h0M376.8 255.7h0M355.1 259.3h0M363.4 258.9h0M353.7 240.8h0M352.0 257.1h0M376.1 254.6h0M367.4 252.0h0M367.5 245.3h0M376.5 258.7h0M374.2 252.2h0M373.1 260.0h0M387.7 260.7h0M359.3 246.9h0M373.4 256.4h0M370.6 253.2h0M358.8 253.9h0M353.2 254.9h0M385.7 258.1h0M358.4 246.4h0M386.8 257.6h0M361.4 257.1h0M363.0 245.0h0M367.1 256.5h0M377.2 243.6h0M378.8 251.0h0M348.5 260.1h0M374.6 256.7h0M373.1 246.2h0M370.4 240.8h0M360.1 271.4h0M380.4 255.7h0M370.3 253.5h0M371.4 254.3h0M357.7 250.2h0M349.1 246.4h0M364.4 255.6h0M385.4 240.9h0M384.3 249.7h0M362.1 252.2h0M385.1 244.9h0M362.6 256.8h0M374.3 255.7h0M366.9 260.1h0M357.3 264.4h0M361.6 255.6h0M357.8 248.3h0M374.6 257.0h0M364.3 258.8h0M394.2 234.9h0M347.9 254.2h0M350.9 260.3h0M358.7 252.8h0M358.6 268.0h0M379.3 240.4h0M371.7 250.6h0M378.8 255.3h0M359.4 249.7h0M366.4 265.3h0M366.8 249.0h0M362.4 259.1h0M363.2 265.7h0M373.7 254.0h0M366.9 250.4h0M379.2 251.4h0M368.4 243.0h0M364.2 254.2h0M365.3 253.3h0M374.7 258.1h0M372.9 248.6h0M361.4 252.9h0M351.9 242.3h0M368.9 252.9h0M366.7 261.6h0M347.1 255.9h0M363.9 243.3h0M371.8 263.2h0M352.9 253.2h0M374.5 253.2h0M362.0 260.0h0M350.9 252.6h0M360.2 252.4h0M354.9 254.2h0M376.9 256.2h0M354.6 249.1h0M359.3 242.0h0M372.4 256.6h0M364.4 263.7h0M372.3 248.6h0M366.3 251.9h0M365.9 262.6h0M377.1 245.8h0M383.3 241.2h0M363.6 270.8h0M372.0 261.5h0M367.2 256.7h0M360.2 263.7h0M364.2 249.1h0M352.9 269.0h0M352.9 245.5h0M370.3 253.2h0M381.3 257.6h0M368.9 247.2h0M370.8 242.4h0M359.3 263.1h0M368.4 244.5h0M360.4 252.0h0M368.8 254.4h0M373.2 231.2h0M372.4 239.2h0M362.0 253.9h0M375.3 248.4h0M354.3 246.9h0M368.3 270.6h0M355.1 249.2h0M359.8 261.3h0M371.0 251.8h0M368.7 264.6h0M363.5 244.7h0M366.2 244.0h0M368.0 259.4h0M362.8 259.8h0M376.7 266.5h0M362.9 257.3h0M373.2 259.0h0M374.4 256.6h0M372.2 259.8h0M370.4 257.3h0M368.6 252.6h0M350.1 252.5h0M366.4 249.0h0M362.1 262.3h0M363.8 236.5h0M361.4 252.2h0M376.9 255.3h0M370.7 249.1h0M361.1 241.5h0M371.6 253.3h0M359.8 253.5h0M375.8 259.9h0M373.1 261.6h0M368.2 253.1h0M366.1 256.7h0M351.2 255.2h0M366.4 246.7h0M361.2 261.6h0M362.7 252.4h0M379.1 246.0h0M365.7 250.0h0M361.6 251.8h0M370.9 251.1h0M374.3 258.5h0M356.7 253.5h0M364.5 243.7h0M350.5 260.5h0M368.7 262.1h0M379.8 258.8h0M369.3 262.5h0M364.9 250.2h0M374.6 257.9h0M361.6 250.1h0M355.0 268.4h0M362.8 249.5h0M360.9 249.3h0M367.2 253.4h0M373.0 234.9h0M367.3 265.3h0M366.5 248.8h0M383.5 249.4h0M372.1 254.8h0M364.8 245.8h0M367.5 254.6h0M381.9 242.1h0M352.6 257.2h0M353.0 232.4h0M363.2 261.4h0M350.1 242.1h0M379.0 246.7h0M358.3 251.9h0M380.0 251.7h0M372.8 251.9h0M356.7 255.0h0M350.3 260.6h0M352.0 254.1h0M347.4 252.3h0M369.6 247.7h0M383.0 253.0h0M369.9 242.4h0M400.9 263.9h0M408.6 245.2h0M408.0 249.2h0M410.9 255.9h0M410.0 260.5h0M409.7 257.8h0M398.7 248.4h0M407.3 255.4h0M408.7 241.7h0M408.1 246.6h0M403.4 260.8h0M403.9 241.9h0M400.3 262.6h0M398.0 253.5h0M404.8 257.5h0M398.2 259.2h0M410.7 247.4h0M408.3 252.6h0M406.1 242.7h0M409.3 267.8h0M403.5 264.7h0M401.8 247.2h0M397.1 262.6h0M401.1 267.2h0M401.0 255.2h0M413.1 257.1h0M401.2 251.2h0M406.3 260.2h0M409.9 256.1h0M407.5 254.6h0M401.6 267.7h0M404.4 258.1h0M410.4 251.3h0M402.4 270.0h0M401.1 264.4h0M405.2 252.3h0M399.3 258.2h0M400.6 261.9h0M399.3 257.3h0M406.9 239.4h0M409.7 259.5h0M400.6 240.9h0M403.2 253.2h0M403.2 252.0h0M405.9 242.5h0M412.1 255.2h0M402.3 262.5h0M407.5 244.8h0M410.3 253.2h0M405.5 261.5h0M412.3 254.7h0M406.5 269.9h0M405.0 243.8h0M400.7 258.8h0M411.2 251.4h0M410.7 250.0h0M406.7 266.6h0M406.7 262.7h0M406.7 242.3h0M397.3 254.3h0M410.0 266.4h0M404.5 248.6h0M402.7 240.6h0M403.4 269.0h0M409.2 259.0h0M399.5 250.7h0M401.6 243.1h0M401.5 244.7h0M404.8 237.4h0M402.3 261.1h0M405.1 251.4h0M406.7 243.9h0M406.8 241.3h0M405.5 242.9h0M408.5 259.5h0M408.6 250.2h0M408.5 267.5h0M408.6 260.7h0M401.3 268.5h0M400.1 262.8h0M400.4 241.5h0M407.6 258.9h0M405.9 260.3h0M403.6 256.4h0M402.7 252.7h0M403.3 263.5h0M406.3 263.6h0M400.0 244.6h0M397.6 246.6h0M405.4 253.0h0M409.2 261.6h0M406.3 252.0h0M399.6 255.9h0M400.2 261.2h0M409.0 257.7h0M402.7 242.0h0M411.4 252.7h0M406.6 247.3h0M396.8 253.9h0M403.4 266.7h0M398.9 246.6h0M404.0 266.1h0M398.4 243.9h0M408.0 270.5h0M401.0 269.6h0M406.3 250.8h0M398.2 260.3h0M408.7 266.8h0M405.0 263.5h0M407.4 256.8h0M408.2 264.1h0M400.6 246.9h0M402.9 252.4h0M400.0 263.7h0M398.8 254.0h0M402.8 257.9h0M402.3 256.5h0M398.5 262.0h0M404.2 257.6h0M405.7 271.1h0M397.7 262.6h0M407.1 265.4h0M396.2 254.1h0M410.9 263.8h0M404.2 260.9h0M404.6 245.8h0M407.4 266.1h0M404.2 255.7h0M406.9 262.9h0M409.7 264.7h0M401.1 244.4h0M402.0 248.4h0M406.6 253.6h0M398.3 258.4h0M397.7 255.6h0M405.6 262.6h0M401.0 249.1h0M404.5 251.5h0M404.1 248.3h0M402.8 249.7h0M400.4 247.6h0M398.9 254.9h0M400.3 246.7h0M405.3 263.8h0M398.7 260.4h0M397.8 262.9h0M401.6 262.0h0M411.3 258.5h0M406.9 256.5h0M399.7 247.0h0M403.4 253.1h0M401.9 249.5h0M412.4 257.4h0M404.5 245.4h0M400.0 259.0h0M404.2 247.8h0M399.4 252.0h0M407.1 243.6h0M404.8 243.1h0M409.5 263.1h0M404.1 239.8h0M401.8 250.1h0M403.9 251.4h0M405.1 244.4h0M403.6 261.8h0M411.1 248.1h0M403.4 241.7h0M403.1 243.0h0M410.0 250.9h0M404.1 245.0h0M409.8 264.2h0M409.7 261.2h0M400.5 268.5h0M405.4 268.5h0M400.9 254.9h0M403.2 263.6h0M406.3 271.3h0M400.7 245.6h0M408.8 262.9h0M402.1 251.8h0M404.2 260.1h0M410.8 252.2h0M403.0 265.3h0M409.4 266.8h0M400.3 261.0h0M407.1 255.7h0M403.7 244.7h0M399.4 253.1h0M403.1 249.5h0M408.4 251.8h0M404.8 259.7h0M405.5 260.2h0M410.0 245.9h0M405.2 242.3h0M399.2 246.8h0M402.9 251.8h0M397.5 255.7h0M403.2 266.8h0M403.0 263.3h0M403.6 246.4h0M399.0 269.6h0M401.6 243.5h0M398.1 243.7h0M409.6 255.5h0M402.8 269.0h0M410.4 260.1h0M402.0 269.6h0M398.7 247.3h0M405.9 263.2h0M406.6 253.6h0M407.0 258.3h0M406.2 242.4h0M400.3 242.6h0M402.9 238.5h0M404.5 257.1h0M402.6 245.3h0M401.6 263.1h0M408.8 261.1h0M400.1 253.8h0M401.8 247.7h0M407.3 252.0h0M401.3 254.8h0M405.5 268.5h0M409.2 255.2h0M407.2 253.5h0M410.6 264.5h0M405.7 258.3h0M409.0 250.1h0M400.6 247.4h0M397.5 246.2h0M400.7 249.1h0M407.9 260.5h0M399.7 265.8h0M403.3 247.2h0M405.2 256.6h0M399.2 262.3h0M401.2 266.0h0M410.4 253.6h0M404.3 243.1h0M408.8 258.0h0M401.6 270.2h0M398.2 261.7h0M403.8 243.4h0M409.7 246.1h0M402.6 255.5h0M408.4 254.1h0M403.9 239.8h0M408.2 256.9h0M396.6 250.5h0M408.7 261.4h0M409.6 261.5h0M403.8 263.4h0M398.7 255.6h0M401.0 253.5h0M403.2 254.7h0M403.1 254.7h0M407.5 241.5h0M406.6 239.8h0M400.5 246.5h0M402.5 249.3h0M402.6 250.6h0M400.4 249.9h0M411.4 259.0h0M404.8 259.2h0M405.4 255.8h0M397.5 258.8h0M411.3 248.6h0M402.9 270.3h0M396.9 255.8h0M407.5 248.5h0M404.3 242.8h0M411.3 261.3h0M397.7 251.1h0M399.1 243.6h0M408.6 242.2h0M408.1 262.3h0M409.9 256.6h0M408.1 268.8h0M402.2 254.1h0M401.3 260.7h0M408.0 246.5h0M401.3 265.2h0M406.7 255.8h0M402.0 246.1h0M404.3 245.2h0M405.9 248.8h0M406.0 264.7h0M408.9 248.5h0M401.2 263.8h0M406.4 241.3h0M402.0 247.8h0M406.1 252.8h0M404.3 250.4h0M399.3 265.3h0M397.9 251.1h0M402.0 267.8h0M406.2 263.0h0M406.0 255.6h0M406.5 261.4h0M408.4 241.8h0M409.9 256.3h0M401.9 251.0h0M402.3 244.9h0M397.4 255.2h0M406.3 264.5h0M404.6 249.9h0M408.1 266.5h0M402.2 262.6h0M403.8 243.2h0M403.2 242.7h0M403.8 243.4h0M400.1 247.5h0M406.7 245.5h0M410.7 260.0h0M403.0 263.0h0M408.5 259.0h0M403.0 254.0h0M405.8 253.9h0M403.0 239.2h0M404.5 260.8h0M405.2 248.3h0M408.6 256.5h0M403.6 260.0h0M397.1 256.9h0M407.9 254.5h0M410.2 263.0h0M408.2 268.7h0M406.6 243.0h0M408.1 269.8h0M409.0 243.4h0M398.3 248.4h0M403.3 238.4h0M407.2 245.2h0M408.0 247.9h0M402.1 247.8h0M409.6 255.8h0M409.1 258.1h0M400.4 263.3h0M398.5 247.6h0M405.9 240.9h0M411.6 258.9h0M410.1 259.5h0M400.5 260.6h0M405.1 246.9h0M406.7 263.6h0M405.1 253.5h0M397.4 253.0h0M404.9 259.1h0M398.4 263.5h0M405.1 237.6h0M400.9 246.9h0M402.7 255.4h0M406.7 252.2h0M402.6 259.9h0M406.0 241.6h0M404.3 248.8h0M397.3 254.1h0M406.1 261.2h0M398.9 253.9h0M400.2 253.9h0M401.3 241.8h0M409.6 266.1h0M407.2 271.3h0M400.8 267.4h0M401.2 247.9h0M403.1 261.9h0M401.0 243.4h0M406.5 248.2h0M399.0 249.6h0M400.8 260.4h0M398.1 263.1h0M403.2 247.1h0M401.2 258.8h0M409.6 253.4h0M408.0 265.3h0M409.8 247.3h0M402.3 254.3h0M408.5 268.0h0M399.0 246.6h0M411.7 248.8h0M405.6 241.6h0M399.8 248.6h0M404.1 264.8h0M404.5 254.7h0M404.0 263.4h0M408.2 260.7h0M405.3 267.3h0M408.6 249.5h0M402.0 261.7h0M399.7 254.2h0M407.2 249.4h0M400.2 250.1h0M405.1 260.0h0M406.3 255.2h0M401.4 260.0h0M396.6 247.9h0M397.1 251.1h0M404.1 253.9h0M406.5 247.2h0M407.2 252.5h0M411.2 255.5h0M398.8 261.3h0M411.0 253.8h0M403.7 256.7h0M405.3 241.3h0M397.4 256.0h0M407.8 243.3h0M405.0 251.9h0M402.5 254.4h0M402.7 269.4h0M399.0 250.8h0M409.6 253.2h0M406.1 256.0h0M399.7 267.3h0M403.8 247.9h0M404.1 242.2h0M411.0 263.7h0M401.1 266.4h0M400.1 260.2h0M400.8 240.8h0M399.0 262.5h0M398.3 268.8h0M404.0 246.1h0M410.6 258.4h0M402.6 260.2h0M399.6 260.1h0M405.1 254.5h0M398.3 247.1h0M410.2 254.5h0M398.7 250.4h0M398.5 253.6h0M406.1 262.8h0M400.3 252.5h0M400.8 266.6h0M405.8 264.7h0M403.7 252.1h0M410.3 261.7h0M406.2 246.7h0M407.1 250.6h0M403.5 253.9h0M400.6 259.3h0M397.5 258.9h0M399.1 248.3h0M411.4 253.6h0M407.9 261.3h0M400.9 251.4h0M398.5 249.0h0M411.0 247.8h0M405.3 245.9h0M408.2 246.3h0M404.8 259.2h0M408.4 245.9h0M399.3 265.8h0M409.1 260.6h0M401.1 243.2h0M403.0 258.2h0M404.7 248.7h0M404.3 252.4h0M405.6 257.0h0M406.4 242.5h0M405.2 251.7h0M397.8 257.1h0M399.3 248.0h0M409.8 260.7h0M400.1 247.5h0M401.7 262.7h0M405.5 254.9h0M400.6 261.2h0M408.0 259.5h0M408.5 250.1h0M406.9 260.3h0M400.9 267.1h0M399.1 258.9h0M398.1 249.1h0M406.2 257.4h0M408.2 251.2h0M409.2 265.4h0M404.7 258.6h0M412.2 258.9h0M404.7 254.7h0M408.8 266.7h0M404.8 240.5h0M407.9 257.3h0M407.8 267.6h0M405.9 242.6h0M403.7 261.4h0M407.1 246.7h0M399.0 242.5h0M402.6 243.6h0M407.0 252.1h0M398.6 246.6h0M401.7 246.2h0M405.7 252.0h0M405.7 251.4h0M401.7 271.5h0M405.0 248.7h0M404.2 269.4h0M411.4 261.3h0M398.0 253.6h0M404.6 248.7h0M408.6 266.4h0M399.4 251.7h0M398.0 251.4h0M410.2 251.5h0M409.6 264.2h0M405.2 261.3h0M399.1 253.5h0M409.5 244.7h0M396.6 255.3h0M406.1 254.2h0M404.0 242.3h0M405.4 268.6h0M402.3 254.0h0M399.9 265.2h0M412.2 259.0h0M404.1 245.2h0M399.7 255.1h0M398.5 265.4h0M402.1 254.6h0M411.3 251.8h0M400.4 244.0h0M399.9 261.4h0M403.8 245.4h0M400.9 266.1h0M397.8 251.0h0M406.3 256.2h0M398.5 263.4h0M409.4 242.8h0M405.9 257.6h0M403.5 255.9h0M406.8 255.9h0M403.3 242.8h0M404.4 249.9h0M405.8 259.7h0M408.9 262.9h0M402.1 258.9h0M403.5 244.6h0M400.3 242.1h0M407.8 249.9h0M400.6 248.4h0M410.6 258.9h0M400.3 253.4h0M407.1 261.8h0M400.4 256.7h0M406.4 251.7h0M400.5 254.1h0M400.5 245.7h0M397.5 260.4h0M402.9 251.3h0M410.1 245.8h0M402.2 261.0h0M399.7 254.2h0M404.8 246.9h0M407.7 241.5h0M397.5 262.6h0M402.0 254.5h0M404.5 261.8h0M403.5 248.0h0M399.4 249.8h0M410.0 266.9h0M409.6 250.5h0M405.0 270.5h0M403.6 270.3h0M410.3 244.0h0M400.3 243.9h0M407.3 251.3h0M408.8 250.6h0M406.9 249.0h0M398.1 258.5h0M401.8 239.6h0M403.9 251.1h0M403.8 267.9h0M396.5 258.4h0M407.7 243.5h0M404.3 242.3h0M407.4 260.3h0M397.1 250.5h0M402.2 264.4h0M406.6 257.5h0M402.1 263.7h0M411.3 251.0h0M403.3 266.8h0M397.7 255.6h0M410.4 255.1h0M406.7 241.2h0M410.6 256.8h0M405.4 242.1h0M405.9 259.3h0M400.5 251.8h0M410.5 249.7h0M412.1 254.4h0M410.7 255.3h0M397.6 254.5h0M410.7 263.6h0M409.7 249.6h0M409.8 263.5h0M400.4 255.0h0M409.2 261.6h0M398.6 255.5h0M405.3 258.1h0M402.7 257.0h0M409.6 254.7h0M404.6 262.9h0M404.9 248.0h0M400.1 264.2h0M405.7 241.6h0M397.6 258.1h0M408.5 251.8h0M398.7 252.5h0M408.0 246.5h0M404.7 247.5h0M398.2 255.4h0M407.8 255.1h0M407.0 241.5h0M407.6 253.3h0M409.9 249.8h0M407.6 248.3h0M411.0 248.7h0M402.1 252.0h0M397.6 267.8h0M404.7 248.5h0M410.2 254.2h0M396.9 256.8h0M402.4 257.3h0M408.0 258.9h0M400.8 264.6h0M407.4 248.8h0M405.0 241.8h0M401.7 249.4h0M398.2 248.1h0M404.1 257.2h0M398.5 250.2h0M412.6 256.9h0M403.4 256.7h0M407.5 244.9h0M396.3 250.3h0M400.7 260.8h0M401.9 255.9h0M409.2 256.0h0M408.1 247.0h0M398.7 267.4h0M403.2 270.5h0M406.2 262.1h0M409.1 243.6h0M402.6 270.3h0M409.1 250.8h0M404.3 251.3h0M408.5 245.6h0M406.3 246.9h0M398.5 258.0h0M409.2 257.1h0M411.4 253.6h0M408.7 264.1h0M402.4 261.1h0M401.3 251.2h0M407.1 245.9h0M399.2 255.4h0M403.1 250.1h0M402.4 253.1h0M400.5 244.1h0M404.9 239.2h0M398.5 243.1h0M401.5 256.7h0M404.7 270.6h0M407.6 268.7h0M407.8 248.8h0M410.3 247.3h0M403.6 263.6h0M401.8 259.1h0M403.1 262.7h0M407.8 253.4h0M410.2 252.9h0M408.0 265.7h0M402.1 266.1h0M403.9 255.0h0M407.9 263.7h0M399.4 244.3h0M401.8 257.1h0M407.6 265.5h0M399.2 243.0h0M397.9 259.6h0M400.0 254.8h0M404.7 262.4h0M410.1 246.8h0M400.5 253.1h0M408.2 255.8h0M401.4 245.4h0M401.7 241.0h0M411.2 254.4h0M404.2 267.5h0M397.1 257.2h0M404.5 248.5h0M408.6 265.4h0M399.0 258.6h0M400.5 259.7h0M406.1 267.6h0M399.8 242.4h0M409.3 252.6h0M405.0 271.0h0M399.7 265.8h0M407.5 261.5h0M401.1 261.5h0M408.2 248.1h0M403.9 248.2h0M399.4 264.9h0M406.0 247.5h0M399.4 246.8h0M406.2 259.7h0M408.9 260.2h0M410.2 259.9h0M401.7 247.2h0M409.1 244.9h0M396.8 251.6h0M402.6 249.1h0M405.0 245.8h0M402.9 269.8h0M402.4 241.7h0M409.4 258.1h0M397.1 255.1h0M408.6 251.6h0M407.7 245.9h0M402.4 248.9h0M404.6 260.8h0M407.2 244.6h0M399.6 265.7h0M410.7 245.7h0M400.7 266.3h0M409.7 252.9h0M406.9 257.0h0M403.3 241.8h0M404.9 246.3h0M407.3 264.8h0M402.5 263.6h0M408.4 264.1h0M406.4 263.6h0M400.7 242.6h0M397.5 245.2h0M400.9 261.0h0M397.9 242.1h0M399.9 255.5h0M410.8 259.7h0M399.4 253.7h0M406.3 271.4h0M403.8 265.6h0M399.4 247.9h0M401.7 267.6h0M399.2 258.4h0M407.8 251.0h0M398.6 264.1h0M405.5 237.6h0M401.6 239.7h0M401.9 258.0h0M401.2 243.3h0M398.6 253.1h0M399.8 259.1h0M403.1 241.7h0M397.5 252.4h0M409.9 254.1h0M400.8 238.4h0M405.9 253.3h0M400.9 242.9h0M404.9 269.3h0M403.4 271.5h0M404.7 244.1h0M405.8 239.8h0M400.1 265.5h0M406.2 264.4h0M404.6 240.5h0M400.9 261.5h0M401.8 241.5h0M408.8 250.5h0M397.9 249.0h0M409.9 254.6h0M399.1 247.4h0M399.5 246.7h0M407.2 246.5h0M411.4 248.4h0M411.5 257.1h0M398.2 264.3h0M406.4 245.8h0M401.8 271.9h0M398.0 247.0h0M401.0 253.3h0M400.7 249.7h0M403.7 250.7h0M407.6 243.8h0M401.1 241.8h0M403.0 263.7h0M401.7 262.1h0M398.7 255.3h0M405.7 259.5h0M406.8 245.8h0M405.2 255.7h0M404.1 259.8h0M400.6 267.4h0M402.1 254.4h0M405.3 248.6h0M403.7 250.1h0M398.9 262.3h0M405.3 258.5h0M404.5 269.3h0M400.4 253.9h0M398.0 263.5h0M408.3 248.8h0M404.6 245.8h0M409.3 243.8h0M402.8 247.6h0M400.9 258.8h0M404.4 267.9h0M409.6 260.6h0M411.3 257.9h0M402.7 265.6h0M399.0 263.1h0M404.0 260.2h0M406.8 269.4h0M399.7 243.9h0M407.1 249.5h0M407.8 252.1h0M405.9 253.0h0M408.6 248.5h0M404.9 249.7h0M406.9 245.8h0M409.5 268.5h0M409.4 248.0h0M407.9 243.8h0M401.5 248.4h0M402.0 267.8h0M402.8 266.3h0M409.2 247.4h0M407.5 255.6h0M405.4 258.9h0M396.6 261.4h0M406.2 240.7h0M398.4 243.7h0M403.7 266.2h0M403.2 246.0h0M399.1 252.0h0M401.2 261.4h0M402.2 247.8h0M402.8 255.1h0M405.1 266.1h0M407.2 258.0h0M410.6 259.8h0M407.3 262.1h0M406.6 256.7h0M399.6 246.0h0M398.0 250.3h0M407.5 256.2h0M410.2 259.8h0M401.2 249.7h0M402.4 270.1h0M403.9 269.0h0M408.2 260.9h0M399.8 266.0h0M404.6 244.7h0M408.6 244.3h0M410.8 252.9h0M399.5 259.4h0M409.6 249.5h0M401.3 242.7h0M399.4 253.5h0M399.4 266.4h0M397.9 259.6h0M403.7 254.3h0M407.7 264.2h0M402.2 255.7h0M401.4 266.6h0M406.6 269.9h0M406.4 245.9h0M401.2 258.3h0M404.7 270.9h0M398.6 256.8h0M401.0 259.3h0M400.8 250.5h0M410.6 254.1h0M403.7 251.1h0M404.8 255.2h0M401.7 245.6h0M404.7 259.2h0M406.7 247.5h0M398.8 241.6h0M399.2 266.2h0M410.6 254.6h0M400.5 241.4h0M406.3 253.9h0M399.9 262.2h0M403.5 250.5h0M408.1 242.0h0M401.6 240.8h0M403.4 259.6h0M400.2 251.5h0M410.5 247.1h0M406.1 264.9h0M410.6 254.7h0M406.3 245.3h0M401.9 267.5h0M406.2 259.9h0M402.3 251.1h0M406.4 265.5h0M402.7 258.6h0M406.7 257.4h0M401.1 255.1h0M404.5 247.0h0M404.4 254.8h0M401.8 266.6h0M405.2 248.9h0M408.3 252.8h0M400.8 246.4h0M407.8 246.5h0M405.3 258.2h0M402.3 260.2h0M407.7 254.4h0M404.2 259.6h0M404.5 264.2h0M406.8 255.5h0M405.0 252.1h0M406.5 249.7h0M404.1 246.0h0M412.3 257.0h0M404.4 258.2h0M398.5 265.2h0M398.6 259.3h0M402.9 260.2h0M406.4 256.7h0M407.6 252.7h0M405.1 252.7h0M401.9 247.2h0M405.5 267.1h0M401.4 251.4h0M401.9 257.7h0M397.4 256.0h0M401.7 247.8h0M405.1 256.3h0M405.2 263.5h0M399.4 262.8h0M406.1 272.2h0M408.9 258.5h0M397.6 256.7h0M409.4 260.8h0M404.0 246.1h0M404.4 244.5h0M401.5 252.0h0M405.6 250.4h0M404.0 254.7h0M405.1 259.2h0M405.8 252.9h0M404.8 250.4h0M400.1 250.8h0M404.2 240.4h0M406.9 257.4h0M398.9 247.5h0M401.2 238.6h0M398.3 257.9h0M397.4 270.5h0M409.0 266.0h0M405.9 263.2h0M408.7 247.9h0M409.6 249.2h0M403.0 236.1h0M403.1 242.6h0M412.0 257.5h0M407.3 251.4h0M407.4 258.8h0M402.9 258.7h0M402.8 245.6h0M397.3 243.2h0M406.3 268.9h0M402.6 250.5h0M408.7 253.7h0M405.4 255.0h0M395.8 245.1h0M405.3 255.5h0M403.3 245.2h0M404.7 252.7h0M400.8 253.1h0M405.1 270.3h0M408.0 248.3h0M406.9 243.5h0M396.1 249.1h0M410.9 260.1h0M401.8 257.8h0M397.0 253.4h0M400.8 245.8h0M402.8 249.0h0M405.3 245.7h0M405.5 258.1h0M407.0 259.5h0M406.6 262.4h0M408.6 262.5h0M408.3 245.3h0M403.3 265.4h0M402.1 260.2h0M407.9 264.6h0M402.1 256.6h0M403.8 259.5h0M397.6 254.3h0M408.3 254.7h0M407.7 265.2h0M404.7 251.8h0M402.3 246.1h0M402.7 253.5h0M407.6 249.9h0M401.8 254.4h0M403.5 264.0h0M404.3 265.1h0M404.5 235.9h0M403.6 246.7h0M404.3 248.1h0M407.4 252.8h0M403.0 270.0h0M403.1 251.4h0M403.0 260.2h0M405.1 255.1h0M408.3 250.5h0M406.8 260.8h0M405.3 251.2h0M403.7 262.9h0M394.8 265.8h0M401.0 261.7h0M406.1 257.9h0M406.1 251.3h0M409.9 255.3h0M407.1 253.4h0M403.1 262.7h0M400.9 254.6h0M401.4 243.2h0M407.7 255.0h0M397.8 254.3h0M412.4 262.6h0M403.5 257.5h0M403.3 256.5h0M403.8 256.2h0M402.6 261.1h0M400.1 242.4h0M398.4 249.9h0M404.6 259.0h0M407.0 243.7h0M398.8 259.4h0M410.4 259.4h0M403.8 262.4h0M410.0 262.1h0M405.0 252.6h0M402.3 251.7h0M400.1 257.4h0M407.8 252.7h0M406.9 259.8h0M403.8 254.5h0M409.4 249.4h0M401.8 251.9h0M401.6 259.0h0M406.3 252.8h0M406.5 241.8h0M404.6 272.1h0M407.6 247.4h0M407.3 250.1h0M406.4 259.9h0M399.3 268.3h0M399.5 251.6h0M406.7 259.4h0M405.0 252.6h0M407.0 257.6h0M403.1 263.1h0M409.7 250.6h0M402.9 247.3h0M400.1 256.2h0M407.6 244.5h0M403.5 257.3h0M402.2 261.3h0M406.4 254.5h0M408.4 257.5h0M408.1 259.4h0M403.4 266.0h0M401.9 257.7h0M403.2 248.9h0M399.8 263.5h0M409.0 263.0h0M397.5 259.7h0M404.7 259.4h0M405.2 259.3h0M405.9 262.9h0M404.8 251.1h0M396.7 257.2h0M397.0 250.7h0M404.2 254.1h0M401.7 267.8h0M399.4 263.8h0M403.3 254.1h0M404.5 258.4h0M398.3 258.6h0M403.7 254.8h0M404.4 254.1h0M408.1 248.5h0M401.6 258.6h0M403.6 261.7h0M394.4 253.2h0M404.5 267.9h0M407.8 248.2h0M408.0 248.9h0M405.4 252.3h0M399.5 260.9h0M406.2 252.7h0M401.4 249.4h0M403.8 263.0h0M402.7 254.5h0M402.9 246.0h0M403.0 250.4h0M408.4 256.2h0M408.7 254.4h0M404.8 265.1h0M405.9 255.5h0M406.0 257.4h0M408.2 250.5h0M402.7 248.5h0M408.5 259.6h0M403.2 259.1h0M410.9 260.7h0M404.0 248.1h0M408.4 252.8h0M398.9 262.0h0M401.4 252.1h0M411.8 252.0h0M410.2 237.9h0M407.0 253.2h0M404.9 250.5h0M405.3 259.6h0M403.2 260.7h0M406.9 246.5h0M410.5 256.1h0M407.3 265.3h0M401.2 247.3h0M403.1 268.3h0M409.8 260.9h0M401.0 252.2h0M403.6 255.7h0M400.3 255.2h0M402.6 258.2h0M401.0 251.0h0M404.7 259.7h0M404.5 256.2h0M403.7 250.5h0M402.8 248.6h0M406.1 257.8h0M403.7 248.7h0M402.9 253.7h0M407.8 252.4h0M405.0 250.1h0M406.5 252.9h0M401.3 241.1h0M403.1 252.3h0M408.2 245.8h0M402.2 246.0h0M406.9 256.8h0M403.0 259.2h0M404.8 251.3h0M404.0 259.1h0M407.4 267.4h0M405.2 255.3h0M404.6 248.9h0M403.7 258.8h0M402.9 252.7h0M399.8 259.1h0M407.9 254.8h0M404.8 256.3h0M404.4 253.3h0M407.6 270.9h0M407.7 257.0h0M403.0 246.1h0M407.7 253.4h0M406.2 251.2h0M395.8 269.7h0M400.1 259.1h0M408.2 243.1h0M404.8 254.0h0M399.0 267.3h0M402.6 258.6h0M404.3 268.3h0M401.1 252.1h0M405.2 259.9h0M404.2 262.9h0M408.2 257.8h0M399.6 248.1h0M398.7 251.4h0M407.3 266.4h0M404.9 261.1h0M402.9 252.8h0M406.7 243.1h0M403.6 248.7h0M405.1 259.0h0M404.9 264.6h0M404.6 263.8h0M405.0 240.4h0M404.1 248.6h0M403.0 237.9h0M403.4 252.4h0M400.4 253.2h0M407.0 255.4h0M406.5 248.5h0M410.1 248.3h0M400.0 256.2h0M406.2 264.1h0M406.8 261.7h0M399.0 256.2h0M402.2 239.5h0M409.3 246.4h0M406.4 260.8h0M403.2 247.8h0M408.7 254.9h0M404.8 255.8h0M405.4 259.2h0M404.8 261.8h0M404.1 245.3h0M401.5 258.8h0M401.2 256.4h0M406.8 250.2h0M404.1 245.9h0M400.0 258.3h0M405.0 247.0h0M402.8 249.9h0M403.1 250.3h0M402.5 270.7h0M402.5 245.4h0M402.8 263.5h0M403.5 259.5h0M403.1 251.9h0M409.1 256.7h0M402.3 259.8h0M399.5 244.2h0M403.2 251.8h0M404.5 246.0h0M405.7 253.4h0M403.3 257.1h0M403.0 262.2h0M401.2 256.9h0M403.7 238.6h0M400.9 251.2h0M405.7 245.6h0M402.2 251.3h0M399.3 251.0h0M407.4 261.4h0M400.7 249.3h0M401.7 239.6h0M411.7 249.4h0M405.2 251.2h0M403.1 243.9h0M400.5 253.5h0M401.8 259.5h0M402.3 257.5h0M405.9 246.2h0M408.2 253.3h0M412.4 250.7h0M407.6 259.8h0M399.0 243.6h0M399.2 260.6h0M404.2 261.4h0M400.4 260.1h0M404.0 259.0h0M406.2 255.5h0M408.7 244.8h0M402.9 262.0h0M400.6 259.9h0M404.3 256.8h0M396.0 248.5h0M406.4 246.3h0M406.8 259.8h0M394.2 255.5h0M400.3 247.2h0M398.7 256.8h0M409.0 251.4h0M398.6 262.2h0M406.7 255.1h0M399.4 246.2h0M403.3 265.4h0M409.3 248.0h0M398.1 253.9h0M406.9 249.3h0M404.5 261.2h0M398.4 267.7h0M408.9 255.3h0M405.1 258.7h0M401.7 260.1h0M404.4 249.3h0M403.8 252.7h0M402.5 259.8h0M406.8 261.5h0M402.6 259.5h0M403.2 266.7h0M400.5 262.1h0M402.3 242.5h0M406.6 245.4h0M401.1 254.3h0M405.5 253.9h0M405.5 256.8h0M398.5 263.5h0M408.9 250.6h0M406.5 252.7h0M401.3 252.8h0M397.5 250.2h0M406.4 261.9h0M405.7 256.5h0M401.9 261.6h0M410.5 257.3h0M410.0 255.7h0M403.3 261.1h0M404.5 253.2h0M402.3 255.7h0M404.0 243.4h0M405.8 266.9h0M405.3 258.1h0M405.9 261.1h0M406.7 252.5h0M400.3 258.1h0M405.6 251.0h0M403.2 258.2h0M409.4 250.6h0M401.0 254.7h0M401.5 251.4h0M401.0 263.1h0M405.6 256.1h0M406.1 261.0h0M400.9 258.9h0M402.1 244.3h0M405.5 250.8h0M409.0 253.0h0M403.2 248.9h0M403.6 254.3h0M406.3 249.5h0M401.7 247.4h0M401.9 252.0h0M403.6 250.2h0M407.2 249.8h0M405.0 253.9h0M405.4 255.5h0M402.7 254.7h0M402.4 253.9h0M408.0 260.8h0M408.7 249.0h0M408.1 257.9h0M406.3 253.0h0M410.0 248.7h0M405.0 245.5h0M403.2 257.6h0M405.0 256.8h0M408.5 247.6h0M398.4 262.0h0M399.1 252.7h0M411.9 260.0h0M403.7 261.4h0M401.4 260.0h0M402.8 250.1h0M400.9 250.7h0M405.0 267.5h0M407.3 261.4h0M403.7 266.8h0M403.8 265.0h0M400.1 259.1h0M400.6 252.7h0M403.5 242.2h0M405.4 255.4h0M398.5 254.1h0M403.8 243.9h0M402.0 262.0h0M402.8 253.6h0M403.8 253.4h0M400.5 253.9h0M397.6 256.0h0M403.1 245.6h0M399.1 256.3h0M402.7 250.5h0M402.3 256.4h0M407.6 251.9h0M397.8 248.7h0M401.0 257.9h0M407.8 257.3h0M401.3 261.4h0M402.7 246.7h0M403.5 269.0h0M404.1 250.1h0M406.6 249.4h0M407.9 259.8h0M399.8 252.0h0M402.9 249.3h0M405.3 253.2h0M409.8 256.7h0M407.3 261.6h0M405.6 260.6h0M401.9 261.8h0M407.4 262.3h0M402.3 251.0h0M408.0 254.4h0M412.6 258.4h0M400.4 259.3h0M405.0 241.8h0M402.2 239.7h0M412.9 246.8h0M401.4 252.5h0M401.5 263.3h0M403.3 245.1h0M406.7 257.2h0M399.5 261.3h0M399.7 248.6h0M409.0 251.4h0M404.3 249.1h0M403.2 240.8h0M403.2 249.4h0M407.2 251.8h0M401.4 251.5h0M397.8 257.6h0M398.3 246.3h0M405.0 252.6h0M410.9 245.2h0M405.3 267.2h0M402.0 245.8h0M407.5 267.7h0M401.6 260.6h0M406.4 255.6h0M406.9 253.0h0M406.3 253.0h0M403.6 247.3h0M404.0 254.1h0M401.2 249.8h0M402.9 264.5h0M405.7 259.4h0M408.5 259.6h0M409.7 264.6h0M406.6 254.1h0M404.6 254.3h0M401.7 244.2h0M405.6 245.5h0M406.5 266.9h0M404.5 248.4h0M402.1 259.0h0M403.9 251.8h0M405.1 246.8h0M400.8 257.5h0M401.8 259.1h0M402.6 255.3h0M403.7 263.6h0M403.3 255.4h0M400.5 255.8h0M403.7 256.9h0M397.5 259.1h0M404.4 256.9h0M406.6 264.8h0M398.2 249.7h0M405.7 240.2h0M417.7 235.1h0M407.5 250.1h0M408.1 269.6h0M415.7 247.9h0M404.6 247.4h0M395.8 256.1h0M400.4 242.7h0M402.2 248.9h0M397.2 256.8h0M407.4 258.5h0M400.0 246.0h0M390.1 261.7h0M410.2 246.3h0M395.8 243.1h0M412.8 252.9h0M401.5 255.5h0M404.2 251.7h0M403.1 261.1h0M410.0 244.1h0M403.4 254.1h0M408.3 262.1h0M403.5 260.2h0M411.6 266.7h0M399.2 256.5h0M406.3 244.4h0M402.1 250.3h0M409.6 255.3h0M416.4 260.1h0M401.6 257.5h0M404.8 247.1h0M406.4 241.4h0M405.4 250.3h0M404.8 248.1h0M414.8 248.4h0M409.0 255.5h0M411.3 248.2h0M396.5 261.6h0M410.6 261.2h0M380.8 271.4h0M413.1 255.2h0M398.7 259.8h0M393.7 251.8h0M407.9 268.2h0M401.8 252.8h0M395.9 253.6h0M399.9 255.0h0M399.6 259.2h0M403.6 248.3h0M407.7 260.0h0M402.6 253.1h0M409.2 259.7h0M401.2 242.4h0M400.2 256.9h0M409.8 245.6h0M406.5 242.6h0M404.0 252.6h0M413.6 237.0h0M401.1 236.7h0M401.2 251.8h0M404.2 264.9h0M398.6 249.6h0M413.1 255.2h0M398.3 255.1h0M397.5 246.4h0M400.9 240.3h0M415.1 251.0h0M405.5 252.4h0M403.5 247.0h0M406.7 250.6h0M399.0 263.7h0M413.4 259.1h0M407.3 251.7h0M404.9 261.7h0M404.4 267.6h0M412.9 257.1h0M405.5 246.8h0M401.5 248.6h0M402.1 246.2h0M406.5 258.0h0M403.2 270.5h0M405.7 254.3h0M405.3 249.1h0M408.8 246.1h0M405.9 244.7h0M397.3 265.8h0M392.8 270.7h0M412.2 250.4h0M405.8 250.3h0M398.5 259.0h0M400.0 260.6h0M406.2 248.9h0M404.6 255.3h0M403.2 252.7h0M411.6 247.9h0M405.1 264.7h0M406.6 250.9h0M397.2 252.3h0M392.3 250.6h0M404.0 267.4h0M408.0 264.7h0M407.0 257.1h0M394.5 249.4h0M402.8 254.0h0M396.6 240.2h0M405.3 252.2h0M404.2 252.7h0M402.7 243.9h0M409.4 258.6h0M404.0 271.2h0M399.8 262.7h0M403.8 255.0h0M409.4 254.8h0M404.0 243.5h0M405.9 258.6h0M401.6 243.7h0M410.0 256.2h0M411.2 254.2h0M419.8 243.4h0M408.5 256.2h0M405.7 252.9h0M407.6 262.9h0M404.7 245.1h0M410.1 264.2h0M397.1 257.1h0M413.4 260.7h0M401.1 257.5h0M406.3 244.6h0M402.5 251.8h0M402.1 267.4h0M393.4 245.3h0M399.8 266.7h0M403.6 252.4h0M402.8 269.6h0M415.9 257.1h0M398.3 252.3h0M393.6 263.6h0M402.9 265.3h0M400.6 247.9h0M391.1 257.3h0M410.6 234.6h0M397.7 254.1h0M414.2 257.5h0M395.4 247.1h0M407.3 255.0h0M399.3 254.1h0M402.2 260.3h0M406.0 262.0h0M400.0 268.8h0M412.3 259.7h0M397.6 244.8h0M403.0 253.7h0M398.8 253.7h0M394.7 253.1h0M396.0 257.5h0M389.2 247.8h0M401.5 241.2h0M401.4 252.9h0M412.1 261.3h0M401.6 262.5h0M403.8 262.4h0M401.5 257.4h0M402.1 263.7h0M414.7 269.9h0M412.7 253.4h0M413.8 252.1h0M404.0 246.5h0M409.8 239.7h0M403.6 261.3h0M397.3 259.4h0M397.6 251.8h0M406.2 268.0h0M416.8 245.5h0M394.0 247.9h0M405.5 253.8h0M396.2 246.6h0M405.4 255.2h0M416.4 243.8h0M396.7 265.1h0M401.0 255.9h0M411.5 249.5h0M402.6 255.1h0M404.3 270.8h0M412.8 248.7h0M411.8 240.6h0M400.0 248.1h0M400.3 256.3h0M405.7 246.3h0M406.4 248.6h0M407.3 257.4h0M397.3 246.2h0M410.0 254.0h0M405.8 251.6h0M413.5 259.0h0M399.8 256.7h0M397.5 250.9h0M401.9 245.1h0M398.9 264.7h0M398.7 252.6h0M396.6 266.4h0M398.3 261.7h0M407.9 259.7h0M401.1 234.2h0M398.7 252.5h0M395.3 243.8h0M406.0 254.6h0M410.4 258.9h0M411.9 257.3h0M403.2 256.4h0M409.4 263.6h0M408.0 250.3h0M397.8 264.1h0M410.5 245.3h0M404.3 245.6h0M402.0 250.8h0M403.8 250.5h0M406.5 240.0h0M408.7 247.6h0M411.6 256.5h0M403.2 259.3h0M416.1 268.5h0M399.2 268.4h0M403.1 256.4h0M402.0 251.5h0M407.6 256.6h0M408.6 250.0h0M398.8 250.9h0M402.5 258.2h0M415.3 256.1h0M415.2 263.3h0M410.2 238.2h0M402.0 254.5h0M404.2 236.5h0M405.9 271.8h0M412.6 257.4h0M407.4 254.8h0M391.2 259.9h0M409.9 241.3h0M418.3 262.1h0M407.3 268.3h0M398.3 253.9h0M395.1 263.8h0M408.8 250.9h0M391.8 251.7h0M402.1 254.3h0M401.0 251.7h0M405.0 249.2h0M399.2 252.6h0M395.0 233.3h0M403.8 245.4h0M395.1 253.4h0M404.3 266.6h0M400.7 254.6h0M403.0 248.9h0M396.0 236.4h0M392.9 244.5h0M398.6 249.8h0M392.7 257.2h0M406.3 243.0h0M399.7 250.5h0M407.8 265.8h0M407.7 261.2h0M411.8 261.1h0M405.4 259.8h0M410.0 256.3h0M410.3 249.6h0M397.4 254.4h0M403.0 245.0h0M393.2 246.1h0M402.0 250.8h0M406.1 255.0h0M400.6 252.1h0M396.4 248.7h0M405.7 238.4h0M402.1 247.5h0M404.5 260.3h0M403.4 263.6h0M400.8 257.9h0M398.3 239.2h0M397.8 251.9h0M407.1 272.0h0M406.6 260.6h0M398.8 270.6h0M400.1 253.5h0M415.8 263.4h0M417.4 249.0h0M406.5 243.1h0M406.4 248.7h0M412.2 259.7h0M393.7 251.1h0M399.3 255.5h0M410.4 243.3h0M402.7 261.0h0M398.5 250.7h0M400.0 264.5h0M408.7 244.0h0M410.6 270.0h0M402.1 257.8h0M407.7 261.3h0M417.5 255.7h0M402.3 256.8h0M403.6 237.5h0M409.4 257.5h0M399.0 246.5h0M394.5 256.2h0M405.9 256.2h0M410.0 252.3h0M397.1 255.3h0M413.7 267.6h0M398.4 249.4h0M386.2 257.5h0M404.5 246.1h0M406.6 235.9h0M405.5 245.4h0M399.7 257.3h0M403.5 249.7h0M404.2 247.8h0M412.1 257.9h0M406.0 267.9h0M415.5 240.5h0M405.0 243.2h0M408.0 249.2h0M400.0 252.1h0M411.2 245.5h0M406.4 252.1h0M402.1 255.9h0M414.9 250.6h0M405.4 258.3h0M394.8 252.1h0M407.5 258.1h0M404.7 245.3h0M401.9 260.1h0M399.7 263.5h0M406.6 269.8h0M394.4 254.4h0M394.5 244.1h0M416.1 261.5h0M406.4 244.7h0M404.3 259.2h0M412.2 235.6h0M403.6 243.6h0M417.5 269.7h0M404.4 251.7h0M413.1 270.3h0M401.6 263.6h0M406.1 256.9h0M403.6 244.6h0M395.9 269.1h0M405.9 263.7h0M404.9 241.6h0M402.9 247.2h0M397.5 256.1h0M399.7 257.7h0M405.0 249.9h0M398.7 252.2h0M410.5 264.8h0M411.5 246.6h0M398.8 256.8h0M404.0 260.9h0M406.7 241.1h0M405.6 269.0h0M403.5 254.1h0M404.5 239.8h0M408.4 258.7h0M409.3 249.5h0M399.8 244.6h0M403.3 254.4h0M407.7 245.6h0M399.6 243.6h0M401.1 262.8h0M409.5 254.9h0M411.0 258.8h0M401.4 260.9h0M396.4 247.8h0M405.4 254.8h0M400.1 251.6h0M397.6 247.2h0M420.7 260.4h0M410.0 266.1h0M394.7 261.8h0M399.7 241.2h0M400.8 255.7h0M410.7 265.0h0M405.1 266.4h0M391.9 253.5h0M394.4 230.8h0M402.9 252.1h0M407.3 252.6h0M398.4 250.3h0M386.6 243.2h0M402.9 250.1h0M394.9 250.0h0M400.6 255.8h0M407.5 250.7h0M407.8 247.3h0M400.6 257.7h0M401.6 261.3h0M409.1 248.7h0M417.1 261.2h0M400.4 243.3h0M403.2 254.9h0M408.0 257.7h0M408.0 240.4h0M400.6 253.9h0M408.9 253.3h0M405.6 245.0h0M411.2 255.2h0M396.0 251.9h0M402.6 256.0h0M416.0 243.2h0M412.2 242.8h0M403.5 243.7h0M403.7 265.0h0M414.6 263.1h0M403.3 262.5h0M394.9 253.1h0M399.7 234.4h0M402.3 242.2h0M411.4 245.8h0M411.4 252.2h0M410.6 260.5h0M412.5 245.9h0M396.2 256.2h0M418.6 266.2h0M404.6 264.9h0M404.0 256.5h0M411.7 257.6h0M403.4 255.6h0M411.4 266.9h0M399.3 259.4h0M377.4 262.5h0M383.4 249.7h0M385.1 250.3h0M374.9 256.5h0M377.9 262.6h0M388.8 246.2h0M389.8 258.9h0M375.8 261.9h0M382.5 253.6h0M392.2 239.3h0M381.3 261.2h0M389.3 266.8h0M391.0 256.4h0M396.1 254.7h0M392.9 236.1h0M373.3 264.0h0M395.5 259.8h0M395.0 242.6h0M389.9 245.6h0M381.3 249.7h0M395.4 249.6h0M394.4 261.6h0M389.1 259.0h0M396.6 257.6h0M392.4 259.7h0M371.5 270.4h0M390.7 255.3h0M391.6 248.7h0M384.6 246.8h0M384.9 264.1h0M374.6 248.0h0M390.7 250.8h0M408.9 249.0h0M396.1 256.1h0M390.1 263.9h0M403.2 266.3h0M392.1 255.0h0M393.1 262.5h0M385.6 249.2h0M378.1 244.9h0M389.3 264.3h0M391.0 254.2h0M376.5 259.4h0M410.7 268.0h0M385.5 266.9h0M386.2 255.9h0M387.1 245.7h0M400.2 252.4h0M387.3 257.8h0M391.4 249.9h0M380.1 253.8h0M377.8 249.4h0M392.7 253.6h0M391.7 253.8h0M389.4 250.9h0M399.6 251.3h0M390.4 269.8h0M399.7 250.7h0M380.2 257.9h0M388.6 265.7h0M382.4 260.4h0M384.7 251.4h0M399.0 267.3h0M391.7 258.4h0M383.0 269.9h0M378.3 264.9h0M380.8 260.9h0M387.6 253.2h0M384.5 257.8h0M382.4 250.6h0M398.4 250.0h0M387.2 247.2h0M375.4 252.1h0M405.4 257.4h0M392.8 262.5h0M377.3 248.7h0M385.5 263.7h0M387.7 246.8h0M385.5 243.5h0M388.8 245.6h0M378.1 241.6h0M379.2 251.2h0M393.6 252.6h0M384.0 251.8h0M386.9 252.8h0M375.6 253.9h0M391.3 243.2h0M369.1 262.0h0M384.8 249.3h0M372.7 253.7h0M395.5 251.0h0M392.2 254.8h0M375.9 265.3h0M394.9 253.3h0M393.2 260.3h0M400.5 262.9h0M387.2 261.8h0M384.4 247.8h0M383.3 252.5h0M396.7 256.6h0M390.9 249.8h0M392.8 251.5h0M372.9 260.7h0M388.2 266.8h0M401.1 255.8h0M374.4 239.1h0M386.5 245.5h0M398.0 259.8h0M375.8 240.9h0M399.4 264.3h0M395.2 267.7h0M390.8 250.3h0M388.1 256.2h0M380.8 255.0h0M361.4 246.9h0M384.0 238.2h0M387.8 250.8h0M407.9 266.9h0M394.3 254.3h0M368.6 247.0h0M382.9 263.4h0M367.6 254.4h0M396.9 260.4h0M377.1 254.6h0M389.5 264.1h0M382.1 253.8h0M384.6 246.9h0M380.7 261.4h0M382.2 251.6h0M379.5 249.4h0M392.5 258.1h0M389.8 257.2h0M386.6 260.9h0M379.7 253.1h0M376.0 265.5h0M392.7 256.5h0M389.9 261.2h0M392.5 260.6h0M386.2 255.1h0M395.0 261.4h0M389.6 264.7h0M379.3 256.1h0M376.3 264.6h0M392.2 256.2h0M382.2 254.8h0M363.2 262.3h0M391.8 260.2h0M379.0 252.9h0M381.8 255.3h0M380.2 248.9h0M402.5 250.7h0M388.1 259.0h0M397.5 265.6h0M383.1 260.8h0M394.0 258.7h0M368.1 241.6h0M379.5 269.3h0M395.0 254.7h0M387.0 257.9h0M386.1 261.6h0M379.2 252.3h0M384.1 245.8h0M375.0 249.4h0M375.0 262.4h0M395.1 259.5h0M376.5 258.3h0M387.0 245.0h0M396.0 259.2h0M406.8 247.3h0M404.4 257.9h0M392.2 255.7h0M395.4 245.7h0M401.9 262.2h0M393.9 260.7h0M394.6 269.5h0M392.2 260.8h0M414.5 271.6h0M393.3 249.6h0M418.2 256.0h0M396.6 262.0h0M407.6 258.5h0M396.3 258.9h0M388.5 268.7h0M395.4 263.0h0M392.9 267.6h0M419.1 257.2h0M400.5 261.5h0M414.6 258.2h0M411.2 263.8h0M408.9 258.4h0M392.3 259.7h0M408.8 261.0h0M384.5 254.5h0M394.0 257.2h0M405.2 254.1h0M391.2 260.9h0M399.4 262.5h0M399.6 250.9h0M394.5 265.0h0M402.9 264.6h0M388.8 257.1h0M382.3 259.9h0M390.2 266.2h0M396.7 269.7h0M421.0 263.7h0M404.0 253.4h0M394.6 245.2h0M406.1 270.7h0M397.6 259.8h0M401.3 258.7h0M404.7 266.2h0M386.4 247.5h0M397.5 260.4h0M385.3 266.6h0M413.2 265.5h0M385.8 263.1h0M390.2 268.6h0M403.0 264.2h0M408.3 266.0h0M425.4 252.2h0M401.1 267.6h0M407.4 243.5h0M410.4 258.5h0M398.1 267.1h0M405.5 265.9h0M410.3 264.2h0M412.5 261.9h0M390.8 271.7h0M400.4 267.1h0M385.4 244.3h0M401.0 263.6h0M414.9 253.1h0M391.3 263.6h0M411.7 263.8h0M405.0 267.6h0M421.1 271.9h0M397.0 250.8h0M382.6 259.7h0M390.7 262.6h0M398.2 245.9h0M409.4 266.1h0M391.3 252.7h0M410.1 210.4h0M404.7 210.5h0M403.3 218.7h0M403.2 214.3h0M404.2 213.2h0M401.6 219.0h0M405.8 214.8h0M402.4 214.4h0M411.9 208.4h0M404.1 209.7h0M403.4 215.8h0M404.1 211.9h0M409.0 215.0h0M397.0 243.9h0M394.8 225.4h0M385.1 222.0h0M391.8 242.2h0M388.8 227.4h0M399.0 230.7h0" stroke="#161616" stroke-width="0.8" stroke-linecap="square" fill="none"/>
<line x1="345.20" y1="266.60" x2="346.40" y2="266.60" stroke="#555" stroke-width="0.4" />
<line x1="351.70" y1="273.10" x2="351.70" y2="271.90" stroke="#555" stroke-width="0.4" />
<line x1="345.20" y1="260.10" x2="346.40" y2="260.10" stroke="#555" stroke-width="0.4" />
<line x1="358.20" y1="273.10" x2="358.20" y2="271.90" stroke="#555" stroke-width="0.4" />
<line x1="345.20" y1="253.60" x2="346.40" y2="253.60" stroke="#555" stroke-width="0.4" />
<line x1="364.70" y1="273.10" x2="364.70" y2="271.90" stroke="#555" stroke-width="0.4" />
<line x1="345.20" y1="247.10" x2="346.40" y2="247.10" stroke="#555" stroke-width="0.4" />
<line x1="371.20" y1="273.10" x2="371.20" y2="271.90" stroke="#555" stroke-width="0.4" />
<line x1="345.20" y1="240.60" x2="346.40" y2="240.60" stroke="#555" stroke-width="0.4" />
<line x1="377.70" y1="273.10" x2="377.70" y2="271.90" stroke="#555" stroke-width="0.4" />
<line x1="345.20" y1="234.10" x2="346.40" y2="234.10" stroke="#555" stroke-width="0.4" />
<line x1="384.20" y1="273.10" x2="384.20" y2="271.90" stroke="#555" stroke-width="0.4" />
<line x1="345.20" y1="227.60" x2="346.40" y2="227.60" stroke="#555" stroke-width="0.4" />
<line x1="390.70" y1="273.10" x2="390.70" y2="271.90" stroke="#555" stroke-width="0.4" />
<line x1="345.20" y1="221.10" x2="346.40" y2="221.10" stroke="#555" stroke-width="0.4" />
<line x1="397.20" y1="273.10" x2="397.20" y2="271.90" stroke="#555" stroke-width="0.4" />
<line x1="345.20" y1="214.60" x2="346.40" y2="214.60" stroke="#555" stroke-width="0.4" />
<line x1="403.70" y1="273.10" x2="403.70" y2="271.90" stroke="#555" stroke-width="0.4" />
<line x1="345.20" y1="208.10" x2="346.40" y2="208.10" stroke="#555" stroke-width="0.4" />
<line x1="410.20" y1="273.10" x2="410.20" y2="271.90" stroke="#555" stroke-width="0.4" />
<line x1="345.20" y1="201.60" x2="346.40" y2="201.60" stroke="#555" stroke-width="0.4" />
<line x1="416.70" y1="273.10" x2="416.70" y2="271.90" stroke="#555" stroke-width="0.4" />
<text x="537.60" y="193.00" text-anchor="middle" font-size="10.5"><tspan font-style="italic">P</tspan>=0.038</text>
<line x1="521.00" y1="198.10" x2="554.20" y2="198.10" stroke="#111" stroke-width="0.9" />
<line x1="506.60" y1="199.75" x2="506.60" y2="286.45" stroke="#111" stroke-width="0.9" />
<line x1="506.60" y1="286.00" x2="701.40" y2="286.00" stroke="#111" stroke-width="0.9" />
<line x1="503.40" y1="264.55" x2="506.60" y2="264.55" stroke="#111" stroke-width="0.9" />
<text x="500.00" y="268.25" text-anchor="end" font-size="10.5" >5</text>
<line x1="503.40" y1="243.10" x2="506.60" y2="243.10" stroke="#111" stroke-width="0.9" />
<text x="500.00" y="246.80" text-anchor="end" font-size="10.5" >10</text>
<line x1="503.40" y1="221.65" x2="506.60" y2="221.65" stroke="#111" stroke-width="0.9" />
<text x="500.00" y="225.35" text-anchor="end" font-size="10.5" >15</text>
<line x1="503.40" y1="200.20" x2="506.60" y2="200.20" stroke="#111" stroke-width="0.9" />
<text x="500.00" y="203.90" text-anchor="end" font-size="10.5" >20</text>
<text transform="translate(467.40,240.90) rotate(-90)" text-anchor="middle" font-size="10.5">Frequency of</text>
<text transform="translate(480.20,239.50) rotate(-90)" text-anchor="middle" font-size="10.7">CD8+ T cells (%)</text>
<circle cx="680.80" cy="187.00" r="4.00" fill="#111" stroke="#111" stroke-width="1.0"/>
<text x="692.40" y="190.80" text-anchor="start" font-size="10.5" >WT</text>
<circle cx="680.80" cy="201.80" r="4.35" fill="#fff" stroke="#111" stroke-width="1.25"/>
<text x="692.40" y="206.40" text-anchor="start" font-size="10.5" >TSLPR–/–</text>
<polyline fill="none" stroke="#111" stroke-width="0.9" points="522.0,290.6 522.0,296.6 555.6,296.6 555.6,290.6"/>
<text x="538.60" y="308.70" text-anchor="middle" font-size="10.5" >NP</text>
<polyline fill="none" stroke="#111" stroke-width="0.9" points="587.5,290.6 587.5,296.6 621.2,296.6 621.2,290.6"/>
<text x="604.40" y="308.70" text-anchor="middle" font-size="10.5" >PA</text>
<polyline fill="none" stroke="#111" stroke-width="0.9" points="652.8,290.6 652.8,296.6 686.2,296.6 686.2,290.6"/>
<text x="669.30" y="308.70" text-anchor="middle" font-size="10.5" >PB-1</text>
<text x="465.20" y="308.60" text-anchor="start" font-size="10.5" >Tetramer</text>
<text x="470.30" y="321.20" text-anchor="start" font-size="10.5" >Epitope</text>
<line x1="512.20" y1="232.50" x2="533.80" y2="232.50" stroke="#111" stroke-width="0.9" />
<line x1="523.00" y1="223.30" x2="523.00" y2="241.70" stroke="#111" stroke-width="0.9" />
<line x1="517.20" y1="223.30" x2="528.80" y2="223.30" stroke="#111" stroke-width="0.9" />
<line x1="517.20" y1="241.70" x2="528.80" y2="241.70" stroke="#111" stroke-width="0.9" />
<circle cx="523.00" cy="206.80" r="3.15" fill="#111" stroke="#111" stroke-width="1.0"/>
<circle cx="523.00" cy="225.30" r="3.15" fill="#111" stroke="#111" stroke-width="1.0"/>
<circle cx="517.80" cy="228.90" r="3.15" fill="#111" stroke="#111" stroke-width="1.0"/>
<circle cx="528.10" cy="238.40" r="3.15" fill="#111" stroke="#111" stroke-width="1.0"/>
<circle cx="523.00" cy="263.70" r="3.15" fill="#111" stroke="#111" stroke-width="1.0"/>
<line x1="544.80" y1="264.60" x2="566.40" y2="264.60" stroke="#111" stroke-width="0.9" />
<line x1="555.60" y1="255.40" x2="555.60" y2="273.90" stroke="#111" stroke-width="0.9" />
<line x1="549.80" y1="255.40" x2="561.40" y2="255.40" stroke="#111" stroke-width="0.9" />
<line x1="549.80" y1="273.90" x2="561.40" y2="273.90" stroke="#111" stroke-width="0.9" />
<circle cx="555.60" cy="229.70" r="3.60" fill="#fff" stroke="#111" stroke-width="1.2"/>
<circle cx="555.60" cy="264.40" r="3.60" fill="#fff" stroke="#111" stroke-width="1.2"/>
<circle cx="549.90" cy="272.40" r="3.60" fill="#fff" stroke="#111" stroke-width="1.2"/>
<circle cx="561.20" cy="276.70" r="3.60" fill="#fff" stroke="#111" stroke-width="1.2"/>
<circle cx="555.60" cy="280.00" r="3.60" fill="#fff" stroke="#111" stroke-width="1.2"/>
<line x1="577.50" y1="239.30" x2="599.10" y2="239.30" stroke="#111" stroke-width="0.9" />
<line x1="588.30" y1="233.20" x2="588.30" y2="245.60" stroke="#111" stroke-width="0.9" />
<line x1="582.50" y1="233.20" x2="594.10" y2="233.20" stroke="#111" stroke-width="0.9" />
<line x1="582.50" y1="245.60" x2="594.10" y2="245.60" stroke="#111" stroke-width="0.9" />
<circle cx="588.30" cy="219.20" r="3.15" fill="#111" stroke="#111" stroke-width="1.0"/>
<circle cx="588.30" cy="233.20" r="3.15" fill="#111" stroke="#111" stroke-width="1.0"/>
<circle cx="582.40" cy="241.70" r="3.15" fill="#111" stroke="#111" stroke-width="1.0"/>
<circle cx="593.40" cy="249.40" r="3.15" fill="#111" stroke="#111" stroke-width="1.0"/>
<circle cx="588.30" cy="252.40" r="3.15" fill="#111" stroke="#111" stroke-width="1.0"/>
<line x1="609.50" y1="261.30" x2="631.10" y2="261.30" stroke="#111" stroke-width="0.9" />
<line x1="620.30" y1="250.30" x2="620.30" y2="271.90" stroke="#111" stroke-width="0.9" />
<line x1="614.50" y1="250.30" x2="626.10" y2="250.30" stroke="#111" stroke-width="0.9" />
<line x1="614.50" y1="271.90" x2="626.10" y2="271.90" stroke="#111" stroke-width="0.9" />
<circle cx="620.30" cy="221.00" r="3.60" fill="#fff" stroke="#111" stroke-width="1.2"/>
<circle cx="620.30" cy="261.40" r="3.60" fill="#fff" stroke="#111" stroke-width="1.2"/>
<circle cx="614.40" cy="271.60" r="3.60" fill="#fff" stroke="#111" stroke-width="1.2"/>
<circle cx="625.90" cy="272.40" r="3.60" fill="#fff" stroke="#111" stroke-width="1.2"/>
<circle cx="620.30" cy="280.60" r="3.60" fill="#fff" stroke="#111" stroke-width="1.2"/>
<line x1="642.40" y1="273.40" x2="664.00" y2="273.40" stroke="#111" stroke-width="0.9" />
<line x1="653.20" y1="268.70" x2="653.20" y2="277.80" stroke="#111" stroke-width="0.9" />
<line x1="647.40" y1="268.70" x2="659.00" y2="268.70" stroke="#111" stroke-width="0.9" />
<line x1="647.40" y1="277.80" x2="659.00" y2="277.80" stroke="#111" stroke-width="0.9" />
<circle cx="647.50" cy="261.90" r="3.15" fill="#111" stroke="#111" stroke-width="1.0"/>
<circle cx="657.90" cy="262.90" r="3.15" fill="#111" stroke="#111" stroke-width="1.0"/>
<circle cx="647.00" cy="279.20" r="3.15" fill="#111" stroke="#111" stroke-width="1.0"/>
<circle cx="653.20" cy="283.90" r="3.15" fill="#111" stroke="#111" stroke-width="1.0"/>
<circle cx="658.50" cy="283.90" r="3.15" fill="#111" stroke="#111" stroke-width="1.0"/>
<line x1="674.20" y1="281.70" x2="695.80" y2="281.70" stroke="#111" stroke-width="0.9" />
<line x1="685.00" y1="280.30" x2="685.00" y2="283.20" stroke="#111" stroke-width="0.9" />
<line x1="679.20" y1="280.30" x2="690.80" y2="280.30" stroke="#111" stroke-width="0.9" />
<line x1="679.20" y1="283.20" x2="690.80" y2="283.20" stroke="#111" stroke-width="0.9" />
<circle cx="680.00" cy="277.00" r="3.60" fill="#fff" stroke="#111" stroke-width="1.2"/>
<circle cx="691.00" cy="280.20" r="3.60" fill="#fff" stroke="#111" stroke-width="1.2"/>
<circle cx="681.50" cy="283.60" r="3.60" fill="#fff" stroke="#111" stroke-width="1.2"/>
<circle cx="688.80" cy="284.40" r="3.60" fill="#fff" stroke="#111" stroke-width="1.2"/>
<circle cx="684.90" cy="285.30" r="3.60" fill="#fff" stroke="#111" stroke-width="1.2"/>
<text x="0.90" y="350.00" text-anchor="start" font-size="14.8" font-weight="bold" >e</text>
<line x1="54.40" y1="358.65" x2="54.40" y2="463.75" stroke="#111" stroke-width="0.9" />
<line x1="54.40" y1="463.30" x2="210.00" y2="463.30" stroke="#111" stroke-width="0.9" />
<line x1="50.80" y1="437.25" x2="54.40" y2="437.25" stroke="#111" stroke-width="0.9" />
<text x="46.20" y="440.95" text-anchor="end" font-size="10.5" >0.9</text>
<line x1="50.80" y1="411.20" x2="54.40" y2="411.20" stroke="#111" stroke-width="0.9" />
<text x="46.20" y="414.90" text-anchor="end" font-size="10.5" >1.2</text>
<line x1="50.80" y1="385.15" x2="54.40" y2="385.15" stroke="#111" stroke-width="0.9" />
<text x="46.20" y="388.85" text-anchor="end" font-size="10.5" >1.5</text>
<line x1="50.80" y1="359.10" x2="54.40" y2="359.10" stroke="#111" stroke-width="0.9" />
<text x="46.20" y="362.80" text-anchor="end" font-size="10.5" >1.8</text>
<line x1="94.00" y1="463.30" x2="94.00" y2="467.30" stroke="#111" stroke-width="0.9" />
<text x="94.00" y="479.40" text-anchor="middle" font-size="10.5" >WT</text>
<line x1="171.20" y1="463.30" x2="171.20" y2="467.30" stroke="#111" stroke-width="0.9" />
<text x="171.20" y="479.40" text-anchor="middle" font-size="10.5" >TSLPR–/–</text>
<line x1="93.30" y1="380.30" x2="93.30" y2="390.00" stroke="#111" stroke-width="0.9" />
<line x1="80.30" y1="380.30" x2="106.30" y2="380.30" stroke="#111" stroke-width="0.9" />
<rect x="67.80" y="390.10" width="51.00" height="73.20" fill="#111" stroke="#111" stroke-width="0.9"/>
<line x1="170.90" y1="420.30" x2="170.90" y2="435.20" stroke="#111" stroke-width="0.9" />
<line x1="157.90" y1="420.30" x2="183.90" y2="420.30" stroke="#111" stroke-width="0.9" />
<rect x="145.00" y="435.20" width="52.00" height="28.10" fill="#fff" stroke="#111" stroke-width="0.9"/>
<text x="127.80" y="366.60" text-anchor="middle" font-size="10.5"><tspan font-style="italic">P</tspan>=0.031</text>
<line x1="101.30" y1="372.60" x2="154.20" y2="372.60" stroke="#111" stroke-width="0.9" />
<text transform="translate(10.80,413.10) rotate(-90)" text-anchor="middle" font-size="11.0">IFN-γ-producing CD8+</text>
<text transform="translate(23.6,412) rotate(-90)" text-anchor="middle" font-size="10.5">T cells (×10<tspan font-size="7.2" dy="-3.6">5</tspan><tspan dy="3.6">)</tspan></text>
<text x="231.60" y="350.00" text-anchor="start" font-size="14.8" font-weight="bold" >f</text>
<text x="291.90" y="361.50" text-anchor="middle" font-size="10.5" >Gated on</text>
<text x="290.20" y="374.40" text-anchor="middle" font-size="10.5" >all CD8+ T cells</text>
<text x="387.40" y="361.50" text-anchor="middle" font-size="10.5" >Gated on</text>
<text x="386.20" y="374.40" text-anchor="middle" font-size="10.5" >NP+ CD8+ T cells</text>
<line x1="242.40" y1="463.40" x2="242.40" y2="399.90" stroke="#111" stroke-width="0.9" />
<path d="M239.1,401.7L242.4,395.9L245.7,401.7L242.4,400.4Z" fill="#111"/>
<line x1="242.40" y1="463.40" x2="446.20" y2="463.40" stroke="#111" stroke-width="0.9" />
<path d="M444.4,460.1L450.2,463.4L444.4,466.7L445.7,463.4Z" fill="#111"/>
<text transform="translate(237.60,436.90) rotate(-90)" text-anchor="middle" font-size="10.9">Counts</text>
<text x="244.40" y="474.20" text-anchor="start" font-size="10.5" >Granzyme B</text>
<line x1="242.60" y1="487.30" x2="263.80" y2="487.30" stroke="#111" stroke-width="0.9" />
<text x="269.40" y="490.20" text-anchor="start" font-size="10.5" >WT</text>
<line x1="242.60" y1="501.10" x2="263.80" y2="501.10" stroke="#777" stroke-width="1.0" stroke-dasharray="0.8,0.7"/>
<text x="269.40" y="505.20" text-anchor="start" font-size="10.5" >TSLPR–/–</text>
<rect x="257.00" y="378.40" width="75.20" height="74.90" fill="#fff" stroke="#888" stroke-width="0.7"/>
<path d="M265.9,453.0 L267.6,448.6 L268.7,441.9 L269.7,431.9 L270.7,418.5 L271.7,405.1 L272.8,393.4 L273.4,387.5 L273.9,384.2 L274.6,389.2 L275.4,395.1 L276.4,403.4 L277.4,411.8 L278.4,418.5 L279.4,428.5 L280.6,438.6 L282.1,445.3 L284.3,450.3 L287.6,453.0Z" fill="#9a9a9a" stroke="#8c8c8c" stroke-width="0.3"/>
<path d="M268.4,453.0 L275.1,452.3 L279.3,450.3 L281.8,447.8 L283.5,444.4 L284.8,439.4 L286.0,433.5 L287.1,427.7 L288.1,421.8 L289.3,416.0 L290.1,410.1 L291.0,404.3 L291.5,398.4 L292.2,393.4 L292.8,396.4 L293.5,390.9 L294.2,395.4 L294.8,387.5 L295.5,401.8 L296.2,390.1 L296.8,386.7 L297.7,391.4 L298.5,385.9 L299.3,383.4 L300.2,385.4 L301.0,382.5 L301.9,384.7 L302.7,395.4 L303.5,386.7 L304.4,391.7 L305.5,393.4 L306.9,396.7 L307.7,402.6 L308.9,408.5 L310.2,414.3 L311.6,420.2 L312.7,425.2 L314.4,431.9 L315.6,436.1 L316.9,438.6 L318.6,443.6 L320.3,447.3 L321.9,450.3 L323.6,452.3 L330.3,453.0" fill="none" stroke="#222" stroke-width="0.75" stroke-linejoin="round"/>
<path d="M270.1,453.0 L276.8,451.6 L280.1,446.9 L281.8,441.9 L283.0,433.5 L284.3,425.2 L285.5,416.8 L286.8,408.5 L288.1,402.6 L289.3,400.1 L290.5,391.7 L291.5,394.7 L292.5,388.4 L293.5,392.1 L294.5,385.0 L295.5,383.0 L296.5,387.0 L297.5,384.2 L298.5,390.1 L299.8,391.7 L301.0,395.9 L302.2,401.8 L303.5,410.1 L304.9,418.5 L306.2,426.0 L307.7,432.7 L309.0,438.6 L310.6,444.4 L312.2,448.6 L313.9,451.1 L316.1,453.0" fill="none" stroke="#333" stroke-width="0.75" stroke-dasharray="0.9,0.8"/>
<line x1="257.00" y1="452.80" x2="332.20" y2="452.80" stroke="#333" stroke-width="0.9" />
<line x1="257.00" y1="447.10" x2="258.20" y2="447.10" stroke="#555" stroke-width="0.4" />
<line x1="257.00" y1="440.90" x2="258.20" y2="440.90" stroke="#555" stroke-width="0.4" />
<line x1="257.00" y1="434.70" x2="258.20" y2="434.70" stroke="#555" stroke-width="0.4" />
<line x1="257.00" y1="428.50" x2="258.20" y2="428.50" stroke="#555" stroke-width="0.4" />
<line x1="257.00" y1="422.30" x2="258.20" y2="422.30" stroke="#555" stroke-width="0.4" />
<line x1="257.00" y1="416.10" x2="258.20" y2="416.10" stroke="#555" stroke-width="0.4" />
<line x1="257.00" y1="409.90" x2="258.20" y2="409.90" stroke="#555" stroke-width="0.4" />
<line x1="257.00" y1="403.70" x2="258.20" y2="403.70" stroke="#555" stroke-width="0.4" />
<line x1="257.00" y1="397.50" x2="258.20" y2="397.50" stroke="#555" stroke-width="0.4" />
<line x1="257.00" y1="391.30" x2="258.20" y2="391.30" stroke="#555" stroke-width="0.4" />
<line x1="257.00" y1="385.10" x2="258.20" y2="385.10" stroke="#555" stroke-width="0.4" />
<rect x="351.40" y="379.30" width="77.80" height="77.30" fill="#fff" stroke="#888" stroke-width="0.7"/>
<path d="M360.4,456.3 L361.7,453.6 L363.4,445.3 L364.7,435.2 L365.9,423.5 L366.9,408.5 L367.8,398.4 L368.6,395.1 L369.4,391.7 L370.3,384.7 L370.9,388.4 L371.6,384.2 L372.3,386.7 L373.1,393.4 L374.1,404.3 L375.1,412.6 L376.1,414.3 L376.8,411.0 L377.6,420.2 L378.8,427.7 L380.1,435.2 L381.5,442.7 L383.1,449.4 L385.5,454.0 L389.8,456.3Z" fill="#9a9a9a" stroke="#8c8c8c" stroke-width="0.3"/>
<path d="M365.1,456.5 L370.1,455.5 L375.9,453.0 L379.3,448.6 L381.8,443.6 L384.3,436.9 L386.8,430.2 L388.2,428.5 L389.3,423.5 L390.5,418.5 L391.8,408.5 L392.7,398.4 L393.8,395.1 L394.8,390.9 L395.7,389.2 L396.9,398.4 L397.7,393.4 L398.9,388.4 L399.9,386.7 L401.0,394.2 L402.2,390.9 L403.2,384.2 L404.0,385.0 L404.9,395.1 L406.1,401.8 L407.2,411.8 L408.2,420.2 L409.9,423.5 L411.1,428.5 L412.7,430.2 L413.6,438.6 L414.4,443.6 L416.1,441.9 L417.3,446.9 L418.6,453.6 L421.1,456.5 L427.8,456.5" fill="none" stroke="#222" stroke-width="0.75" stroke-linejoin="round"/>
<path d="M365.1,456.5 L370.1,456.1 L374.3,453.6 L376.8,448.6 L378.5,440.2 L380.1,430.2 L381.0,420.2 L381.8,408.5 L383.1,400.1 L384.3,411.8 L385.5,396.7 L386.5,385.0 L387.3,383.4 L388.2,393.4 L389.3,398.4 L390.2,406.8 L391.5,400.1 L392.7,410.1 L393.8,406.8 L395.2,408.5 L396.9,416.8 L398.2,426.9 L399.4,423.5 L401.0,426.9 L402.7,436.9 L404.4,440.2 L406.1,446.9 L408.6,452.8 L411.9,456.3" fill="none" stroke="#333" stroke-width="0.75" stroke-dasharray="0.9,0.8"/>
<line x1="351.40" y1="456.10" x2="429.20" y2="456.10" stroke="#333" stroke-width="0.9" />
<line x1="351.40" y1="450.40" x2="352.60" y2="450.40" stroke="#555" stroke-width="0.4" />
<line x1="351.40" y1="444.20" x2="352.60" y2="444.20" stroke="#555" stroke-width="0.4" />
<line x1="351.40" y1="438.00" x2="352.60" y2="438.00" stroke="#555" stroke-width="0.4" />
<line x1="351.40" y1="431.80" x2="352.60" y2="431.80" stroke="#555" stroke-width="0.4" />
<line x1="351.40" y1="425.60" x2="352.60" y2="425.60" stroke="#555" stroke-width="0.4" />
<line x1="351.40" y1="419.40" x2="352.60" y2="419.40" stroke="#555" stroke-width="0.4" />
<line x1="351.40" y1="413.20" x2="352.60" y2="413.20" stroke="#555" stroke-width="0.4" />
<line x1="351.40" y1="407.00" x2="352.60" y2="407.00" stroke="#555" stroke-width="0.4" />
<line x1="351.40" y1="400.80" x2="352.60" y2="400.80" stroke="#555" stroke-width="0.4" />
<line x1="351.40" y1="394.60" x2="352.60" y2="394.60" stroke="#555" stroke-width="0.4" />
<line x1="351.40" y1="388.40" x2="352.60" y2="388.40" stroke="#555" stroke-width="0.4" />
<line x1="506.70" y1="345.35" x2="506.70" y2="463.25" stroke="#111" stroke-width="0.9" />
<line x1="506.70" y1="462.80" x2="683.00" y2="462.80" stroke="#111" stroke-width="0.9" />
<line x1="503.80" y1="439.40" x2="506.70" y2="439.40" stroke="#111" stroke-width="0.9" />
<text x="498.50" y="443.10" text-anchor="end" font-size="10.5" >1</text>
<line x1="503.80" y1="416.00" x2="506.70" y2="416.00" stroke="#111" stroke-width="0.9" />
<text x="498.50" y="419.70" text-anchor="end" font-size="10.5" >2</text>
<line x1="503.80" y1="392.60" x2="506.70" y2="392.60" stroke="#111" stroke-width="0.9" />
<text x="498.50" y="396.30" text-anchor="end" font-size="10.5" >3</text>
<line x1="503.80" y1="369.20" x2="506.70" y2="369.20" stroke="#111" stroke-width="0.9" />
<text x="498.50" y="372.90" text-anchor="end" font-size="10.5" >4</text>
<line x1="503.80" y1="345.80" x2="506.70" y2="345.80" stroke="#111" stroke-width="0.9" />
<text x="498.50" y="349.50" text-anchor="end" font-size="10.5" >5</text>
<line x1="529.00" y1="378.50" x2="529.00" y2="386.20" stroke="#111" stroke-width="0.9" />
<line x1="521.50" y1="378.50" x2="536.50" y2="378.50" stroke="#111" stroke-width="0.9" />
<rect x="514.70" y="386.20" width="28.60" height="76.60" fill="#444" stroke="#111" stroke-width="0.9"/>
<line x1="573.00" y1="404.30" x2="573.00" y2="412.20" stroke="#111" stroke-width="0.9" />
<line x1="565.50" y1="404.30" x2="580.50" y2="404.30" stroke="#111" stroke-width="0.9" />
<rect x="558.30" y="412.20" width="29.30" height="50.60" fill="#fff" stroke="#111" stroke-width="0.9"/>
<line x1="616.90" y1="363.90" x2="616.90" y2="374.50" stroke="#111" stroke-width="0.9" />
<line x1="609.40" y1="363.90" x2="624.40" y2="363.90" stroke="#111" stroke-width="0.9" />
<rect x="602.70" y="374.50" width="28.70" height="88.30" fill="#111" stroke="#111" stroke-width="0.9"/>
<line x1="660.60" y1="395.80" x2="660.60" y2="404.80" stroke="#111" stroke-width="0.9" />
<line x1="653.10" y1="395.80" x2="668.10" y2="395.80" stroke="#111" stroke-width="0.9" />
<rect x="646.50" y="404.80" width="28.70" height="58.00" fill="#fff" stroke="#111" stroke-width="0.9"/>
<text x="551.00" y="346.60" text-anchor="middle" font-size="10.5"><tspan font-style="italic">P</tspan>=0.034</text>
<line x1="530.80" y1="352.60" x2="567.40" y2="352.60" stroke="#111" stroke-width="0.9" />
<text x="643.50" y="346.50" text-anchor="middle" font-size="10.5"><tspan font-style="italic">P</tspan>=0.052</text>
<line x1="623.60" y1="351.00" x2="662.30" y2="351.00" stroke="#111" stroke-width="0.9" />
<polyline fill="none" stroke="#111" stroke-width="0.9" points="527.5,468.3 527.5,477.2 578.4,477.2 578.4,468.3"/>
<text x="549.90" y="490.30" text-anchor="middle" font-size="10.5" >Gated on</text>
<text x="548.10" y="501.80" text-anchor="middle" font-size="10.5" >all CD8+ T cells</text>
<polyline fill="none" stroke="#111" stroke-width="0.9" points="617.4,468.3 617.4,477.2 669.3,477.2 669.3,468.3"/>
<text x="642.50" y="490.30" text-anchor="middle" font-size="10.5" >Gated on</text>
<text x="640.50" y="501.80" text-anchor="middle" font-size="10.5" >NP+ CD8+ T cells</text>
<rect x="677.40" y="347.00" width="7.70" height="7.70" fill="#111" stroke="#111" stroke-width="0.9"/>
<text x="690.40" y="354.00" text-anchor="start" font-size="10.5" >WT</text>
<rect x="677.20" y="359.50" width="7.90" height="7.90" fill="#fff" stroke="#111" stroke-width="0.9"/>
<text x="690.40" y="368.40" text-anchor="start" font-size="10.5" >TSLPR–/–</text>
<text transform="translate(480.9,404.9) rotate(-90)" text-anchor="middle" font-size="10.6">MFI Granzyme B (×10<tspan font-size="7.2" dy="-3.6">3</tspan><tspan dy="3.6">)</tspan></text>
</svg></body></html>
